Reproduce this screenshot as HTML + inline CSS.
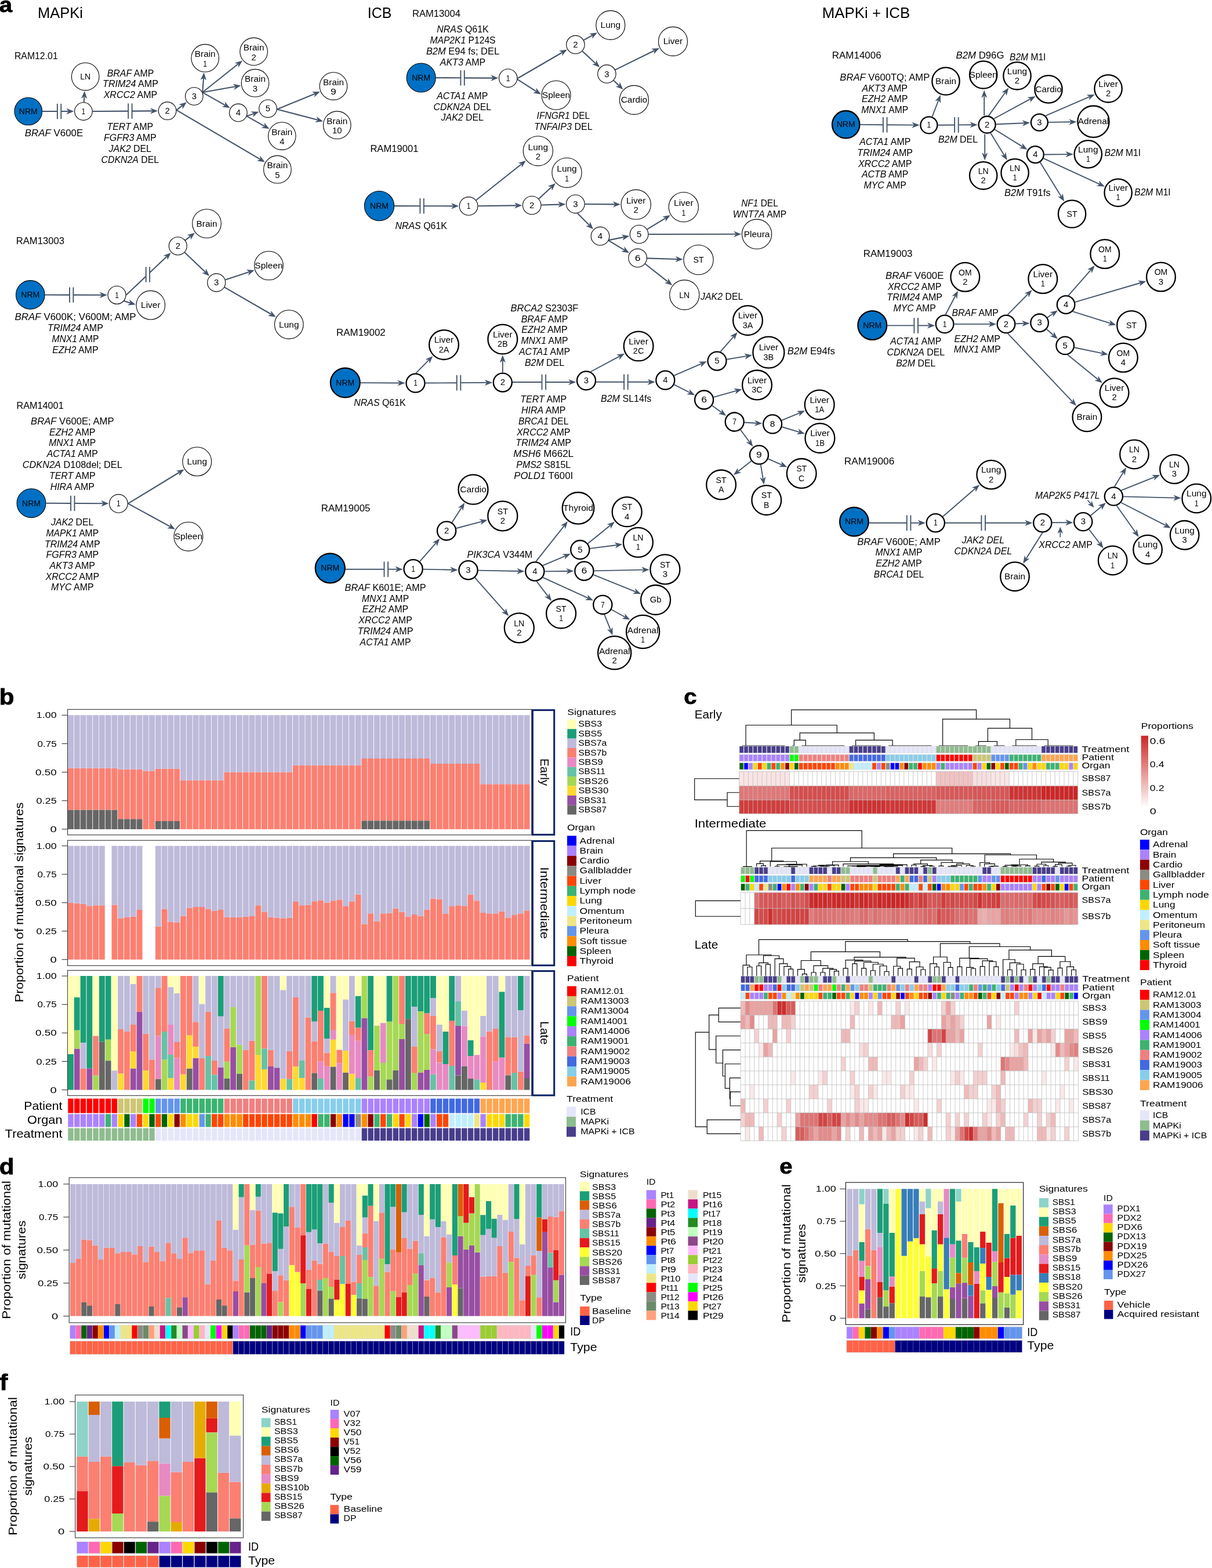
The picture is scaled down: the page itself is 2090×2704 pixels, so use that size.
<!DOCTYPE html>
<html lang="en"><head><meta charset="utf-8"><title>Figure</title>
<style>
html,body{margin:0;padding:0;background:#fff;}
svg{display:block;font-family:"Liberation Sans", sans-serif;}
text{font-family:"Liberation Sans", sans-serif;}
</style></head>
<body>
<svg width="2090" height="2704" viewBox="0 0 2090 2704">
<rect x="0" y="0" width="2090" height="2704" fill="#fff"/>
<g id="panel-a">
<text x="-1.2" y="21.2" font-size="37.5" font-weight="bold" stroke="#000" stroke-width="0.8" textLength="22.3" lengthAdjust="spacingAndGlyphs">a</text>
<text x="65" y="31.2" font-size="26" textLength="78" lengthAdjust="spacingAndGlyphs">MAPKi</text>
<text x="633.8" y="31.2" font-size="26" textLength="41.6" lengthAdjust="spacingAndGlyphs">ICB</text>
<text x="1417.8" y="30.6" font-size="26" textLength="151.4" lengthAdjust="spacingAndGlyphs">MAPKi + ICB</text>
<text x="24.9" y="102.4" font-size="15.7" textLength="74.8" lengthAdjust="spacingAndGlyphs">RAM12.01</text>
<line x1="98.9" y1="178.86" x2="98.9" y2="205.26" stroke="#44546A" stroke-width="1.9"/>
<line x1="105.3" y1="178.86" x2="105.3" y2="205.26" stroke="#44546A" stroke-width="1.9"/>
<line x1="73.15" y1="192.03" x2="98.9" y2="192.05" stroke="#44546A" stroke-width="2.1"/>
<line x1="105.3" y1="192.06" x2="117.7" y2="192.07" stroke="#44546A" stroke-width="2.1"/>
<polygon points="127.45,192.08 114.44,197.27 118.09,192.07 114.46,186.87" fill="#44546A"/>
<line x1="144.77" y1="176.27" x2="145.29" y2="166.75" stroke="#44546A" stroke-width="2.1"/>
<polygon points="145.83,157.01 150.31,170.28 145.32,166.36 139.92,169.71" fill="#44546A"/>
<line x1="221.2" y1="178.4" x2="221.2" y2="204.8" stroke="#44546A" stroke-width="1.9"/>
<line x1="227.6" y1="178.4" x2="227.6" y2="204.8" stroke="#44546A" stroke-width="1.9"/>
<line x1="159.75" y1="192" x2="221.2" y2="191.62" stroke="#44546A" stroke-width="2.1"/>
<line x1="227.6" y1="191.58" x2="262.4" y2="191.36" stroke="#44546A" stroke-width="2.1"/>
<polygon points="272.15,191.3 259.18,196.58 262.79,191.36 259.12,186.18" fill="#44546A"/>
<line x1="304.39" y1="189.82" x2="314.17" y2="182.16" stroke="#44546A" stroke-width="2.1"/>
<polygon points="321.85,176.14 314.82,188.25 314.48,181.91 308.41,180.07" fill="#44546A"/>
<line x1="304.39" y1="189.82" x2="448.49" y2="274.6" stroke="#44546A" stroke-width="2.1"/>
<polygon points="456.9,279.55 443.05,277.44 448.83,274.8 448.33,268.47" fill="#44546A"/>
<line x1="349.16" y1="159.3" x2="351.05" y2="134.8" stroke="#44546A" stroke-width="2.1"/>
<polygon points="351.79,125.08 355.98,138.44 351.08,134.41 345.61,137.64" fill="#44546A"/>
<line x1="349.16" y1="159.3" x2="410.45" y2="110.51" stroke="#44546A" stroke-width="2.1"/>
<polygon points="418.08,104.44 411.15,116.6 410.76,110.27 404.67,108.47" fill="#44546A"/>
<line x1="349.16" y1="159.3" x2="405.83" y2="149.26" stroke="#44546A" stroke-width="2.1"/>
<polygon points="415.43,147.55 403.54,154.94 406.22,149.19 401.72,144.7" fill="#44546A"/>
<line x1="349.16" y1="159.3" x2="388.12" y2="181.45" stroke="#44546A" stroke-width="2.1"/>
<polygon points="396.6,186.27 382.73,184.37 388.46,181.64 387.87,175.32" fill="#44546A"/>
<line x1="425.6" y1="200.34" x2="437.33" y2="196.13" stroke="#44546A" stroke-width="2.1"/>
<polygon points="446.51,192.85 436.03,202.12 437.7,196 432.52,192.33" fill="#44546A"/>
<line x1="425.6" y1="200.34" x2="456.08" y2="217.54" stroke="#44546A" stroke-width="2.1"/>
<polygon points="464.57,222.34 450.69,220.47 456.42,217.74 455.81,211.42" fill="#44546A"/>
<line x1="477.81" y1="188.41" x2="542.89" y2="161.75" stroke="#44546A" stroke-width="2.1"/>
<polygon points="551.91,158.06 541.85,167.8 543.25,161.6 537.91,158.17" fill="#44546A"/>
<line x1="477.81" y1="188.41" x2="547.75" y2="206.85" stroke="#44546A" stroke-width="2.1"/>
<polygon points="557.17,209.34 543.28,211.05 548.12,206.95 545.93,200.99" fill="#44546A"/>
<circle cx="48.8" cy="192" r="23.8" fill="#0070C4" stroke="#000" stroke-width="1.1"/>
<text x="48.8" y="197" font-size="14" text-anchor="middle" textLength="32" lengthAdjust="spacingAndGlyphs">NRM</text>
<circle cx="143.9" cy="192.1" r="15.3" fill="#fff" stroke="#000" stroke-width="1.1"/>
<text x="143.9" y="197.1" font-size="14" text-anchor="middle" textLength="6.7" lengthAdjust="spacingAndGlyphs">1</text>
<circle cx="147.2" cy="132.1" r="23.8" fill="#fff" stroke="#000" stroke-width="1.1"/>
<text x="147.2" y="137.1" font-size="14" text-anchor="middle" textLength="18" lengthAdjust="spacingAndGlyphs">LN</text>
<circle cx="288.6" cy="191.2" r="15.3" fill="#fff" stroke="#000" stroke-width="1.1"/>
<text x="288.6" y="196.2" font-size="14" text-anchor="middle" textLength="8.3" lengthAdjust="spacingAndGlyphs">2</text>
<circle cx="334.8" cy="166" r="15.3" fill="#fff" stroke="#000" stroke-width="1.1"/>
<text x="334.8" y="171" font-size="14" text-anchor="middle" textLength="8.3" lengthAdjust="spacingAndGlyphs">3</text>
<circle cx="353.7" cy="100.2" r="23.8" fill="#fff" stroke="#000" stroke-width="1.1"/>
<text x="353.7" y="98.4" font-size="14" text-anchor="middle" textLength="35.9" lengthAdjust="spacingAndGlyphs">Brain</text>
<text x="353.7" y="114.9" font-size="14" text-anchor="middle" textLength="6.7" lengthAdjust="spacingAndGlyphs">1</text>
<circle cx="437.6" cy="88.9" r="23.8" fill="#fff" stroke="#000" stroke-width="1.1"/>
<text x="437.6" y="87.1" font-size="14" text-anchor="middle" textLength="35.9" lengthAdjust="spacingAndGlyphs">Brain</text>
<text x="437.6" y="103.6" font-size="14" text-anchor="middle" textLength="8.3" lengthAdjust="spacingAndGlyphs">2</text>
<circle cx="440" cy="143.2" r="23.8" fill="#fff" stroke="#000" stroke-width="1.1"/>
<text x="440" y="141.4" font-size="14" text-anchor="middle" textLength="35.9" lengthAdjust="spacingAndGlyphs">Brain</text>
<text x="440" y="157.9" font-size="14" text-anchor="middle" textLength="8.3" lengthAdjust="spacingAndGlyphs">3</text>
<circle cx="410.9" cy="194.4" r="15.3" fill="#fff" stroke="#000" stroke-width="1.1"/>
<text x="410.9" y="199.4" font-size="14" text-anchor="middle" textLength="8.3" lengthAdjust="spacingAndGlyphs">4</text>
<circle cx="462" cy="187.3" r="15.3" fill="#fff" stroke="#000" stroke-width="1.1"/>
<text x="462" y="192.3" font-size="14" text-anchor="middle" textLength="8.3" lengthAdjust="spacingAndGlyphs">5</text>
<circle cx="486.3" cy="234.6" r="23.8" fill="#fff" stroke="#000" stroke-width="1.1"/>
<text x="486.3" y="232.8" font-size="14" text-anchor="middle" textLength="35.9" lengthAdjust="spacingAndGlyphs">Brain</text>
<text x="486.3" y="249.3" font-size="14" text-anchor="middle" textLength="8.3" lengthAdjust="spacingAndGlyphs">4</text>
<circle cx="478.4" cy="292.2" r="23.8" fill="#fff" stroke="#000" stroke-width="1.1"/>
<text x="478.4" y="290.4" font-size="14" text-anchor="middle" textLength="35.9" lengthAdjust="spacingAndGlyphs">Brain</text>
<text x="478.4" y="306.9" font-size="14" text-anchor="middle" textLength="8.3" lengthAdjust="spacingAndGlyphs">5</text>
<circle cx="575" cy="148.6" r="23.8" fill="#fff" stroke="#000" stroke-width="1.1"/>
<text x="575" y="146.8" font-size="14" text-anchor="middle" textLength="35.9" lengthAdjust="spacingAndGlyphs">Brain</text>
<text x="575" y="163.3" font-size="14" text-anchor="middle" textLength="9.8" lengthAdjust="spacingAndGlyphs">9</text>
<circle cx="581.3" cy="215.7" r="23.8" fill="#fff" stroke="#000" stroke-width="1.1"/>
<text x="581.3" y="213.9" font-size="14" text-anchor="middle" textLength="35.9" lengthAdjust="spacingAndGlyphs">Brain</text>
<text x="581.3" y="230.4" font-size="14" text-anchor="middle" textLength="16.5" lengthAdjust="spacingAndGlyphs">10</text>
<text x="225" y="131.5" font-size="15.7" text-anchor="middle" textLength="80.6" lengthAdjust="spacingAndGlyphs"><tspan font-style="italic">BRAF</tspan> AMP</text>
<text x="225" y="150.4" font-size="15.7" text-anchor="middle" textLength="95.8" lengthAdjust="spacingAndGlyphs"><tspan font-style="italic">TRIM24</tspan> AMP</text>
<text x="225" y="169.2" font-size="15.7" text-anchor="middle" textLength="92.6" lengthAdjust="spacingAndGlyphs"><tspan font-style="italic">XRCC2</tspan> AMP</text>
<text x="93" y="234.6" font-size="15.7" text-anchor="middle" textLength="100.5" lengthAdjust="spacingAndGlyphs"><tspan font-style="italic">BRAF</tspan> V600E</text>
<text x="224.3" y="224" font-size="15.7" text-anchor="middle" textLength="79.8" lengthAdjust="spacingAndGlyphs"><tspan font-style="italic">TERT</tspan> AMP</text>
<text x="224.3" y="242.8" font-size="15.7" text-anchor="middle" textLength="90.8" lengthAdjust="spacingAndGlyphs"><tspan font-style="italic">FGFR3</tspan> AMP</text>
<text x="224.3" y="261.6" font-size="15.7" text-anchor="middle" textLength="73.4" lengthAdjust="spacingAndGlyphs"><tspan font-style="italic">JAK2</tspan> DEL</text>
<text x="224.3" y="280.5" font-size="15.7" text-anchor="middle" textLength="99.6" lengthAdjust="spacingAndGlyphs"><tspan font-style="italic">CDKN2A</tspan> DEL</text>
<text x="27.7" y="421.3" font-size="15.7" textLength="83.2" lengthAdjust="spacingAndGlyphs">RAM13003</text>
<line x1="120" y1="495.39" x2="120" y2="521.79" stroke="#44546A" stroke-width="1.9"/>
<line x1="126.4" y1="495.39" x2="126.4" y2="521.79" stroke="#44546A" stroke-width="1.9"/>
<line x1="77.65" y1="508.47" x2="120" y2="508.58" stroke="#44546A" stroke-width="2.1"/>
<line x1="126.4" y1="508.6" x2="175.1" y2="508.73" stroke="#44546A" stroke-width="2.1"/>
<polygon points="184.85,508.76 171.84,513.92 175.49,508.73 171.86,503.52" fill="#44546A"/>
<line x1="251.7" y1="460.2" x2="251.7" y2="486.6" stroke="#44546A" stroke-width="1.9"/>
<line x1="258.1" y1="460.2" x2="258.1" y2="486.6" stroke="#44546A" stroke-width="1.9"/>
<line x1="217.55" y1="508.8" x2="251.7" y2="476.43" stroke="#44546A" stroke-width="2.1"/>
<line x1="258.1" y1="470.36" x2="287.64" y2="442.36" stroke="#44546A" stroke-width="2.1"/>
<polygon points="294.72,435.65 288.86,448.37 287.92,442.09 281.7,440.82" fill="#44546A"/>
<line x1="213.8" y1="519.12" x2="224.55" y2="522.43" stroke="#44546A" stroke-width="2.1"/>
<polygon points="233.87,525.29 219.91,526.44 224.92,522.54 222.97,516.5" fill="#44546A"/>
<line x1="319.46" y1="414.34" x2="328.33" y2="407.43" stroke="#44546A" stroke-width="2.1"/>
<polygon points="336.03,401.44 328.96,413.53 328.64,407.19 322.57,405.33" fill="#44546A"/>
<line x1="318.43" y1="435.27" x2="354.08" y2="469.2" stroke="#44546A" stroke-width="2.1"/>
<polygon points="361.14,475.92 348.14,470.72 354.36,469.47 355.31,463.19" fill="#44546A"/>
<line x1="388.46" y1="482.43" x2="429.55" y2="469.05" stroke="#44546A" stroke-width="2.1"/>
<polygon points="438.82,466.03 428.07,475 429.92,468.93 424.85,465.11" fill="#44546A"/>
<line x1="387.1" y1="495.42" x2="467.38" y2="541.75" stroke="#44546A" stroke-width="2.1"/>
<polygon points="475.82,546.63 461.97,544.63 467.72,541.95 467.16,535.63" fill="#44546A"/>
<circle cx="52.3" cy="508.4" r="24.8" fill="#0070C4" stroke="#000" stroke-width="1.1"/>
<text x="52.3" y="513.4" font-size="14" text-anchor="middle" textLength="32" lengthAdjust="spacingAndGlyphs">NRM</text>
<circle cx="201.5" cy="508.8" r="15.5" fill="#fff" stroke="#000" stroke-width="1.1"/>
<text x="201.5" y="513.8" font-size="14" text-anchor="middle" textLength="6.7" lengthAdjust="spacingAndGlyphs">1</text>
<circle cx="259.8" cy="526.2" r="24.8" fill="#fff" stroke="#000" stroke-width="1.1"/>
<text x="259.8" y="531.2" font-size="14" text-anchor="middle" textLength="33.5" lengthAdjust="spacingAndGlyphs">Liver</text>
<circle cx="306.8" cy="424.2" r="15.5" fill="#fff" stroke="#000" stroke-width="1.1"/>
<text x="306.8" y="429.2" font-size="14" text-anchor="middle" textLength="8.3" lengthAdjust="spacingAndGlyphs">2</text>
<circle cx="356.5" cy="385.5" r="24.8" fill="#fff" stroke="#000" stroke-width="1.1"/>
<text x="356.5" y="390.5" font-size="14" text-anchor="middle" textLength="35.9" lengthAdjust="spacingAndGlyphs">Brain</text>
<circle cx="373.2" cy="487.4" r="15.5" fill="#fff" stroke="#000" stroke-width="1.1"/>
<text x="373.2" y="492.4" font-size="14" text-anchor="middle" textLength="8.3" lengthAdjust="spacingAndGlyphs">3</text>
<circle cx="463.5" cy="458" r="24.8" fill="#fff" stroke="#000" stroke-width="1.1"/>
<text x="463.5" y="463" font-size="14" text-anchor="middle" textLength="48.3" lengthAdjust="spacingAndGlyphs">Spleen</text>
<circle cx="498.3" cy="559.6" r="24.8" fill="#fff" stroke="#000" stroke-width="1.1"/>
<text x="498.3" y="564.6" font-size="14" text-anchor="middle" textLength="34.4" lengthAdjust="spacingAndGlyphs">Lung</text>
<text x="130" y="552.1" font-size="15.7" text-anchor="middle" textLength="209" lengthAdjust="spacingAndGlyphs"><tspan font-style="italic">BRAF</tspan> V600K; V600M; AMP</text>
<text x="130" y="571" font-size="15.7" text-anchor="middle" textLength="95.8" lengthAdjust="spacingAndGlyphs"><tspan font-style="italic">TRIM24</tspan> AMP</text>
<text x="130" y="589.8" font-size="15.7" text-anchor="middle" textLength="81.1" lengthAdjust="spacingAndGlyphs"><tspan font-style="italic">MNX1</tspan> AMP</text>
<text x="130" y="608.6" font-size="15.7" text-anchor="middle" textLength="79.5" lengthAdjust="spacingAndGlyphs"><tspan font-style="italic">EZH2</tspan> AMP</text>
<text x="28.4" y="705" font-size="15.7" textLength="81.3" lengthAdjust="spacingAndGlyphs">RAM14001</text>
<line x1="122.1" y1="854.83" x2="122.1" y2="881.23" stroke="#44546A" stroke-width="1.9"/>
<line x1="128.5" y1="854.83" x2="128.5" y2="881.23" stroke="#44546A" stroke-width="1.9"/>
<line x1="79.45" y1="867.82" x2="122.1" y2="868.02" stroke="#44546A" stroke-width="2.1"/>
<line x1="128.5" y1="868.05" x2="177.7" y2="868.28" stroke="#44546A" stroke-width="2.1"/>
<polygon points="187.45,868.32 174.43,873.46 178.09,868.28 174.47,863.06" fill="#44546A"/>
<line x1="220.75" y1="868.4" x2="309.22" y2="814.52" stroke="#44546A" stroke-width="2.1"/>
<polygon points="317.55,809.45 309.15,820.65 309.56,814.32 303.74,811.77" fill="#44546A"/>
<line x1="220.75" y1="868.4" x2="293.47" y2="908.06" stroke="#44546A" stroke-width="2.1"/>
<polygon points="302.03,912.73 288.13,911.07 293.81,908.25 293.11,901.94" fill="#44546A"/>
<circle cx="54" cy="867.7" r="24.9" fill="#0070C4" stroke="#000" stroke-width="1.1"/>
<text x="54" y="872.7" font-size="14" text-anchor="middle" textLength="32" lengthAdjust="spacingAndGlyphs">NRM</text>
<circle cx="204.4" cy="868.4" r="15.8" fill="#fff" stroke="#000" stroke-width="1.1"/>
<text x="204.4" y="873.4" font-size="14" text-anchor="middle" textLength="6.7" lengthAdjust="spacingAndGlyphs">1</text>
<circle cx="339.8" cy="795.9" r="24.9" fill="#fff" stroke="#000" stroke-width="1.1"/>
<text x="339.8" y="800.9" font-size="14" text-anchor="middle" textLength="34.4" lengthAdjust="spacingAndGlyphs">Lung</text>
<circle cx="324.9" cy="925.2" r="24.9" fill="#fff" stroke="#000" stroke-width="1.1"/>
<text x="324.9" y="930.2" font-size="14" text-anchor="middle" textLength="48.3" lengthAdjust="spacingAndGlyphs">Spleen</text>
<text x="124.8" y="731.6" font-size="15.7" text-anchor="middle" textLength="143.5" lengthAdjust="spacingAndGlyphs"><tspan font-style="italic">BRAF</tspan> V600E; AMP</text>
<text x="124.8" y="750.5" font-size="15.7" text-anchor="middle" textLength="79.5" lengthAdjust="spacingAndGlyphs"><tspan font-style="italic">EZH2</tspan> AMP</text>
<text x="124.8" y="769.3" font-size="15.7" text-anchor="middle" textLength="81.1" lengthAdjust="spacingAndGlyphs"><tspan font-style="italic">MNX1</tspan> AMP</text>
<text x="124.8" y="788.2" font-size="15.7" text-anchor="middle" textLength="88.1" lengthAdjust="spacingAndGlyphs"><tspan font-style="italic">ACTA1</tspan> AMP</text>
<text x="124.8" y="807" font-size="15.7" text-anchor="middle" textLength="172" lengthAdjust="spacingAndGlyphs"><tspan font-style="italic">CDKN2A</tspan> D108del; DEL</text>
<text x="124.8" y="825.9" font-size="15.7" text-anchor="middle" textLength="79.8" lengthAdjust="spacingAndGlyphs"><tspan font-style="italic">TERT</tspan> AMP</text>
<text x="124.8" y="844.7" font-size="15.7" text-anchor="middle" textLength="76.3" lengthAdjust="spacingAndGlyphs"><tspan font-style="italic">HIRA</tspan> AMP</text>
<text x="124.8" y="906.4" font-size="15.7" text-anchor="middle" textLength="73.4" lengthAdjust="spacingAndGlyphs"><tspan font-style="italic">JAK2</tspan> DEL</text>
<text x="124.8" y="925.1" font-size="15.7" text-anchor="middle" textLength="90.7" lengthAdjust="spacingAndGlyphs"><tspan font-style="italic">MAPK1</tspan> AMP</text>
<text x="124.8" y="943.8" font-size="15.7" text-anchor="middle" textLength="95.8" lengthAdjust="spacingAndGlyphs"><tspan font-style="italic">TRIM24</tspan> AMP</text>
<text x="124.8" y="962.4" font-size="15.7" text-anchor="middle" textLength="90.8" lengthAdjust="spacingAndGlyphs"><tspan font-style="italic">FGFR3</tspan> AMP</text>
<text x="124.8" y="981.1" font-size="15.7" text-anchor="middle" textLength="78.6" lengthAdjust="spacingAndGlyphs"><tspan font-style="italic">AKT3</tspan> AMP</text>
<text x="124.8" y="999.8" font-size="15.7" text-anchor="middle" textLength="92.6" lengthAdjust="spacingAndGlyphs"><tspan font-style="italic">XRCC2</tspan> AMP</text>
<text x="124.8" y="1018.4" font-size="15.7" text-anchor="middle" textLength="73.6" lengthAdjust="spacingAndGlyphs"><tspan font-style="italic">MYC</tspan> AMP</text>
<text x="710.9" y="29.1" font-size="15.7" textLength="83.2" lengthAdjust="spacingAndGlyphs">RAM13004</text>
<line x1="794.4" y1="121.13" x2="794.4" y2="147.53" stroke="#44546A" stroke-width="1.9"/>
<line x1="800.8" y1="121.13" x2="800.8" y2="147.53" stroke="#44546A" stroke-width="1.9"/>
<line x1="751.75" y1="134.12" x2="794.4" y2="134.32" stroke="#44546A" stroke-width="2.1"/>
<line x1="800.8" y1="134.35" x2="849.6" y2="134.58" stroke="#44546A" stroke-width="2.1"/>
<polygon points="859.35,134.62 846.33,139.76 849.99,134.58 846.37,129.36" fill="#44546A"/>
<line x1="892.44" y1="135.27" x2="969.41" y2="90.48" stroke="#44546A" stroke-width="2.1"/>
<polygon points="977.84,85.57 969.22,96.61 969.75,90.28 963.98,87.62" fill="#44546A"/>
<line x1="892.29" y1="136.96" x2="924.66" y2="157.59" stroke="#44546A" stroke-width="2.1"/>
<polygon points="932.89,162.83 919.13,160.23 924.99,157.8 924.72,151.46" fill="#44546A"/>
<line x1="1006.59" y1="69.18" x2="1021.45" y2="60.89" stroke="#44546A" stroke-width="2.1"/>
<polygon points="1029.96,56.14 1021.15,67.02 1021.79,60.7 1016.08,57.93" fill="#44546A"/>
<line x1="1004.27" y1="88.2" x2="1026.97" y2="109.43" stroke="#44546A" stroke-width="2.1"/>
<polygon points="1034.09,116.09 1021.05,111.01 1027.26,109.7 1028.15,103.41" fill="#44546A"/>
<line x1="1060.98" y1="120.42" x2="1128.29" y2="87.26" stroke="#44546A" stroke-width="2.1"/>
<polygon points="1137.04,82.95 1127.68,93.36 1128.64,87.09 1123.08,84.03" fill="#44546A"/>
<line x1="1058.16" y1="138.81" x2="1067.41" y2="147.63" stroke="#44546A" stroke-width="2.1"/>
<polygon points="1074.47,154.36 1061.47,149.15 1067.7,147.9 1068.65,141.62" fill="#44546A"/>
<circle cx="726.2" cy="134" r="25" fill="#0070C4" stroke="#000" stroke-width="1.1"/>
<text x="726.2" y="139" font-size="14" text-anchor="middle" textLength="32" lengthAdjust="spacingAndGlyphs">NRM</text>
<circle cx="876.2" cy="134.7" r="15.7" fill="#fff" stroke="#000" stroke-width="1.1"/>
<text x="876.2" y="139.7" font-size="14" text-anchor="middle" textLength="6.7" lengthAdjust="spacingAndGlyphs">1</text>
<circle cx="992.4" cy="77.1" r="15.7" fill="#fff" stroke="#000" stroke-width="1.1"/>
<text x="992.4" y="82.1" font-size="14" text-anchor="middle" textLength="8.3" lengthAdjust="spacingAndGlyphs">2</text>
<circle cx="1052.8" cy="43.4" r="25" fill="#fff" stroke="#000" stroke-width="1.1"/>
<text x="1052.8" y="48.4" font-size="14" text-anchor="middle" textLength="34.4" lengthAdjust="spacingAndGlyphs">Lung</text>
<circle cx="1046.4" cy="127.6" r="15.7" fill="#fff" stroke="#000" stroke-width="1.1"/>
<text x="1046.4" y="132.6" font-size="14" text-anchor="middle" textLength="8.3" lengthAdjust="spacingAndGlyphs">3</text>
<circle cx="1160.5" cy="71.4" r="25" fill="#fff" stroke="#000" stroke-width="1.1"/>
<text x="1160.5" y="76.4" font-size="14" text-anchor="middle" textLength="33.5" lengthAdjust="spacingAndGlyphs">Liver</text>
<circle cx="959" cy="164.2" r="25" fill="#fff" stroke="#000" stroke-width="1.1"/>
<text x="959" y="169.2" font-size="14" text-anchor="middle" textLength="48.3" lengthAdjust="spacingAndGlyphs">Spleen</text>
<circle cx="1093.4" cy="172.4" r="25" fill="#fff" stroke="#000" stroke-width="1.1"/>
<text x="1093.4" y="177.4" font-size="14" text-anchor="middle" textLength="45.5" lengthAdjust="spacingAndGlyphs">Cardio</text>
<text x="798" y="56.2" font-size="15.7" text-anchor="middle" textLength="89.5" lengthAdjust="spacingAndGlyphs"><tspan font-style="italic">NRAS</tspan> Q61K</text>
<text x="798" y="75" font-size="15.7" text-anchor="middle" textLength="113.1" lengthAdjust="spacingAndGlyphs"><tspan font-style="italic">MAP2K1</tspan> P124S</text>
<text x="798" y="93.8" font-size="15.7" text-anchor="middle" textLength="126.2" lengthAdjust="spacingAndGlyphs"><tspan font-style="italic">B2M</tspan> E94 fs; DEL</text>
<text x="798" y="112.7" font-size="15.7" text-anchor="middle" textLength="78.6" lengthAdjust="spacingAndGlyphs"><tspan font-style="italic">AKT3</tspan> AMP</text>
<text x="797.3" y="170.6" font-size="15.7" text-anchor="middle" textLength="88.1" lengthAdjust="spacingAndGlyphs"><tspan font-style="italic">ACTA1</tspan> AMP</text>
<text x="797.3" y="189.5" font-size="15.7" text-anchor="middle" textLength="99.6" lengthAdjust="spacingAndGlyphs"><tspan font-style="italic">CDKN2A</tspan> DEL</text>
<text x="797.3" y="208.3" font-size="15.7" text-anchor="middle" textLength="73.4" lengthAdjust="spacingAndGlyphs"><tspan font-style="italic">JAK2</tspan> DEL</text>
<text x="971.4" y="205.1" font-size="15.7" text-anchor="middle" textLength="91.6" lengthAdjust="spacingAndGlyphs"><tspan font-style="italic">IFNGR1</tspan> DEL</text>
<text x="971.4" y="223.9" font-size="15.7" text-anchor="middle" textLength="100.5" lengthAdjust="spacingAndGlyphs"><tspan font-style="italic">TNFAIP3</tspan> DEL</text>
<text x="638.4" y="262" font-size="15.7" textLength="83" lengthAdjust="spacingAndGlyphs">RAM19001</text>
<line x1="724.4" y1="342.04" x2="724.4" y2="368.44" stroke="#44546A" stroke-width="1.9"/>
<line x1="730.8" y1="342.04" x2="730.8" y2="368.44" stroke="#44546A" stroke-width="1.9"/>
<line x1="680.15" y1="355.15" x2="724.4" y2="355.24" stroke="#44546A" stroke-width="2.1"/>
<line x1="730.8" y1="355.25" x2="781.4" y2="355.35" stroke="#44546A" stroke-width="2.1"/>
<polygon points="791.15,355.37 778.14,360.54 781.79,355.35 778.16,350.14" fill="#44546A"/>
<line x1="820.9" y1="345.23" x2="899.22" y2="283.01" stroke="#44546A" stroke-width="2.1"/>
<polygon points="906.86,276.94 899.91,289.1 899.53,282.76 893.44,280.96" fill="#44546A"/>
<line x1="824.45" y1="355.19" x2="890.5" y2="354.34" stroke="#44546A" stroke-width="2.1"/>
<polygon points="900.25,354.22 887.32,359.58 890.89,354.34 887.19,349.18" fill="#44546A"/>
<line x1="929.16" y1="342.85" x2="950.8" y2="322.69" stroke="#44546A" stroke-width="2.1"/>
<polygon points="957.93,316.04 951.97,328.71 951.08,322.42 944.88,321.1" fill="#44546A"/>
<line x1="933.54" y1="353.52" x2="965.61" y2="352.58" stroke="#44546A" stroke-width="2.1"/>
<polygon points="975.36,352.3 962.52,357.87 966,352.57 962.21,347.48" fill="#44546A"/>
<line x1="1008.65" y1="351.94" x2="1060.2" y2="352.39" stroke="#44546A" stroke-width="2.1"/>
<polygon points="1069.95,352.47 1056.91,357.56 1060.59,352.39 1057,347.16" fill="#44546A"/>
<line x1="995.7" y1="367.79" x2="1016.15" y2="388.29" stroke="#44546A" stroke-width="2.1"/>
<polygon points="1023.03,395.2 1010.17,389.67 1016.42,388.57 1017.53,382.32" fill="#44546A"/>
<line x1="1049.82" y1="414.11" x2="1075.85" y2="408.87" stroke="#44546A" stroke-width="2.1"/>
<polygon points="1085.41,406.94 1073.69,414.61 1076.23,408.79 1071.64,404.41" fill="#44546A"/>
<line x1="1049.44" y1="414.88" x2="1076.69" y2="431.19" stroke="#44546A" stroke-width="2.1"/>
<polygon points="1085.06,436.2 1071.23,433.98 1077.02,431.39 1076.57,425.06" fill="#44546A"/>
<line x1="1116.05" y1="395.47" x2="1147.66" y2="376.14" stroke="#44546A" stroke-width="2.1"/>
<polygon points="1155.98,371.05 1147.6,382.27 1147.99,375.94 1142.17,373.4" fill="#44546A"/>
<line x1="1118.45" y1="403.98" x2="1268.6" y2="403.75" stroke="#44546A" stroke-width="2.1"/>
<polygon points="1278.35,403.74 1265.36,408.96 1268.99,403.75 1265.34,398.56" fill="#44546A"/>
<line x1="1115.94" y1="445.4" x2="1168.02" y2="446.99" stroke="#44546A" stroke-width="2.1"/>
<polygon points="1177.76,447.28 1164.61,452.09 1168.41,447 1164.93,441.69" fill="#44546A"/>
<line x1="1112.44" y1="455.02" x2="1151.63" y2="485.91" stroke="#44546A" stroke-width="2.1"/>
<polygon points="1159.29,491.94 1145.86,487.98 1151.94,486.15 1152.3,479.81" fill="#44546A"/>
<circle cx="654" cy="355.1" r="25.6" fill="#0070C4" stroke="#000" stroke-width="1.1"/>
<text x="654" y="360.1" font-size="14" text-anchor="middle" textLength="32" lengthAdjust="spacingAndGlyphs">NRM</text>
<circle cx="808.1" cy="355.4" r="15.8" fill="#fff" stroke="#000" stroke-width="1.1"/>
<text x="808.1" y="360.4" font-size="14" text-anchor="middle" textLength="6.7" lengthAdjust="spacingAndGlyphs">1</text>
<circle cx="927.8" cy="260.3" r="25.6" fill="#fff" stroke="#000" stroke-width="1.1"/>
<text x="927.8" y="258.5" font-size="14" text-anchor="middle" textLength="34.4" lengthAdjust="spacingAndGlyphs">Lung</text>
<text x="927.8" y="275" font-size="14" text-anchor="middle" textLength="8.3" lengthAdjust="spacingAndGlyphs">2</text>
<circle cx="977.5" cy="297.8" r="25.6" fill="#fff" stroke="#000" stroke-width="1.1"/>
<text x="977.5" y="296" font-size="14" text-anchor="middle" textLength="34.4" lengthAdjust="spacingAndGlyphs">Lung</text>
<text x="977.5" y="312.5" font-size="14" text-anchor="middle" textLength="6.7" lengthAdjust="spacingAndGlyphs">1</text>
<circle cx="917.2" cy="354" r="15.8" fill="#fff" stroke="#000" stroke-width="1.1"/>
<text x="917.2" y="359" font-size="14" text-anchor="middle" textLength="8.3" lengthAdjust="spacingAndGlyphs">2</text>
<circle cx="992.3" cy="351.8" r="15.8" fill="#fff" stroke="#000" stroke-width="1.1"/>
<text x="992.3" y="356.8" font-size="14" text-anchor="middle" textLength="8.3" lengthAdjust="spacingAndGlyphs">3</text>
<circle cx="1096.7" cy="352.7" r="25.6" fill="#fff" stroke="#000" stroke-width="1.1"/>
<text x="1096.7" y="350.9" font-size="14" text-anchor="middle" textLength="33.5" lengthAdjust="spacingAndGlyphs">Liver</text>
<text x="1096.7" y="367.4" font-size="14" text-anchor="middle" textLength="8.3" lengthAdjust="spacingAndGlyphs">2</text>
<circle cx="1178.8" cy="357.1" r="25.6" fill="#fff" stroke="#000" stroke-width="1.1"/>
<text x="1178.8" y="355.3" font-size="14" text-anchor="middle" textLength="33.5" lengthAdjust="spacingAndGlyphs">Liver</text>
<text x="1178.8" y="371.8" font-size="14" text-anchor="middle" textLength="6.7" lengthAdjust="spacingAndGlyphs">1</text>
<circle cx="1035" cy="407.2" r="15.8" fill="#fff" stroke="#000" stroke-width="1.1"/>
<text x="1035" y="412.2" font-size="14" text-anchor="middle" textLength="8.3" lengthAdjust="spacingAndGlyphs">4</text>
<circle cx="1102.1" cy="404" r="15.8" fill="#fff" stroke="#000" stroke-width="1.1"/>
<text x="1102.1" y="409" font-size="14" text-anchor="middle" textLength="8.3" lengthAdjust="spacingAndGlyphs">5</text>
<circle cx="1099.6" cy="444.9" r="15.8" fill="#fff" stroke="#000" stroke-width="1.1"/>
<text x="1099.6" y="449.9" font-size="14" text-anchor="middle" textLength="9.8" lengthAdjust="spacingAndGlyphs">6</text>
<circle cx="1305.1" cy="403.7" r="25.6" fill="#fff" stroke="#000" stroke-width="1.1"/>
<text x="1305.1" y="408.7" font-size="14" text-anchor="middle" textLength="44.8" lengthAdjust="spacingAndGlyphs">Pleura</text>
<circle cx="1204.5" cy="448.1" r="25.6" fill="#fff" stroke="#000" stroke-width="1.1"/>
<text x="1204.5" y="453.1" font-size="14" text-anchor="middle" textLength="18" lengthAdjust="spacingAndGlyphs">ST</text>
<circle cx="1180.3" cy="508.5" r="25.6" fill="#fff" stroke="#000" stroke-width="1.1"/>
<text x="1180.3" y="513.5" font-size="14" text-anchor="middle" textLength="18" lengthAdjust="spacingAndGlyphs">LN</text>
<text x="726.2" y="395.3" font-size="15.7" text-anchor="middle" textLength="89.5" lengthAdjust="spacingAndGlyphs"><tspan font-style="italic">NRAS</tspan> Q61K</text>
<text x="1310" y="355.7" font-size="15.7" text-anchor="middle" textLength="63.6" lengthAdjust="spacingAndGlyphs"><tspan font-style="italic">NF1</tspan> DEL</text>
<text x="1310" y="374.5" font-size="15.7" text-anchor="middle" textLength="92.5" lengthAdjust="spacingAndGlyphs"><tspan font-style="italic">WNT7A</tspan> AMP</text>
<text x="1208" y="517.4" font-size="15.7" textLength="73.4" lengthAdjust="spacingAndGlyphs"><tspan font-style="italic">JAK2</tspan> DEL</text>
<text x="580" y="578.9" font-size="15.7" textLength="84.8" lengthAdjust="spacingAndGlyphs">RAM19002</text>
<line x1="621.85" y1="660.15" x2="688.85" y2="660.54" stroke="#44546A" stroke-width="1.9"/>
<polygon points="698.75,660.6 685.52,665.62 689.25,660.54 685.58,655.42" fill="#44546A"/>
<line x1="717.1" y1="643.56" x2="739.45" y2="620.95" stroke="#44546A" stroke-width="1.9"/>
<polygon points="746.41,613.91 740.76,626.88 739.73,620.67 733.51,619.71" fill="#44546A"/>
<line x1="787.7" y1="646.85" x2="787.7" y2="673.45" stroke="#44546A" stroke-width="1.9"/>
<line x1="794.3" y1="646.85" x2="794.3" y2="673.45" stroke="#44546A" stroke-width="1.9"/>
<line x1="733.65" y1="660.57" x2="787.7" y2="660.18" stroke="#44546A" stroke-width="1.9"/>
<line x1="794.3" y1="660.13" x2="839.15" y2="659.8" stroke="#44546A" stroke-width="1.9"/>
<polygon points="849.05,659.73 835.89,664.93 839.55,659.8 835.81,654.73" fill="#44546A"/>
<line x1="866.8" y1="642.45" x2="866.8" y2="622.05" stroke="#44546A" stroke-width="1.9"/>
<polygon points="866.8,612.15 871.9,625.35 866.8,621.65 861.7,625.35" fill="#44546A"/>
<line x1="934.5" y1="645.7" x2="934.5" y2="672.3" stroke="#44546A" stroke-width="1.9"/>
<line x1="941.1" y1="645.7" x2="941.1" y2="672.3" stroke="#44546A" stroke-width="1.9"/>
<line x1="883.94" y1="659" x2="934.5" y2="659" stroke="#44546A" stroke-width="1.9"/>
<line x1="941.1" y1="659" x2="983.54" y2="659" stroke="#44546A" stroke-width="1.9"/>
<polygon points="993.44,659 980.24,664.1 983.94,659 980.24,653.9" fill="#44546A"/>
<line x1="1018.52" y1="640.99" x2="1068.4" y2="614.42" stroke="#44546A" stroke-width="1.9"/>
<polygon points="1077.14,609.76 1067.88,620.47 1068.75,614.23 1063.09,611.47" fill="#44546A"/>
<line x1="1076.1" y1="645.5" x2="1076.1" y2="672.1" stroke="#44546A" stroke-width="1.9"/>
<line x1="1082.7" y1="645.5" x2="1082.7" y2="672.1" stroke="#44546A" stroke-width="1.9"/>
<line x1="1027.98" y1="658.8" x2="1076.1" y2="658.8" stroke="#44546A" stroke-width="1.9"/>
<line x1="1082.7" y1="658.8" x2="1119.92" y2="658.8" stroke="#44546A" stroke-width="1.9"/>
<polygon points="1129.82,658.8 1116.62,663.9 1120.32,658.8 1116.62,653.7" fill="#44546A"/>
<line x1="1162.44" y1="647.65" x2="1209.68" y2="627.16" stroke="#44546A" stroke-width="1.9"/>
<polygon points="1218.76,623.22 1208.68,633.15 1210.04,627 1204.62,623.79" fill="#44546A"/>
<line x1="1162.6" y1="663.44" x2="1189.43" y2="677.02" stroke="#44546A" stroke-width="1.9"/>
<polygon points="1198.26,681.49 1184.18,680.08 1189.78,677.2 1188.79,670.98" fill="#44546A"/>
<line x1="1242.37" y1="606.48" x2="1265.11" y2="580.49" stroke="#44546A" stroke-width="1.9"/>
<polygon points="1271.62,573.04 1266.77,586.33 1265.37,580.19 1259.1,579.61" fill="#44546A"/>
<line x1="1253.41" y1="619.77" x2="1287.28" y2="614.09" stroke="#44546A" stroke-width="1.9"/>
<polygon points="1297.05,612.45 1284.87,619.66 1287.67,614.02 1283.18,609.6" fill="#44546A"/>
<line x1="1230.61" y1="684.87" x2="1269.82" y2="673.89" stroke="#44546A" stroke-width="1.9"/>
<polygon points="1279.36,671.22 1268.02,679.69 1270.2,673.79 1265.27,669.87" fill="#44546A"/>
<line x1="1228" y1="699.54" x2="1244.29" y2="711.31" stroke="#44546A" stroke-width="1.9"/>
<polygon points="1252.31,717.11 1238.63,713.51 1244.61,711.54 1244.6,705.24" fill="#44546A"/>
<line x1="1283.82" y1="728.52" x2="1304.5" y2="729.75" stroke="#44546A" stroke-width="1.9"/>
<polygon points="1314.38,730.34 1300.9,734.65 1304.89,729.78 1301.51,724.47" fill="#44546A"/>
<line x1="1276.93" y1="741.26" x2="1292.5" y2="762.21" stroke="#44546A" stroke-width="1.9"/>
<polygon points="1298.41,770.16 1286.44,762.6 1292.74,762.53 1294.63,756.52" fill="#44546A"/>
<line x1="1347.96" y1="724.87" x2="1378.94" y2="712.11" stroke="#44546A" stroke-width="1.9"/>
<polygon points="1388.1,708.34 1377.83,718.08 1379.31,711.96 1373.95,708.65" fill="#44546A"/>
<line x1="1348.55" y1="736.27" x2="1378.37" y2="745.09" stroke="#44546A" stroke-width="1.9"/>
<polygon points="1387.87,747.9 1373.76,749.04 1378.75,745.2 1376.65,739.26" fill="#44546A"/>
<line x1="1295.53" y1="795.01" x2="1272.71" y2="812.98" stroke="#44546A" stroke-width="1.9"/>
<polygon points="1264.93,819.1 1272.15,806.93 1272.4,813.22 1278.46,814.94" fill="#44546A"/>
<line x1="1311.77" y1="801.32" x2="1315.82" y2="826.04" stroke="#44546A" stroke-width="1.9"/>
<polygon points="1317.41,835.81 1310.25,823.6 1315.88,826.43 1320.32,821.96" fill="#44546A"/>
<line x1="1324.71" y1="791.27" x2="1348.25" y2="801.56" stroke="#44546A" stroke-width="1.9"/>
<polygon points="1357.32,805.52 1343.19,804.91 1348.61,801.72 1347.27,795.56" fill="#44546A"/>
<circle cx="595.3" cy="660" r="25.4" fill="#0070C4" stroke="#000" stroke-width="2.3"/>
<text x="595.3" y="664.6" font-size="14" text-anchor="middle" textLength="32" lengthAdjust="spacingAndGlyphs">NRM</text>
<circle cx="716.5" cy="660.7" r="16" fill="#fff" stroke="#000" stroke-width="2.3"/>
<text x="716.5" y="665.3" font-size="14" text-anchor="middle" textLength="6.7" lengthAdjust="spacingAndGlyphs">1</text>
<circle cx="765.5" cy="594.6" r="25.4" fill="#fff" stroke="#000" stroke-width="2.3"/>
<text x="765.5" y="591.3" font-size="14" text-anchor="middle" textLength="33.5" lengthAdjust="spacingAndGlyphs">Liver</text>
<text x="765.5" y="607.7" font-size="14" text-anchor="middle" textLength="17.7" lengthAdjust="spacingAndGlyphs">2A</text>
<circle cx="866.8" cy="659.6" r="16" fill="#fff" stroke="#000" stroke-width="2.3"/>
<text x="866.8" y="664.2" font-size="14" text-anchor="middle" textLength="8.3" lengthAdjust="spacingAndGlyphs">2</text>
<circle cx="866.8" cy="585" r="25.4" fill="#fff" stroke="#000" stroke-width="2.3"/>
<text x="866.8" y="581.7" font-size="14" text-anchor="middle" textLength="33.5" lengthAdjust="spacingAndGlyphs">Liver</text>
<text x="866.8" y="598.1" font-size="14" text-anchor="middle" textLength="17.7" lengthAdjust="spacingAndGlyphs">2B</text>
<circle cx="1011" cy="656.4" r="16" fill="#fff" stroke="#000" stroke-width="2.3"/>
<text x="1011" y="661" font-size="14" text-anchor="middle" textLength="8.3" lengthAdjust="spacingAndGlyphs">3</text>
<circle cx="1101.1" cy="597" r="25.4" fill="#fff" stroke="#000" stroke-width="2.3"/>
<text x="1101.1" y="593.7" font-size="14" text-anchor="middle" textLength="33.5" lengthAdjust="spacingAndGlyphs">Liver</text>
<text x="1101.1" y="610.1" font-size="14" text-anchor="middle" textLength="18.5" lengthAdjust="spacingAndGlyphs">2C</text>
<circle cx="1147.3" cy="655.7" r="16" fill="#fff" stroke="#000" stroke-width="2.3"/>
<text x="1147.3" y="660.3" font-size="14" text-anchor="middle" textLength="8.3" lengthAdjust="spacingAndGlyphs">4</text>
<circle cx="1236.5" cy="622.6" r="16" fill="#fff" stroke="#000" stroke-width="2.3"/>
<text x="1236.5" y="627.2" font-size="14" text-anchor="middle" textLength="8.3" lengthAdjust="spacingAndGlyphs">5</text>
<circle cx="1289.5" cy="552.6" r="25.4" fill="#fff" stroke="#000" stroke-width="2.3"/>
<text x="1289.5" y="549.3" font-size="14" text-anchor="middle" textLength="33.5" lengthAdjust="spacingAndGlyphs">Liver</text>
<text x="1289.5" y="565.7" font-size="14" text-anchor="middle" textLength="17.7" lengthAdjust="spacingAndGlyphs">3A</text>
<circle cx="1325.4" cy="607.7" r="27" fill="#fff" stroke="#000" stroke-width="2.3"/>
<text x="1325.4" y="604.4" font-size="14" text-anchor="middle" textLength="33.5" lengthAdjust="spacingAndGlyphs">Liver</text>
<text x="1325.4" y="620.8" font-size="14" text-anchor="middle" textLength="17.7" lengthAdjust="spacingAndGlyphs">3B</text>
<circle cx="1214.1" cy="689.5" r="16" fill="#fff" stroke="#000" stroke-width="2.3"/>
<text x="1214.1" y="694.1" font-size="14" text-anchor="middle" textLength="9.8" lengthAdjust="spacingAndGlyphs">6</text>
<circle cx="1305.5" cy="663.9" r="25.4" fill="#fff" stroke="#000" stroke-width="2.3"/>
<text x="1305.5" y="660.6" font-size="14" text-anchor="middle" textLength="33.5" lengthAdjust="spacingAndGlyphs">Liver</text>
<text x="1305.5" y="677" font-size="14" text-anchor="middle" textLength="18.5" lengthAdjust="spacingAndGlyphs">3C</text>
<circle cx="1266.7" cy="727.5" r="16" fill="#fff" stroke="#000" stroke-width="2.3"/>
<text x="1266.7" y="732.1" font-size="14" text-anchor="middle" textLength="6.7" lengthAdjust="spacingAndGlyphs">7</text>
<circle cx="1332.1" cy="731.4" r="16" fill="#fff" stroke="#000" stroke-width="2.3"/>
<text x="1332.1" y="736" font-size="14" text-anchor="middle" textLength="8.7" lengthAdjust="spacingAndGlyphs">8</text>
<circle cx="1413.2" cy="698" r="25.4" fill="#fff" stroke="#000" stroke-width="2.3"/>
<text x="1413.2" y="694.7" font-size="14" text-anchor="middle" textLength="33.5" lengthAdjust="spacingAndGlyphs">Liver</text>
<text x="1413.2" y="711.1" font-size="14" text-anchor="middle" textLength="16" lengthAdjust="spacingAndGlyphs">1A</text>
<circle cx="1413.9" cy="755.6" r="25.4" fill="#fff" stroke="#000" stroke-width="2.3"/>
<text x="1413.9" y="752.3" font-size="14" text-anchor="middle" textLength="33.5" lengthAdjust="spacingAndGlyphs">Liver</text>
<text x="1413.9" y="768.7" font-size="14" text-anchor="middle" textLength="16" lengthAdjust="spacingAndGlyphs">1B</text>
<circle cx="1309" cy="784.4" r="16" fill="#fff" stroke="#000" stroke-width="2.3"/>
<text x="1309" y="789" font-size="14" text-anchor="middle" textLength="9.8" lengthAdjust="spacingAndGlyphs">9</text>
<circle cx="1243.6" cy="835.9" r="25.4" fill="#fff" stroke="#000" stroke-width="2.3"/>
<text x="1243.6" y="832.6" font-size="14" text-anchor="middle" textLength="18" lengthAdjust="spacingAndGlyphs">ST</text>
<text x="1243.6" y="849" font-size="14" text-anchor="middle" textLength="9.4" lengthAdjust="spacingAndGlyphs">A</text>
<circle cx="1321.8" cy="862.6" r="25.4" fill="#fff" stroke="#000" stroke-width="2.3"/>
<text x="1321.8" y="859.3" font-size="14" text-anchor="middle" textLength="18" lengthAdjust="spacingAndGlyphs">ST</text>
<text x="1321.8" y="875.7" font-size="14" text-anchor="middle" textLength="9.4" lengthAdjust="spacingAndGlyphs">B</text>
<circle cx="1382.2" cy="816.4" r="25.4" fill="#fff" stroke="#000" stroke-width="2.3"/>
<text x="1382.2" y="813.1" font-size="14" text-anchor="middle" textLength="18" lengthAdjust="spacingAndGlyphs">ST</text>
<text x="1382.2" y="829.5" font-size="14" text-anchor="middle" textLength="10.2" lengthAdjust="spacingAndGlyphs">C</text>
<text x="655" y="700.1" font-size="15.7" text-anchor="middle" textLength="89.5" lengthAdjust="spacingAndGlyphs"><tspan font-style="italic">NRAS</tspan> Q61K</text>
<text x="939" y="536.6" font-size="15.7" text-anchor="middle" textLength="116.8" lengthAdjust="spacingAndGlyphs"><tspan font-style="italic">BRCA2</tspan> S2303F</text>
<text x="939" y="555.5" font-size="15.7" text-anchor="middle" textLength="80.6" lengthAdjust="spacingAndGlyphs"><tspan font-style="italic">BRAF</tspan> AMP</text>
<text x="939" y="574.3" font-size="15.7" text-anchor="middle" textLength="79.5" lengthAdjust="spacingAndGlyphs"><tspan font-style="italic">EZH2</tspan> AMP</text>
<text x="939" y="592.8" font-size="15.7" text-anchor="middle" textLength="81.1" lengthAdjust="spacingAndGlyphs"><tspan font-style="italic">MNX1</tspan> AMP</text>
<text x="939" y="611.6" font-size="15.7" text-anchor="middle" textLength="88.1" lengthAdjust="spacingAndGlyphs"><tspan font-style="italic">ACTA1</tspan> AMP</text>
<text x="939" y="630.5" font-size="15.7" text-anchor="middle" textLength="68.1" lengthAdjust="spacingAndGlyphs"><tspan font-style="italic">B2M</tspan> DEL</text>
<text x="937.2" y="694.1" font-size="15.7" text-anchor="middle" textLength="79.8" lengthAdjust="spacingAndGlyphs"><tspan font-style="italic">TERT</tspan> AMP</text>
<text x="937.2" y="712.9" font-size="15.7" text-anchor="middle" textLength="76.3" lengthAdjust="spacingAndGlyphs"><tspan font-style="italic">HIRA</tspan> AMP</text>
<text x="937.2" y="731.8" font-size="15.7" text-anchor="middle" textLength="86.4" lengthAdjust="spacingAndGlyphs"><tspan font-style="italic">BRCA1</tspan> DEL</text>
<text x="937.2" y="750.6" font-size="15.7" text-anchor="middle" textLength="92.6" lengthAdjust="spacingAndGlyphs"><tspan font-style="italic">XRCC2</tspan> AMP</text>
<text x="937.2" y="769.4" font-size="15.7" text-anchor="middle" textLength="95.8" lengthAdjust="spacingAndGlyphs"><tspan font-style="italic">TRIM24</tspan> AMP</text>
<text x="937.2" y="788.3" font-size="15.7" text-anchor="middle" textLength="103.7" lengthAdjust="spacingAndGlyphs"><tspan font-style="italic">MSH6</tspan> M662L</text>
<text x="937.2" y="807.1" font-size="15.7" text-anchor="middle" textLength="93.8" lengthAdjust="spacingAndGlyphs"><tspan font-style="italic">PMS2</tspan> S815L</text>
<text x="937.2" y="826" font-size="15.7" text-anchor="middle" textLength="101.8" lengthAdjust="spacingAndGlyphs"><tspan font-style="italic">POLD1</tspan> T600I</text>
<text x="1079.7" y="692.7" font-size="15.7" text-anchor="middle" textLength="87.4" lengthAdjust="spacingAndGlyphs"><tspan font-style="italic">B2M</tspan> SL14fs</text>
<text x="1357.7" y="611.3" font-size="15.7" textLength="82.2" lengthAdjust="spacingAndGlyphs"><tspan font-style="italic">B2M</tspan> E94fs</text>
<text x="553.7" y="881.6" font-size="15.7" textLength="84.8" lengthAdjust="spacingAndGlyphs">RAM19005</text>
<line x1="662.5" y1="968.4" x2="662.5" y2="995" stroke="#44546A" stroke-width="1.9"/>
<line x1="669.1" y1="968.4" x2="669.1" y2="995" stroke="#44546A" stroke-width="1.9"/>
<line x1="595.88" y1="981.7" x2="662.5" y2="981.7" stroke="#44546A" stroke-width="1.9"/>
<line x1="669.1" y1="981.7" x2="684.86" y2="981.7" stroke="#44546A" stroke-width="1.9"/>
<polygon points="694.76,981.7 681.56,986.8 685.25,981.7 681.56,976.6" fill="#44546A"/>
<line x1="723.95" y1="968.21" x2="751.84" y2="936.3" stroke="#44546A" stroke-width="1.9"/>
<polygon points="758.35,928.84 753.51,942.14 752.1,936 745.83,935.42" fill="#44546A"/>
<line x1="729.85" y1="981.58" x2="779.76" y2="982.69" stroke="#44546A" stroke-width="1.9"/>
<polygon points="789.65,982.91 776.34,987.71 780.15,982.69 776.57,977.51" fill="#44546A"/>
<line x1="779.45" y1="900.9" x2="795.87" y2="875.42" stroke="#44546A" stroke-width="1.9"/>
<polygon points="801.24,867.1 798.37,880.96 796.09,875.09 789.8,875.43" fill="#44546A"/>
<line x1="786.78" y1="910.99" x2="830.89" y2="899.31" stroke="#44546A" stroke-width="1.9"/>
<polygon points="840.46,896.77 829,905.08 831.27,899.21 826.39,895.22" fill="#44546A"/>
<line x1="824.75" y1="983.63" x2="894.56" y2="984.97" stroke="#44546A" stroke-width="1.9"/>
<polygon points="904.45,985.16 891.16,990 894.95,984.98 891.35,979.81" fill="#44546A"/>
<line x1="818.91" y1="996.23" x2="870.72" y2="1054.94" stroke="#44546A" stroke-width="1.9"/>
<polygon points="877.27,1062.37 864.71,1055.84 870.98,1055.24 872.36,1049.1" fill="#44546A"/>
<line x1="924.1" y1="968.34" x2="972.82" y2="906.83" stroke="#44546A" stroke-width="1.9"/>
<polygon points="978.96,899.07 974.77,912.59 973.06,906.52 966.77,906.25" fill="#44546A"/>
<line x1="936.08" y1="975.12" x2="974.72" y2="958.86" stroke="#44546A" stroke-width="1.9"/>
<polygon points="983.85,955.02 973.66,964.84 975.09,958.71 969.7,955.44" fill="#44546A"/>
<line x1="939.55" y1="985.34" x2="979.65" y2="984.96" stroke="#44546A" stroke-width="1.9"/>
<polygon points="989.55,984.87 976.4,990.09 980.05,984.96 976.3,979.89" fill="#44546A"/>
<line x1="936.08" y1="995.88" x2="1014.05" y2="1031.4" stroke="#44546A" stroke-width="1.9"/>
<polygon points="1023.06,1035.5 1008.93,1034.67 1014.41,1031.56 1013.16,1025.39" fill="#44546A"/>
<line x1="925.3" y1="1002.49" x2="945.08" y2="1028.45" stroke="#44546A" stroke-width="1.9"/>
<polygon points="951.08,1036.33 939.03,1028.92 945.32,1028.77 947.14,1022.74" fill="#44546A"/>
<line x1="1013.71" y1="937.26" x2="1052.31" y2="906.06" stroke="#44546A" stroke-width="1.9"/>
<polygon points="1060.01,899.83 1052.95,912.1 1052.62,905.81 1046.54,904.16" fill="#44546A"/>
<line x1="1017.41" y1="945.91" x2="1063.55" y2="940.01" stroke="#44546A" stroke-width="1.9"/>
<polygon points="1073.37,938.76 1060.92,945.49 1063.94,939.96 1059.63,935.37" fill="#44546A"/>
<line x1="1024.65" y1="984.35" x2="1109.76" y2="982.65" stroke="#44546A" stroke-width="1.9"/>
<polygon points="1119.66,982.45 1106.56,987.81 1110.15,982.64 1106.36,977.61" fill="#44546A"/>
<line x1="1023.39" y1="991.16" x2="1096.16" y2="1020.58" stroke="#44546A" stroke-width="1.9"/>
<polygon points="1105.34,1024.29 1091.19,1024.07 1096.52,1020.73 1095.01,1014.61" fill="#44546A"/>
<line x1="1054.42" y1="1051.21" x2="1077.73" y2="1064.03" stroke="#44546A" stroke-width="1.9"/>
<polygon points="1086.4,1068.8 1072.38,1066.91 1078.08,1064.22 1077.29,1057.97" fill="#44546A"/>
<line x1="1042.3" y1="1059.89" x2="1052.86" y2="1086.42" stroke="#44546A" stroke-width="1.9"/>
<polygon points="1056.53,1095.62 1046.9,1085.24 1053.01,1086.79 1056.38,1081.47" fill="#44546A"/>
<circle cx="569.3" cy="979.8" r="25.5" fill="#0070C4" stroke="#000" stroke-width="2.3"/>
<text x="569.3" y="984.4" font-size="14" text-anchor="middle" textLength="32" lengthAdjust="spacingAndGlyphs">NRM</text>
<circle cx="712.6" cy="981.2" r="16.1" fill="#fff" stroke="#000" stroke-width="2.3"/>
<text x="712.6" y="985.8" font-size="14" text-anchor="middle" textLength="6.7" lengthAdjust="spacingAndGlyphs">1</text>
<circle cx="770.1" cy="915.4" r="16.1" fill="#fff" stroke="#000" stroke-width="2.3"/>
<text x="770.1" y="920" font-size="14" text-anchor="middle" textLength="8.3" lengthAdjust="spacingAndGlyphs">2</text>
<circle cx="816" cy="844.2" r="25.5" fill="#fff" stroke="#000" stroke-width="2.3"/>
<text x="816" y="848.8" font-size="14" text-anchor="middle" textLength="45.5" lengthAdjust="spacingAndGlyphs">Cardio</text>
<circle cx="866.8" cy="889.8" r="25.5" fill="#fff" stroke="#000" stroke-width="2.3"/>
<text x="866.8" y="886.5" font-size="14" text-anchor="middle" textLength="18" lengthAdjust="spacingAndGlyphs">ST</text>
<text x="866.8" y="902.9" font-size="14" text-anchor="middle" textLength="8.3" lengthAdjust="spacingAndGlyphs">2</text>
<circle cx="807.5" cy="983.3" r="16.1" fill="#fff" stroke="#000" stroke-width="2.3"/>
<text x="807.5" y="987.9" font-size="14" text-anchor="middle" textLength="8.3" lengthAdjust="spacingAndGlyphs">3</text>
<circle cx="922.3" cy="985.5" r="16.1" fill="#fff" stroke="#000" stroke-width="2.3"/>
<text x="922.3" y="990.1" font-size="14" text-anchor="middle" textLength="8.3" lengthAdjust="spacingAndGlyphs">4</text>
<circle cx="997" cy="876.3" r="27.3" fill="#fff" stroke="#000" stroke-width="2.3"/>
<text x="997" y="880.9" font-size="14" text-anchor="middle" textLength="51.9" lengthAdjust="spacingAndGlyphs">Thyroid</text>
<circle cx="895.3" cy="1082.8" r="25.5" fill="#fff" stroke="#000" stroke-width="2.3"/>
<text x="895.3" y="1079.5" font-size="14" text-anchor="middle" textLength="18" lengthAdjust="spacingAndGlyphs">LN</text>
<text x="895.3" y="1095.9" font-size="14" text-anchor="middle" textLength="8.3" lengthAdjust="spacingAndGlyphs">2</text>
<circle cx="967.6" cy="1058" r="25.5" fill="#fff" stroke="#000" stroke-width="2.3"/>
<text x="967.6" y="1054.7" font-size="14" text-anchor="middle" textLength="18" lengthAdjust="spacingAndGlyphs">ST</text>
<text x="967.6" y="1071.1" font-size="14" text-anchor="middle" textLength="6.7" lengthAdjust="spacingAndGlyphs">1</text>
<circle cx="1000.3" cy="948.1" r="16.1" fill="#fff" stroke="#000" stroke-width="2.3"/>
<text x="1000.3" y="952.7" font-size="14" text-anchor="middle" textLength="8.3" lengthAdjust="spacingAndGlyphs">5</text>
<circle cx="1007.4" cy="984.7" r="16.1" fill="#fff" stroke="#000" stroke-width="2.3"/>
<text x="1007.4" y="989.3" font-size="14" text-anchor="middle" textLength="9.8" lengthAdjust="spacingAndGlyphs">6</text>
<circle cx="1039.3" cy="1042.9" r="16.1" fill="#fff" stroke="#000" stroke-width="2.3"/>
<text x="1039.3" y="1047.5" font-size="14" text-anchor="middle" textLength="6.7" lengthAdjust="spacingAndGlyphs">7</text>
<circle cx="1081.2" cy="882.7" r="25.5" fill="#fff" stroke="#000" stroke-width="2.3"/>
<text x="1081.2" y="879.4" font-size="14" text-anchor="middle" textLength="18" lengthAdjust="spacingAndGlyphs">ST</text>
<text x="1081.2" y="895.8" font-size="14" text-anchor="middle" textLength="8.3" lengthAdjust="spacingAndGlyphs">4</text>
<circle cx="1100.4" cy="935.3" r="25.5" fill="#fff" stroke="#000" stroke-width="2.3"/>
<text x="1100.4" y="932" font-size="14" text-anchor="middle" textLength="18" lengthAdjust="spacingAndGlyphs">LN</text>
<text x="1100.4" y="948.4" font-size="14" text-anchor="middle" textLength="6.7" lengthAdjust="spacingAndGlyphs">1</text>
<circle cx="1146.9" cy="981.9" r="25.5" fill="#fff" stroke="#000" stroke-width="2.3"/>
<text x="1146.9" y="978.6" font-size="14" text-anchor="middle" textLength="18" lengthAdjust="spacingAndGlyphs">ST</text>
<text x="1146.9" y="995" font-size="14" text-anchor="middle" textLength="8.3" lengthAdjust="spacingAndGlyphs">3</text>
<circle cx="1130.6" cy="1034.5" r="25.5" fill="#fff" stroke="#000" stroke-width="2.3"/>
<text x="1130.6" y="1039.1" font-size="14" text-anchor="middle" textLength="19.8" lengthAdjust="spacingAndGlyphs">Gb</text>
<circle cx="1108.6" cy="1089.5" r="28.6" fill="#fff" stroke="#000" stroke-width="2.3"/>
<text x="1108.6" y="1091.5" font-size="14" text-anchor="middle" textLength="53.6" lengthAdjust="spacingAndGlyphs">Adrenal</text>
<text x="1108.6" y="1107.9" font-size="14" text-anchor="middle" textLength="6.7" lengthAdjust="spacingAndGlyphs">1</text>
<circle cx="1059.7" cy="1125.8" r="28.6" fill="#fff" stroke="#000" stroke-width="2.3"/>
<text x="1059.7" y="1128" font-size="14" text-anchor="middle" textLength="53.6" lengthAdjust="spacingAndGlyphs">Adrenal</text>
<text x="1059.7" y="1144.4" font-size="14" text-anchor="middle" textLength="8.3" lengthAdjust="spacingAndGlyphs">2</text>
<text x="861.9" y="962" font-size="15.7" text-anchor="middle" textLength="112.8" lengthAdjust="spacingAndGlyphs"><tspan font-style="italic">PIK3CA</tspan> V344M</text>
<text x="664.6" y="1018.9" font-size="15.7" text-anchor="middle" textLength="140" lengthAdjust="spacingAndGlyphs"><tspan font-style="italic">BRAF</tspan> K601E; AMP</text>
<text x="664.6" y="1037.7" font-size="15.7" text-anchor="middle" textLength="81.1" lengthAdjust="spacingAndGlyphs"><tspan font-style="italic">MNX1</tspan> AMP</text>
<text x="664.6" y="1056.2" font-size="15.7" text-anchor="middle" textLength="79.5" lengthAdjust="spacingAndGlyphs"><tspan font-style="italic">EZH2</tspan> AMP</text>
<text x="664.6" y="1075" font-size="15.7" text-anchor="middle" textLength="92.6" lengthAdjust="spacingAndGlyphs"><tspan font-style="italic">XRCC2</tspan> AMP</text>
<text x="664.6" y="1093.9" font-size="15.7" text-anchor="middle" textLength="95.8" lengthAdjust="spacingAndGlyphs"><tspan font-style="italic">TRIM24</tspan> AMP</text>
<text x="664.6" y="1112.7" font-size="15.7" text-anchor="middle" textLength="88.1" lengthAdjust="spacingAndGlyphs"><tspan font-style="italic">ACTA1</tspan> AMP</text>
<text x="1434.8" y="101.3" font-size="15.7" textLength="84.8" lengthAdjust="spacingAndGlyphs">RAM14006</text>
<line x1="1522.9" y1="201.92" x2="1522.9" y2="228.52" stroke="#44546A" stroke-width="1.9"/>
<line x1="1529.5" y1="201.92" x2="1529.5" y2="228.52" stroke="#44546A" stroke-width="1.9"/>
<line x1="1483.55" y1="214.89" x2="1522.9" y2="215.19" stroke="#44546A" stroke-width="1.9"/>
<line x1="1529.5" y1="215.24" x2="1575.75" y2="215.6" stroke="#44546A" stroke-width="1.9"/>
<polygon points="1585.65,215.68 1572.41,220.67 1576.15,215.6 1572.49,210.47" fill="#44546A"/>
<line x1="1607.51" y1="201.19" x2="1618.33" y2="173" stroke="#44546A" stroke-width="1.9"/>
<polygon points="1621.88,163.76 1621.91,177.91 1618.47,172.63 1612.39,174.25" fill="#44546A"/>
<line x1="1646.1" y1="202.12" x2="1646.1" y2="228.72" stroke="#44546A" stroke-width="1.9"/>
<line x1="1652.7" y1="202.12" x2="1652.7" y2="228.72" stroke="#44546A" stroke-width="1.9"/>
<line x1="1617.55" y1="215.68" x2="1646.1" y2="215.45" stroke="#44546A" stroke-width="1.9"/>
<line x1="1652.7" y1="215.39" x2="1675.95" y2="215.21" stroke="#44546A" stroke-width="1.9"/>
<polygon points="1685.85,215.13 1672.69,220.33 1676.35,215.21 1672.61,210.14" fill="#44546A"/>
<line x1="1697.2" y1="199.2" x2="1697.2" y2="165.5" stroke="#44546A" stroke-width="1.9"/>
<polygon points="1697.2,155.6 1702.3,168.8 1697.2,165.1 1692.1,168.8" fill="#44546A"/>
<line x1="1704.82" y1="199.59" x2="1733.44" y2="159.56" stroke="#44546A" stroke-width="1.9"/>
<polygon points="1739.2,151.5 1735.67,165.21 1733.67,159.23 1727.37,159.27" fill="#44546A"/>
<line x1="1713.91" y1="204.73" x2="1776.9" y2="170.7" stroke="#44546A" stroke-width="1.9"/>
<polygon points="1785.61,166 1776.42,176.76 1777.25,170.51 1771.57,167.78" fill="#44546A"/>
<line x1="1717.74" y1="214.32" x2="1766.27" y2="212.23" stroke="#44546A" stroke-width="1.9"/>
<polygon points="1776.17,211.8 1763.2,217.47 1766.67,212.21 1762.76,207.28" fill="#44546A"/>
<line x1="1715.4" y1="223.25" x2="1763.08" y2="252.82" stroke="#44546A" stroke-width="1.9"/>
<polygon points="1771.49,258.04 1757.58,255.41 1763.41,253.03 1762.96,246.74" fill="#44546A"/>
<line x1="1698.2" y1="231.2" x2="1698.2" y2="266.5" stroke="#44546A" stroke-width="1.9"/>
<polygon points="1698.2,276.4 1693.1,263.2 1698.2,266.9 1703.3,263.2" fill="#44546A"/>
<line x1="1708.21" y1="229.41" x2="1731.66" y2="267.74" stroke="#44546A" stroke-width="1.9"/>
<polygon points="1736.82,276.19 1725.59,267.59 1731.86,268.08 1734.29,262.27" fill="#44546A"/>
<line x1="1803.07" y1="199.65" x2="1878.67" y2="166.87" stroke="#44546A" stroke-width="1.9"/>
<polygon points="1887.75,162.93 1877.67,172.86 1879.03,166.71 1873.61,163.5" fill="#44546A"/>
<line x1="1808.05" y1="210.86" x2="1846.65" y2="210.28" stroke="#44546A" stroke-width="1.9"/>
<polygon points="1856.55,210.14 1843.43,215.43 1847.05,210.28 1843.28,205.23" fill="#44546A"/>
<line x1="1800.95" y1="266.48" x2="1840.95" y2="266.17" stroke="#44546A" stroke-width="1.9"/>
<polygon points="1850.85,266.1 1837.69,271.3 1841.35,266.17 1837.61,261.1" fill="#44546A"/>
<line x1="1799.52" y1="273.14" x2="1896.08" y2="317.53" stroke="#44546A" stroke-width="1.9"/>
<polygon points="1905.08,321.67 1890.95,320.79 1896.44,317.7 1895.21,311.52" fill="#44546A"/>
<line x1="1793.59" y1="279.87" x2="1830.03" y2="338.92" stroke="#44546A" stroke-width="1.9"/>
<polygon points="1835.23,347.34 1823.96,338.79 1830.24,339.25 1832.64,333.43" fill="#44546A"/>
<circle cx="1458.7" cy="214.7" r="23.7" fill="#0070C4" stroke="#000" stroke-width="2.3"/>
<text x="1458.7" y="219.3" font-size="14" text-anchor="middle" textLength="32" lengthAdjust="spacingAndGlyphs">NRM</text>
<circle cx="1601.9" cy="215.8" r="14.5" fill="#fff" stroke="#000" stroke-width="2.3"/>
<text x="1601.9" y="220.4" font-size="14" text-anchor="middle" textLength="6.7" lengthAdjust="spacingAndGlyphs">1</text>
<circle cx="1631" cy="140" r="23.7" fill="#fff" stroke="#000" stroke-width="2.3"/>
<text x="1631" y="144.6" font-size="14" text-anchor="middle" textLength="35.9" lengthAdjust="spacingAndGlyphs">Brain</text>
<circle cx="1702.1" cy="215" r="14.5" fill="#fff" stroke="#000" stroke-width="2.3"/>
<text x="1702.1" y="219.6" font-size="14" text-anchor="middle" textLength="8.3" lengthAdjust="spacingAndGlyphs">2</text>
<circle cx="1695.7" cy="129" r="23.7" fill="#fff" stroke="#000" stroke-width="2.3"/>
<text x="1695.7" y="133.6" font-size="14" text-anchor="middle" textLength="48.3" lengthAdjust="spacingAndGlyphs">Spleen</text>
<circle cx="1754" cy="130.8" r="23.7" fill="#fff" stroke="#000" stroke-width="2.3"/>
<text x="1754" y="127.5" font-size="14" text-anchor="middle" textLength="34.4" lengthAdjust="spacingAndGlyphs">Lung</text>
<text x="1754" y="143.9" font-size="14" text-anchor="middle" textLength="8.3" lengthAdjust="spacingAndGlyphs">2</text>
<circle cx="1808" cy="153.9" r="23.7" fill="#fff" stroke="#000" stroke-width="2.3"/>
<text x="1808" y="158.5" font-size="14" text-anchor="middle" textLength="45.5" lengthAdjust="spacingAndGlyphs">Cardio</text>
<circle cx="1911.1" cy="152.8" r="23.7" fill="#fff" stroke="#000" stroke-width="2.3"/>
<text x="1911.1" y="149.5" font-size="14" text-anchor="middle" textLength="33.5" lengthAdjust="spacingAndGlyphs">Liver</text>
<text x="1911.1" y="165.9" font-size="14" text-anchor="middle" textLength="8.3" lengthAdjust="spacingAndGlyphs">2</text>
<circle cx="1792.4" cy="211.1" r="14.5" fill="#fff" stroke="#000" stroke-width="2.3"/>
<text x="1792.4" y="215.7" font-size="14" text-anchor="middle" textLength="8.3" lengthAdjust="spacingAndGlyphs">3</text>
<circle cx="1885.5" cy="209.7" r="27.2" fill="#fff" stroke="#000" stroke-width="2.3"/>
<text x="1885.5" y="214.3" font-size="14" text-anchor="middle" textLength="53.6" lengthAdjust="spacingAndGlyphs">Adrenal</text>
<circle cx="1785.3" cy="266.6" r="14.5" fill="#fff" stroke="#000" stroke-width="2.3"/>
<text x="1785.3" y="271.2" font-size="14" text-anchor="middle" textLength="8.3" lengthAdjust="spacingAndGlyphs">4</text>
<circle cx="1876.3" cy="265.9" r="23.7" fill="#fff" stroke="#000" stroke-width="2.3"/>
<text x="1876.3" y="262.6" font-size="14" text-anchor="middle" textLength="34.4" lengthAdjust="spacingAndGlyphs">Lung</text>
<text x="1876.3" y="279" font-size="14" text-anchor="middle" textLength="6.7" lengthAdjust="spacingAndGlyphs">1</text>
<circle cx="1695.7" cy="302.8" r="23.7" fill="#fff" stroke="#000" stroke-width="2.3"/>
<text x="1695.7" y="299.5" font-size="14" text-anchor="middle" textLength="18" lengthAdjust="spacingAndGlyphs">LN</text>
<text x="1695.7" y="315.9" font-size="14" text-anchor="middle" textLength="8.3" lengthAdjust="spacingAndGlyphs">2</text>
<circle cx="1750.1" cy="297.9" r="23.7" fill="#fff" stroke="#000" stroke-width="2.3"/>
<text x="1750.1" y="294.6" font-size="14" text-anchor="middle" textLength="18" lengthAdjust="spacingAndGlyphs">LN</text>
<text x="1750.1" y="311" font-size="14" text-anchor="middle" textLength="6.7" lengthAdjust="spacingAndGlyphs">1</text>
<circle cx="1928.2" cy="332.3" r="23.7" fill="#fff" stroke="#000" stroke-width="2.3"/>
<text x="1928.2" y="329" font-size="14" text-anchor="middle" textLength="33.5" lengthAdjust="spacingAndGlyphs">Liver</text>
<text x="1928.2" y="345.4" font-size="14" text-anchor="middle" textLength="6.7" lengthAdjust="spacingAndGlyphs">1</text>
<circle cx="1848.6" cy="369" r="23.7" fill="#fff" stroke="#000" stroke-width="2.3"/>
<text x="1848.6" y="373.6" font-size="14" text-anchor="middle" textLength="18" lengthAdjust="spacingAndGlyphs">ST</text>
<text x="1525.8" y="138.6" font-size="15.7" text-anchor="middle" textLength="154.9" lengthAdjust="spacingAndGlyphs"><tspan font-style="italic">BRAF</tspan> V600TQ; AMP</text>
<text x="1525.8" y="157.5" font-size="15.7" text-anchor="middle" textLength="78.6" lengthAdjust="spacingAndGlyphs"><tspan font-style="italic">AKT3</tspan> AMP</text>
<text x="1525.8" y="176.3" font-size="15.7" text-anchor="middle" textLength="79.5" lengthAdjust="spacingAndGlyphs"><tspan font-style="italic">EZH2</tspan> AMP</text>
<text x="1525.8" y="195.1" font-size="15.7" text-anchor="middle" textLength="81.1" lengthAdjust="spacingAndGlyphs"><tspan font-style="italic">MNX1</tspan> AMP</text>
<text x="1526.2" y="249.9" font-size="15.7" text-anchor="middle" textLength="88.1" lengthAdjust="spacingAndGlyphs"><tspan font-style="italic">ACTA1</tspan> AMP</text>
<text x="1526.2" y="268.7" font-size="15.7" text-anchor="middle" textLength="95.8" lengthAdjust="spacingAndGlyphs"><tspan font-style="italic">TRIM24</tspan> AMP</text>
<text x="1526.2" y="287.6" font-size="15.7" text-anchor="middle" textLength="92.6" lengthAdjust="spacingAndGlyphs"><tspan font-style="italic">XRCC2</tspan> AMP</text>
<text x="1526.2" y="306.4" font-size="15.7" text-anchor="middle" textLength="80.6" lengthAdjust="spacingAndGlyphs"><tspan font-style="italic">ACTB</tspan> AMP</text>
<text x="1526.2" y="325.2" font-size="15.7" text-anchor="middle" textLength="73.6" lengthAdjust="spacingAndGlyphs"><tspan font-style="italic">MYC</tspan> AMP</text>
<text x="1652" y="246" font-size="15.7" text-anchor="middle" textLength="68.1" lengthAdjust="spacingAndGlyphs"><tspan font-style="italic">B2M</tspan> DEL</text>
<text x="1690" y="100.6" font-size="15.7" text-anchor="middle" textLength="83.1" lengthAdjust="spacingAndGlyphs"><tspan font-style="italic">B2M</tspan> D96G</text>
<text x="1772.2" y="104.1" font-size="15.7" text-anchor="middle" textLength="62.4" lengthAdjust="spacingAndGlyphs"><tspan font-style="italic">B2M</tspan> M1I</text>
<text x="1904.7" y="269" font-size="15.7" textLength="62.4" lengthAdjust="spacingAndGlyphs"><tspan font-style="italic">B2M</tspan> M1I</text>
<text x="1771.8" y="337.7" font-size="15.7" text-anchor="middle" textLength="79.4" lengthAdjust="spacingAndGlyphs"><tspan font-style="italic">B2M</tspan> T91fs</text>
<text x="1956.3" y="337" font-size="15.7" textLength="62.4" lengthAdjust="spacingAndGlyphs"><tspan font-style="italic">B2M</tspan> M1I</text>
<text x="1488.7" y="442.7" font-size="15.7" textLength="84.8" lengthAdjust="spacingAndGlyphs">RAM19003</text>
<line x1="1576.4" y1="548.1" x2="1576.4" y2="574.7" stroke="#44546A" stroke-width="1.9"/>
<line x1="1583" y1="548.1" x2="1583" y2="574.7" stroke="#44546A" stroke-width="1.9"/>
<line x1="1530.35" y1="561.4" x2="1576.4" y2="561.4" stroke="#44546A" stroke-width="1.9"/>
<line x1="1583" y1="561.4" x2="1602.33" y2="561.4" stroke="#44546A" stroke-width="1.9"/>
<polygon points="1612.23,561.4 1599.03,566.5 1602.73,561.4 1599.03,556.3" fill="#44546A"/>
<line x1="1630.53" y1="542.51" x2="1647.39" y2="510.2" stroke="#44546A" stroke-width="1.9"/>
<polygon points="1651.97,501.43 1650.39,515.49 1647.58,509.85 1641.34,510.77" fill="#44546A"/>
<line x1="1645.55" y1="558.9" x2="1708.05" y2="558.9" stroke="#44546A" stroke-width="1.9"/>
<polygon points="1717.95,558.9 1704.75,564 1708.45,558.9 1704.75,553.8" fill="#44546A"/>
<line x1="1737.57" y1="542.65" x2="1772.65" y2="507.04" stroke="#44546A" stroke-width="1.9"/>
<polygon points="1779.6,499.99 1773.97,512.97 1772.93,506.76 1766.7,505.81" fill="#44546A"/>
<line x1="1751.44" y1="558.3" x2="1765.67" y2="557.78" stroke="#44546A" stroke-width="1.9"/>
<polygon points="1775.56,557.42 1762.56,563 1766.06,557.77 1762.18,552.81" fill="#44546A"/>
<line x1="1737.86" y1="575.1" x2="1849.26" y2="692.67" stroke="#44546A" stroke-width="1.9"/>
<polygon points="1856.07,699.86 1843.29,693.78 1849.53,692.96 1850.69,686.77" fill="#44546A"/>
<line x1="1806.15" y1="547.48" x2="1815.9" y2="540.77" stroke="#44546A" stroke-width="1.9"/>
<polygon points="1824.05,535.16 1816.07,546.85 1816.22,540.55 1810.29,538.44" fill="#44546A"/>
<line x1="1804.91" y1="567.71" x2="1816.53" y2="578.02" stroke="#44546A" stroke-width="1.9"/>
<polygon points="1823.94,584.59 1810.68,579.65 1816.83,578.28 1817.45,572.02" fill="#44546A"/>
<line x1="1842.36" y1="509.61" x2="1881.17" y2="465.45" stroke="#44546A" stroke-width="1.9"/>
<polygon points="1887.71,458.02 1882.82,471.3 1881.43,465.16 1875.16,464.56" fill="#44546A"/>
<line x1="1853.89" y1="520.88" x2="1966.92" y2="487.77" stroke="#44546A" stroke-width="1.9"/>
<polygon points="1976.42,484.99 1965.19,493.59 1967.3,487.66 1962.32,483.81" fill="#44546A"/>
<line x1="1849.73" y1="537.13" x2="1915.01" y2="557.58" stroke="#44546A" stroke-width="1.9"/>
<polygon points="1924.45,560.53 1910.33,561.46 1915.38,557.69 1913.38,551.72" fill="#44546A"/>
<line x1="1852.8" y1="599.26" x2="1901.12" y2="609.34" stroke="#44546A" stroke-width="1.9"/>
<polygon points="1910.81,611.36 1896.85,613.66 1901.51,609.42 1898.93,603.67" fill="#44546A"/>
<line x1="1840.96" y1="611.79" x2="1893.23" y2="654.25" stroke="#44546A" stroke-width="1.9"/>
<polygon points="1900.92,660.5 1887.45,656.13 1893.54,654.5 1893.89,648.22" fill="#44546A"/>
<circle cx="1504.3" cy="561" r="24.9" fill="#0070C4" stroke="#000" stroke-width="2.3"/>
<text x="1504.3" y="565.6" font-size="14" text-anchor="middle" textLength="32" lengthAdjust="spacingAndGlyphs">NRM</text>
<circle cx="1629.1" cy="558.9" r="15.3" fill="#fff" stroke="#000" stroke-width="2.3"/>
<text x="1629.1" y="563.5" font-size="14" text-anchor="middle" textLength="6.7" lengthAdjust="spacingAndGlyphs">1</text>
<circle cx="1664.3" cy="477.8" r="24.9" fill="#fff" stroke="#000" stroke-width="2.3"/>
<text x="1664.3" y="474.5" font-size="14" text-anchor="middle" textLength="22.6" lengthAdjust="spacingAndGlyphs">OM</text>
<text x="1664.3" y="490.9" font-size="14" text-anchor="middle" textLength="8.3" lengthAdjust="spacingAndGlyphs">2</text>
<circle cx="1735" cy="558.9" r="15.3" fill="#fff" stroke="#000" stroke-width="2.3"/>
<text x="1735" y="563.5" font-size="14" text-anchor="middle" textLength="8.3" lengthAdjust="spacingAndGlyphs">2</text>
<circle cx="1798.3" cy="481" r="24.9" fill="#fff" stroke="#000" stroke-width="2.3"/>
<text x="1798.3" y="477.7" font-size="14" text-anchor="middle" textLength="33.5" lengthAdjust="spacingAndGlyphs">Liver</text>
<text x="1798.3" y="494.1" font-size="14" text-anchor="middle" textLength="6.7" lengthAdjust="spacingAndGlyphs">1</text>
<circle cx="1792.6" cy="556.8" r="15.3" fill="#fff" stroke="#000" stroke-width="2.3"/>
<text x="1792.6" y="561.4" font-size="14" text-anchor="middle" textLength="8.3" lengthAdjust="spacingAndGlyphs">3</text>
<circle cx="1838.1" cy="525.5" r="15.3" fill="#fff" stroke="#000" stroke-width="2.3"/>
<text x="1838.1" y="530.1" font-size="14" text-anchor="middle" textLength="8.3" lengthAdjust="spacingAndGlyphs">4</text>
<circle cx="1905.3" cy="438" r="24.9" fill="#fff" stroke="#000" stroke-width="2.3"/>
<text x="1905.3" y="434.7" font-size="14" text-anchor="middle" textLength="22.6" lengthAdjust="spacingAndGlyphs">OM</text>
<text x="1905.3" y="451.1" font-size="14" text-anchor="middle" textLength="6.7" lengthAdjust="spacingAndGlyphs">1</text>
<circle cx="2002" cy="477.5" r="24.9" fill="#fff" stroke="#000" stroke-width="2.3"/>
<text x="2002" y="474.2" font-size="14" text-anchor="middle" textLength="22.6" lengthAdjust="spacingAndGlyphs">OM</text>
<text x="2002" y="490.6" font-size="14" text-anchor="middle" textLength="8.3" lengthAdjust="spacingAndGlyphs">3</text>
<circle cx="1951.1" cy="561" r="24.9" fill="#fff" stroke="#000" stroke-width="2.3"/>
<text x="1951.1" y="565.6" font-size="14" text-anchor="middle" textLength="18" lengthAdjust="spacingAndGlyphs">ST</text>
<circle cx="1836.7" cy="595.9" r="15.3" fill="#fff" stroke="#000" stroke-width="2.3"/>
<text x="1836.7" y="600.5" font-size="14" text-anchor="middle" textLength="8.3" lengthAdjust="spacingAndGlyphs">5</text>
<circle cx="1936.9" cy="616.8" r="24.9" fill="#fff" stroke="#000" stroke-width="2.3"/>
<text x="1936.9" y="613.5" font-size="14" text-anchor="middle" textLength="22.6" lengthAdjust="spacingAndGlyphs">OM</text>
<text x="1936.9" y="629.9" font-size="14" text-anchor="middle" textLength="8.3" lengthAdjust="spacingAndGlyphs">4</text>
<circle cx="1921.6" cy="677.3" r="24.9" fill="#fff" stroke="#000" stroke-width="2.3"/>
<text x="1921.6" y="674" font-size="14" text-anchor="middle" textLength="33.5" lengthAdjust="spacingAndGlyphs">Liver</text>
<text x="1921.6" y="690.4" font-size="14" text-anchor="middle" textLength="8.3" lengthAdjust="spacingAndGlyphs">2</text>
<circle cx="1874.4" cy="719.2" r="24.9" fill="#fff" stroke="#000" stroke-width="2.3"/>
<text x="1874.4" y="723.8" font-size="14" text-anchor="middle" textLength="35.9" lengthAdjust="spacingAndGlyphs">Brain</text>
<text x="1577.2" y="480.7" font-size="15.7" text-anchor="middle" textLength="100.5" lengthAdjust="spacingAndGlyphs"><tspan font-style="italic">BRAF</tspan> V600E</text>
<text x="1577.2" y="499.5" font-size="15.7" text-anchor="middle" textLength="92.6" lengthAdjust="spacingAndGlyphs"><tspan font-style="italic">XRCC2</tspan> AMP</text>
<text x="1577.2" y="518.4" font-size="15.7" text-anchor="middle" textLength="95.8" lengthAdjust="spacingAndGlyphs"><tspan font-style="italic">TRIM24</tspan> AMP</text>
<text x="1577.2" y="537.2" font-size="15.7" text-anchor="middle" textLength="73.6" lengthAdjust="spacingAndGlyphs"><tspan font-style="italic">MYC</tspan> AMP</text>
<text x="1681.7" y="545" font-size="15.7" text-anchor="middle" textLength="80.6" lengthAdjust="spacingAndGlyphs"><tspan font-style="italic">BRAF</tspan> AMP</text>
<text x="1685.3" y="589.5" font-size="15.7" text-anchor="middle" textLength="79.5" lengthAdjust="spacingAndGlyphs"><tspan font-style="italic">EZH2</tspan> AMP</text>
<text x="1685.3" y="608.3" font-size="15.7" text-anchor="middle" textLength="81.1" lengthAdjust="spacingAndGlyphs"><tspan font-style="italic">MNX1</tspan> AMP</text>
<text x="1579.3" y="594.4" font-size="15.7" text-anchor="middle" textLength="88.1" lengthAdjust="spacingAndGlyphs"><tspan font-style="italic">ACTA1</tspan> AMP</text>
<text x="1579.3" y="613.3" font-size="15.7" text-anchor="middle" textLength="99.6" lengthAdjust="spacingAndGlyphs"><tspan font-style="italic">CDKN2A</tspan> DEL</text>
<text x="1579.3" y="632.1" font-size="15.7" text-anchor="middle" textLength="68.1" lengthAdjust="spacingAndGlyphs"><tspan font-style="italic">B2M</tspan> DEL</text>
<text x="1455.8" y="801" font-size="15.7" textLength="86.5" lengthAdjust="spacingAndGlyphs">RAM19006</text>
<line x1="1563.8" y1="888.5" x2="1563.8" y2="915.1" stroke="#44546A" stroke-width="1.9"/>
<line x1="1570.4" y1="888.5" x2="1570.4" y2="915.1" stroke="#44546A" stroke-width="1.9"/>
<line x1="1498.76" y1="901.8" x2="1563.8" y2="901.8" stroke="#44546A" stroke-width="1.9"/>
<line x1="1570.4" y1="901.8" x2="1586.05" y2="901.8" stroke="#44546A" stroke-width="1.9"/>
<polygon points="1595.95,901.8 1582.75,906.9 1586.45,901.8 1582.75,896.7" fill="#44546A"/>
<line x1="1625.95" y1="890.82" x2="1681.67" y2="842.49" stroke="#44546A" stroke-width="1.9"/>
<polygon points="1689.15,836 1682.52,848.5 1681.97,842.23 1675.83,840.8" fill="#44546A"/>
<line x1="1692.4" y1="888.5" x2="1692.4" y2="915.1" stroke="#44546A" stroke-width="1.9"/>
<line x1="1699" y1="888.5" x2="1699" y2="915.1" stroke="#44546A" stroke-width="1.9"/>
<line x1="1630.05" y1="901.8" x2="1692.4" y2="901.8" stroke="#44546A" stroke-width="1.9"/>
<line x1="1699" y1="901.8" x2="1770.55" y2="901.8" stroke="#44546A" stroke-width="1.9"/>
<polygon points="1780.45,901.8 1767.25,906.9 1770.95,901.8 1767.25,896.7" fill="#44546A"/>
<line x1="1797.8" y1="918.55" x2="1769.47" y2="963.39" stroke="#44546A" stroke-width="1.9"/>
<polygon points="1764.18,971.76 1766.92,957.87 1769.26,963.72 1775.54,963.32" fill="#44546A"/>
<line x1="1814.54" y1="901.2" x2="1840.61" y2="901.2" stroke="#44546A" stroke-width="1.9"/>
<polygon points="1850.51,901.2 1837.31,906.3 1841.01,901.2 1837.31,896.1" fill="#44546A"/>
<line x1="1880.68" y1="889" x2="1899.44" y2="873.41" stroke="#44546A" stroke-width="1.9"/>
<polygon points="1907.05,867.09 1900.16,879.45 1899.74,873.16 1893.64,871.6" fill="#44546A"/>
<line x1="1877.95" y1="913.02" x2="1896.61" y2="937.51" stroke="#44546A" stroke-width="1.9"/>
<polygon points="1902.61,945.38 1890.55,937.97 1896.85,937.82 1898.66,931.79" fill="#44546A"/>
<line x1="1921.86" y1="839.31" x2="1936.98" y2="814.59" stroke="#44546A" stroke-width="1.9"/>
<polygon points="1942.15,806.15 1939.61,820.07 1937.19,814.26 1930.91,814.75" fill="#44546A"/>
<line x1="1933.6" y1="845.69" x2="1991.17" y2="822.58" stroke="#44546A" stroke-width="1.9"/>
<polygon points="2000.36,818.89 1990.01,828.54 1991.54,822.43 1986.21,819.07" fill="#44546A"/>
<line x1="1937.14" y1="856.41" x2="2026.86" y2="858.61" stroke="#44546A" stroke-width="1.9"/>
<polygon points="2036.76,858.85 2023.44,863.63 2027.26,858.62 2023.69,853.43" fill="#44546A"/>
<line x1="1933.23" y1="866.77" x2="2010.25" y2="906.19" stroke="#44546A" stroke-width="1.9"/>
<polygon points="2019.07,910.7 2004.99,909.23 2010.61,906.37 2009.64,900.15" fill="#44546A"/>
<line x1="1925.58" y1="871.93" x2="1958.07" y2="917.93" stroke="#44546A" stroke-width="1.9"/>
<polygon points="1963.78,926.01 1952,918.18 1958.3,918.25 1960.33,912.29" fill="#44546A"/>
<line x1="1875.5" y1="862.6" x2="1880.9" y2="868.73" stroke="#44546A" stroke-width="1.7"/>
<polygon points="1886.6,875.2 1875.47,869.68 1881.13,868.99 1882.52,863.46" fill="#44546A"/>
<line x1="1828.3" y1="926.5" x2="1828.3" y2="917.23" stroke="#44546A" stroke-width="1.7"/>
<polygon points="1828.3,908.6 1833,920.1 1828.3,916.88 1823.6,920.1" fill="#44546A"/>
<circle cx="1472.9" cy="899.7" r="24.8" fill="#0070C4" stroke="#000" stroke-width="2.3"/>
<text x="1472.9" y="904.3" font-size="14" text-anchor="middle" textLength="32" lengthAdjust="spacingAndGlyphs">NRM</text>
<circle cx="1613.3" cy="901.8" r="15.6" fill="#fff" stroke="#000" stroke-width="2.3"/>
<text x="1613.3" y="906.4" font-size="14" text-anchor="middle" textLength="6.7" lengthAdjust="spacingAndGlyphs">1</text>
<circle cx="1709.2" cy="818.6" r="24.8" fill="#fff" stroke="#000" stroke-width="2.3"/>
<text x="1709.2" y="815.3" font-size="14" text-anchor="middle" textLength="34.4" lengthAdjust="spacingAndGlyphs">Lung</text>
<text x="1709.2" y="831.7" font-size="14" text-anchor="middle" textLength="8.3" lengthAdjust="spacingAndGlyphs">2</text>
<circle cx="1797.8" cy="901.8" r="15.6" fill="#fff" stroke="#000" stroke-width="2.3"/>
<text x="1797.8" y="906.4" font-size="14" text-anchor="middle" textLength="8.3" lengthAdjust="spacingAndGlyphs">2</text>
<circle cx="1750" cy="994.2" r="24.8" fill="#fff" stroke="#000" stroke-width="2.3"/>
<text x="1750" y="998.8" font-size="14" text-anchor="middle" textLength="35.9" lengthAdjust="spacingAndGlyphs">Brain</text>
<circle cx="1867.8" cy="899.7" r="15.6" fill="#fff" stroke="#000" stroke-width="2.3"/>
<text x="1867.8" y="904.3" font-size="14" text-anchor="middle" textLength="8.3" lengthAdjust="spacingAndGlyphs">3</text>
<circle cx="1920.4" cy="856" r="15.6" fill="#fff" stroke="#000" stroke-width="2.3"/>
<text x="1920.4" y="860.6" font-size="14" text-anchor="middle" textLength="8.3" lengthAdjust="spacingAndGlyphs">4</text>
<circle cx="1956" cy="783.5" r="24.8" fill="#fff" stroke="#000" stroke-width="2.3"/>
<text x="1956" y="780.2" font-size="14" text-anchor="middle" textLength="18" lengthAdjust="spacingAndGlyphs">LN</text>
<text x="1956" y="796.6" font-size="14" text-anchor="middle" textLength="8.3" lengthAdjust="spacingAndGlyphs">2</text>
<circle cx="2025" cy="809" r="24.8" fill="#fff" stroke="#000" stroke-width="2.3"/>
<text x="2025" y="805.7" font-size="14" text-anchor="middle" textLength="18" lengthAdjust="spacingAndGlyphs">LN</text>
<text x="2025" y="822.1" font-size="14" text-anchor="middle" textLength="8.3" lengthAdjust="spacingAndGlyphs">3</text>
<circle cx="2063.3" cy="859.5" r="24.8" fill="#fff" stroke="#000" stroke-width="2.3"/>
<text x="2063.3" y="856.2" font-size="14" text-anchor="middle" textLength="34.4" lengthAdjust="spacingAndGlyphs">Lung</text>
<text x="2063.3" y="872.6" font-size="14" text-anchor="middle" textLength="6.7" lengthAdjust="spacingAndGlyphs">1</text>
<circle cx="2042.7" cy="922.8" r="24.8" fill="#fff" stroke="#000" stroke-width="2.3"/>
<text x="2042.7" y="919.5" font-size="14" text-anchor="middle" textLength="34.4" lengthAdjust="spacingAndGlyphs">Lung</text>
<text x="2042.7" y="935.9" font-size="14" text-anchor="middle" textLength="8.3" lengthAdjust="spacingAndGlyphs">3</text>
<circle cx="1979.1" cy="947.7" r="24.8" fill="#fff" stroke="#000" stroke-width="2.3"/>
<text x="1979.1" y="944.4" font-size="14" text-anchor="middle" textLength="34.4" lengthAdjust="spacingAndGlyphs">Lung</text>
<text x="1979.1" y="960.8" font-size="14" text-anchor="middle" textLength="8.3" lengthAdjust="spacingAndGlyphs">4</text>
<circle cx="1918.7" cy="966.5" r="24.8" fill="#fff" stroke="#000" stroke-width="2.3"/>
<text x="1918.7" y="963.2" font-size="14" text-anchor="middle" textLength="18" lengthAdjust="spacingAndGlyphs">LN</text>
<text x="1918.7" y="979.6" font-size="14" text-anchor="middle" textLength="6.7" lengthAdjust="spacingAndGlyphs">1</text>
<text x="1550" y="939.5" font-size="15.7" text-anchor="middle" textLength="143.5" lengthAdjust="spacingAndGlyphs"><tspan font-style="italic">BRAF</tspan> V600E; AMP</text>
<text x="1550" y="958.3" font-size="15.7" text-anchor="middle" textLength="81.1" lengthAdjust="spacingAndGlyphs"><tspan font-style="italic">MNX1</tspan> AMP</text>
<text x="1550" y="977.2" font-size="15.7" text-anchor="middle" textLength="79.5" lengthAdjust="spacingAndGlyphs"><tspan font-style="italic">EZH2</tspan> AMP</text>
<text x="1550" y="996" font-size="15.7" text-anchor="middle" textLength="86.4" lengthAdjust="spacingAndGlyphs"><tspan font-style="italic">BRCA1</tspan> DEL</text>
<text x="1695.4" y="937.4" font-size="15.7" text-anchor="middle" font-style="italic" textLength="73.4" lengthAdjust="spacingAndGlyphs">JAK2 DEL</text>
<text x="1695.4" y="955.9" font-size="15.7" text-anchor="middle" font-style="italic" textLength="99.6" lengthAdjust="spacingAndGlyphs">CDKN2A DEL</text>
<text x="1840.8" y="859.5" font-size="15.7" text-anchor="middle" font-style="italic" textLength="111.4" lengthAdjust="spacingAndGlyphs">MAP2K5 P417L</text>
<text x="1837.6" y="945.2" font-size="15.7" text-anchor="middle" textLength="92.6" lengthAdjust="spacingAndGlyphs"><tspan font-style="italic">XRCC2</tspan> AMP</text>
</g>
<g id="panel-b">
<text x="-1.2" y="1214.5" font-size="39.5" font-weight="bold" stroke="#000" stroke-width="0.8" textLength="25.8" lengthAdjust="spacingAndGlyphs">b</text>
<text transform="translate(40.3 1556) rotate(-90)" font-size="21" text-anchor="middle" textLength="345" lengthAdjust="spacingAndGlyphs">Proportion of mutational signatures</text>
<rect x="116.6" y="1223.4" width="800.2" height="216.4" fill="#fff" stroke="#333" stroke-width="1.1"/>
<path fill="#666" d="M117 1396.5h9.9v33.4h-9.9zM127.8 1396.5h9.9v33.4h-9.9zM138.6 1396.5h9.9v33.4h-9.9zM149.4 1396.5h9.9v33.4h-9.9zM160.2 1396.5h9.9v33.4h-9.9zM170.9 1396.5h9.9v33.4h-9.9zM181.7 1396.5h9.9v33.4h-9.9zM192.5 1396.5h9.9v33.4h-9.9zM203.2 1412.2h9.9v17.7h-9.9zM214 1412.2h9.9v17.7h-9.9zM224.8 1412.2h9.9v17.7h-9.9zM235.6 1412.2h9.9v17.7h-9.9zM267.9 1416.1h9.9v13.8h-9.9zM278.7 1416.1h9.9v13.8h-9.9zM289.4 1416.1h9.9v13.8h-9.9zM300.2 1416.1h9.9v13.8h-9.9zM623.5 1415.2h9.9v14.7h-9.9zM634.2 1415.2h9.9v14.7h-9.9zM645 1415.2h9.9v14.7h-9.9zM655.8 1415.2h9.9v14.7h-9.9zM666.6 1415.2h9.9v14.7h-9.9zM677.4 1415.2h9.9v14.7h-9.9zM688.1 1415.2h9.9v14.7h-9.9zM698.9 1415.2h9.9v14.7h-9.9zM709.7 1415.2h9.9v14.7h-9.9zM720.4 1415.2h9.9v14.7h-9.9zM731.2 1415.2h9.9v14.7h-9.9z"/>
<path fill="#FB8072" d="M117 1324.7h9.9v71.8h-9.9zM127.8 1324.7h9.9v71.8h-9.9zM138.6 1324.7h9.9v71.8h-9.9zM149.4 1324.7h9.9v71.8h-9.9zM160.2 1324.7h9.9v71.8h-9.9zM170.9 1324.7h9.9v71.8h-9.9zM181.7 1324.7h9.9v71.8h-9.9zM192.5 1324.7h9.9v71.8h-9.9zM203.2 1326.7h9.9v85.5h-9.9zM214 1326.7h9.9v85.5h-9.9zM224.8 1326.7h9.9v85.5h-9.9zM235.6 1326.7h9.9v85.5h-9.9zM246.4 1329.6h9.9v100.3h-9.9zM257.1 1329.6h9.9v100.3h-9.9zM267.9 1325.7h9.9v90.4h-9.9zM278.7 1325.7h9.9v90.4h-9.9zM289.4 1325.7h9.9v90.4h-9.9zM300.2 1325.7h9.9v90.4h-9.9zM311 1345.4h9.9v84.5h-9.9zM321.8 1345.4h9.9v84.5h-9.9zM332.6 1345.4h9.9v84.5h-9.9zM343.3 1345.4h9.9v84.5h-9.9zM354.1 1345.4h9.9v84.5h-9.9zM364.9 1345.4h9.9v84.5h-9.9zM375.7 1345.4h9.9v84.5h-9.9zM386.4 1331.6h9.9v98.3h-9.9zM397.2 1331.6h9.9v98.3h-9.9zM408 1331.6h9.9v98.3h-9.9zM418.8 1331.6h9.9v98.3h-9.9zM429.5 1331.6h9.9v98.3h-9.9zM440.3 1331.6h9.9v98.3h-9.9zM451.1 1331.6h9.9v98.3h-9.9zM461.9 1331.6h9.9v98.3h-9.9zM472.6 1331.6h9.9v98.3h-9.9zM483.4 1331.6h9.9v98.3h-9.9zM494.2 1331.6h9.9v98.3h-9.9zM505 1319.8h9.9v110.1h-9.9zM515.7 1319.8h9.9v110.1h-9.9zM526.5 1319.8h9.9v110.1h-9.9zM537.3 1319.8h9.9v110.1h-9.9zM548 1319.8h9.9v110.1h-9.9zM558.8 1319.8h9.9v110.1h-9.9zM569.6 1319.8h9.9v110.1h-9.9zM580.4 1319.8h9.9v110.1h-9.9zM591.1 1319.8h9.9v110.1h-9.9zM601.9 1319.8h9.9v110.1h-9.9zM612.7 1319.8h9.9v110.1h-9.9zM623.5 1308h9.9v107.1h-9.9zM634.2 1308h9.9v107.1h-9.9zM645 1308h9.9v107.1h-9.9zM655.8 1308h9.9v107.1h-9.9zM666.6 1308h9.9v107.1h-9.9zM677.4 1308h9.9v107.1h-9.9zM688.1 1308h9.9v107.1h-9.9zM698.9 1308h9.9v107.1h-9.9zM709.7 1308h9.9v107.1h-9.9zM720.4 1308h9.9v107.1h-9.9zM731.2 1308h9.9v107.1h-9.9zM742 1316.9h9.9v113h-9.9zM752.8 1316.9h9.9v113h-9.9zM763.5 1316.9h9.9v113h-9.9zM774.3 1316.9h9.9v113h-9.9zM785.1 1316.9h9.9v113h-9.9zM795.9 1316.9h9.9v113h-9.9zM806.6 1316.9h9.9v113h-9.9zM817.4 1316.9h9.9v113h-9.9zM828.2 1352.2h9.9v77.7h-9.9zM839 1352.2h9.9v77.7h-9.9zM849.8 1352.2h9.9v77.7h-9.9zM860.5 1352.2h9.9v77.7h-9.9zM871.3 1352.2h9.9v77.7h-9.9zM882.1 1352.2h9.9v77.7h-9.9zM892.9 1352.2h9.9v77.7h-9.9zM903.6 1352.2h9.9v77.7h-9.9z"/>
<path fill="#BEBADA" d="M117 1233.3h9.9v91.4h-9.9zM127.8 1233.3h9.9v91.4h-9.9zM138.6 1233.3h9.9v91.4h-9.9zM149.4 1233.3h9.9v91.4h-9.9zM160.2 1233.3h9.9v91.4h-9.9zM170.9 1233.3h9.9v91.4h-9.9zM181.7 1233.3h9.9v91.4h-9.9zM192.5 1233.3h9.9v91.4h-9.9zM203.2 1233.3h9.9v93.4h-9.9zM214 1233.3h9.9v93.4h-9.9zM224.8 1233.3h9.9v93.4h-9.9zM235.6 1233.3h9.9v93.4h-9.9zM246.4 1233.3h9.9v96.3h-9.9zM257.1 1233.3h9.9v96.3h-9.9zM267.9 1233.3h9.9v92.4h-9.9zM278.7 1233.3h9.9v92.4h-9.9zM289.4 1233.3h9.9v92.4h-9.9zM300.2 1233.3h9.9v92.4h-9.9zM311 1233.3h9.9v112.1h-9.9zM321.8 1233.3h9.9v112.1h-9.9zM332.6 1233.3h9.9v112.1h-9.9zM343.3 1233.3h9.9v112.1h-9.9zM354.1 1233.3h9.9v112.1h-9.9zM364.9 1233.3h9.9v112.1h-9.9zM375.7 1233.3h9.9v112.1h-9.9zM386.4 1233.3h9.9v98.3h-9.9zM397.2 1233.3h9.9v98.3h-9.9zM408 1233.3h9.9v98.3h-9.9zM418.8 1233.3h9.9v98.3h-9.9zM429.5 1233.3h9.9v98.3h-9.9zM440.3 1233.3h9.9v98.3h-9.9zM451.1 1233.3h9.9v98.3h-9.9zM461.9 1233.3h9.9v98.3h-9.9zM472.6 1233.3h9.9v98.3h-9.9zM483.4 1233.3h9.9v98.3h-9.9zM494.2 1233.3h9.9v98.3h-9.9zM505 1233.3h9.9v86.5h-9.9zM515.7 1233.3h9.9v86.5h-9.9zM526.5 1233.3h9.9v86.5h-9.9zM537.3 1233.3h9.9v86.5h-9.9zM548 1233.3h9.9v86.5h-9.9zM558.8 1233.3h9.9v86.5h-9.9zM569.6 1233.3h9.9v86.5h-9.9zM580.4 1233.3h9.9v86.5h-9.9zM591.1 1233.3h9.9v86.5h-9.9zM601.9 1233.3h9.9v86.5h-9.9zM612.7 1233.3h9.9v86.5h-9.9zM623.5 1233.3h9.9v74.7h-9.9zM634.2 1233.3h9.9v74.7h-9.9zM645 1233.3h9.9v74.7h-9.9zM655.8 1233.3h9.9v74.7h-9.9zM666.6 1233.3h9.9v74.7h-9.9zM677.4 1233.3h9.9v74.7h-9.9zM688.1 1233.3h9.9v74.7h-9.9zM698.9 1233.3h9.9v74.7h-9.9zM709.7 1233.3h9.9v74.7h-9.9zM720.4 1233.3h9.9v74.7h-9.9zM731.2 1233.3h9.9v74.7h-9.9zM742 1233.3h9.9v83.6h-9.9zM752.8 1233.3h9.9v83.6h-9.9zM763.5 1233.3h9.9v83.6h-9.9zM774.3 1233.3h9.9v83.6h-9.9zM785.1 1233.3h9.9v83.6h-9.9zM795.9 1233.3h9.9v83.6h-9.9zM806.6 1233.3h9.9v83.6h-9.9zM817.4 1233.3h9.9v83.6h-9.9zM828.2 1233.3h9.9v118.9h-9.9zM839 1233.3h9.9v118.9h-9.9zM849.8 1233.3h9.9v118.9h-9.9zM860.5 1233.3h9.9v118.9h-9.9zM871.3 1233.3h9.9v118.9h-9.9zM882.1 1233.3h9.9v118.9h-9.9zM892.9 1233.3h9.9v118.9h-9.9zM903.6 1233.3h9.9v118.9h-9.9z"/>
<line x1="106.6" y1="1233.3" x2="116.6" y2="1233.3" stroke="#333" stroke-width="1.1"/>
<text x="97.7" y="1238.46" font-size="15.4" text-anchor="end" textLength="34.9" lengthAdjust="spacingAndGlyphs">1.00</text>
<line x1="106.6" y1="1282.45" x2="116.6" y2="1282.45" stroke="#333" stroke-width="1.1"/>
<text x="97.7" y="1287.61" font-size="15.4" text-anchor="end" textLength="33.2" lengthAdjust="spacingAndGlyphs">0.75</text>
<line x1="106.6" y1="1331.6" x2="116.6" y2="1331.6" stroke="#333" stroke-width="1.1"/>
<text x="97.7" y="1336.76" font-size="15.4" text-anchor="end" textLength="36.8" lengthAdjust="spacingAndGlyphs">0.50</text>
<line x1="106.6" y1="1380.75" x2="116.6" y2="1380.75" stroke="#333" stroke-width="1.1"/>
<text x="97.7" y="1385.91" font-size="15.4" text-anchor="end" textLength="35.1" lengthAdjust="spacingAndGlyphs">0.25</text>
<line x1="106.6" y1="1429.9" x2="116.6" y2="1429.9" stroke="#333" stroke-width="1.1"/>
<text x="97.7" y="1435.06" font-size="15.4" text-anchor="end" textLength="11.3" lengthAdjust="spacingAndGlyphs">0</text>
<rect x="918.4" y="1224.6" width="37.3" height="214.8" fill="#fff" stroke="#0B2265" stroke-width="3"/>
<text transform="translate(931.5 1331.6) rotate(90)" font-size="20.5" text-anchor="middle" textLength="47" lengthAdjust="spacingAndGlyphs">Early</text>
<rect x="116.6" y="1449.2" width="800.2" height="216" fill="#fff" stroke="#333" stroke-width="1.1"/>
<path fill="#FB8072" d="M117 1556.7h9.9v98h-9.9zM127.8 1557.7h9.9v97h-9.9zM138.6 1558.7h9.9v96h-9.9zM149.4 1562.2h9.9v92.5h-9.9zM160.2 1561.2h9.9v93.5h-9.9zM170.9 1561.2h9.9v93.5h-9.9zM192.5 1560.4h9.9v94.3h-9.9zM203.2 1583.6h9.9v71.1h-9.9zM214 1581.8h9.9v72.9h-9.9zM224.8 1580.8h9.9v73.9h-9.9zM235.6 1569h9.9v85.7h-9.9zM267.9 1597.5h9.9v57.2h-9.9zM278.7 1567.5h9.9v87.2h-9.9zM289.4 1589.6h9.9v65.1h-9.9zM300.2 1590.6h9.9v64.1h-9.9zM311 1579.8h9.9v74.9h-9.9zM321.8 1565.7h9.9v89h-9.9zM332.6 1564h9.9v90.7h-9.9zM343.3 1564h9.9v90.7h-9.9zM354.1 1567.5h9.9v87.2h-9.9zM364.9 1570.8h9.9v83.9h-9.9zM375.7 1569h9.9v85.7h-9.9zM386.4 1581.8h9.9v72.9h-9.9zM397.2 1581.8h9.9v72.9h-9.9zM408 1581.8h9.9v72.9h-9.9zM418.8 1580.8h9.9v73.9h-9.9zM429.5 1580h9.9v74.7h-9.9zM440.3 1561.2h9.9v93.5h-9.9zM451.1 1572.6h9.9v82.1h-9.9zM461.9 1581.8h9.9v72.9h-9.9zM472.6 1582.6h9.9v72.1h-9.9zM483.4 1583.6h9.9v71.1h-9.9zM494.2 1582.6h9.9v72.1h-9.9zM505 1554.9h9.9v99.8h-9.9zM515.7 1561.2h9.9v93.5h-9.9zM526.5 1560.4h9.9v94.3h-9.9zM537.3 1554.2h9.9v100.5h-9.9zM548 1552.4h9.9v102.3h-9.9zM558.8 1556.7h9.9v98h-9.9zM569.6 1553.2h9.9v101.5h-9.9zM580.4 1551.4h9.9v103.3h-9.9zM591.1 1563h9.9v91.7h-9.9zM601.9 1554.9h9.9v99.8h-9.9zM612.7 1542.8h9.9v111.9h-9.9zM623.5 1593.4h9.9v61.3h-9.9zM634.2 1575.3h9.9v79.4h-9.9zM645 1588.8h9.9v65.9h-9.9zM655.8 1575.3h9.9v79.4h-9.9zM666.6 1574.5h9.9v80.2h-9.9zM677.4 1566.7h9.9v88h-9.9zM688.1 1572.6h9.9v82.1h-9.9zM698.9 1580.8h9.9v73.9h-9.9zM709.7 1577.1h9.9v77.6h-9.9zM720.4 1579.8h9.9v74.9h-9.9zM731.2 1568.5h9.9v86.2h-9.9zM742 1549.6h9.9v105.1h-9.9zM752.8 1550.8h9.9v103.9h-9.9zM763.5 1576.1h9.9v78.6h-9.9zM774.3 1563h9.9v91.7h-9.9zM785.1 1561.2h9.9v93.5h-9.9zM795.9 1562.2h9.9v92.5h-9.9zM806.6 1542.8h9.9v111.9h-9.9zM817.4 1553.2h9.9v101.5h-9.9zM828.2 1573.9h9.9v80.8h-9.9zM839 1575.3h9.9v79.4h-9.9zM849.8 1575.3h9.9v79.4h-9.9zM860.5 1571.8h9.9v82.9h-9.9zM871.3 1582.6h9.9v72.1h-9.9zM882.1 1578.1h9.9v76.6h-9.9zM892.9 1575.3h9.9v79.4h-9.9zM903.6 1570.2h9.9v84.5h-9.9z"/>
<path fill="#BEBADA" d="M117 1458.7h9.9v98h-9.9zM127.8 1458.7h9.9v99h-9.9zM138.6 1458.7h9.9v100h-9.9zM149.4 1458.7h9.9v103.5h-9.9zM160.2 1458.7h9.9v102.5h-9.9zM170.9 1458.7h9.9v102.5h-9.9zM192.5 1458.7h9.9v101.7h-9.9zM203.2 1458.7h9.9v124.9h-9.9zM214 1458.7h9.9v123.1h-9.9zM224.8 1458.7h9.9v122.1h-9.9zM235.6 1458.7h9.9v110.3h-9.9zM267.9 1458.7h9.9v138.8h-9.9zM278.7 1458.7h9.9v108.8h-9.9zM289.4 1458.7h9.9v130.9h-9.9zM300.2 1458.7h9.9v131.9h-9.9zM311 1458.7h9.9v121.1h-9.9zM321.8 1458.7h9.9v107h-9.9zM332.6 1458.7h9.9v105.3h-9.9zM343.3 1458.7h9.9v105.3h-9.9zM354.1 1458.7h9.9v108.8h-9.9zM364.9 1458.7h9.9v112.1h-9.9zM375.7 1458.7h9.9v110.3h-9.9zM386.4 1458.7h9.9v123.1h-9.9zM397.2 1458.7h9.9v123.1h-9.9zM408 1458.7h9.9v123.1h-9.9zM418.8 1458.7h9.9v122.1h-9.9zM429.5 1458.7h9.9v121.3h-9.9zM440.3 1458.7h9.9v102.5h-9.9zM451.1 1458.7h9.9v113.9h-9.9zM461.9 1458.7h9.9v123.1h-9.9zM472.6 1458.7h9.9v123.9h-9.9zM483.4 1458.7h9.9v124.9h-9.9zM494.2 1458.7h9.9v123.9h-9.9zM505 1458.7h9.9v96.2h-9.9zM515.7 1458.7h9.9v102.5h-9.9zM526.5 1458.7h9.9v101.7h-9.9zM537.3 1458.7h9.9v95.5h-9.9zM548 1458.7h9.9v93.7h-9.9zM558.8 1458.7h9.9v98h-9.9zM569.6 1458.7h9.9v94.5h-9.9zM580.4 1458.7h9.9v92.7h-9.9zM591.1 1458.7h9.9v104.3h-9.9zM601.9 1458.7h9.9v96.2h-9.9zM612.7 1458.7h9.9v84.1h-9.9zM623.5 1458.7h9.9v134.7h-9.9zM634.2 1458.7h9.9v116.6h-9.9zM645 1458.7h9.9v130.1h-9.9zM655.8 1458.7h9.9v116.6h-9.9zM666.6 1458.7h9.9v115.8h-9.9zM677.4 1458.7h9.9v108h-9.9zM688.1 1458.7h9.9v113.9h-9.9zM698.9 1458.7h9.9v122.1h-9.9zM709.7 1458.7h9.9v118.4h-9.9zM720.4 1458.7h9.9v121.1h-9.9zM731.2 1458.7h9.9v109.8h-9.9zM742 1458.7h9.9v90.9h-9.9zM752.8 1458.7h9.9v92.1h-9.9zM763.5 1458.7h9.9v117.4h-9.9zM774.3 1458.7h9.9v104.3h-9.9zM785.1 1458.7h9.9v102.5h-9.9zM795.9 1458.7h9.9v103.5h-9.9zM806.6 1458.7h9.9v84.1h-9.9zM817.4 1458.7h9.9v94.5h-9.9zM828.2 1458.7h9.9v115.2h-9.9zM839 1458.7h9.9v116.6h-9.9zM849.8 1458.7h9.9v116.6h-9.9zM860.5 1458.7h9.9v113.1h-9.9zM871.3 1458.7h9.9v123.9h-9.9zM882.1 1458.7h9.9v119.4h-9.9zM892.9 1458.7h9.9v116.6h-9.9zM903.6 1458.7h9.9v111.5h-9.9z"/>
<line x1="106.6" y1="1458.7" x2="116.6" y2="1458.7" stroke="#333" stroke-width="1.1"/>
<text x="97.7" y="1463.86" font-size="15.4" text-anchor="end" textLength="34.9" lengthAdjust="spacingAndGlyphs">1.00</text>
<line x1="106.6" y1="1507.7" x2="116.6" y2="1507.7" stroke="#333" stroke-width="1.1"/>
<text x="97.7" y="1512.86" font-size="15.4" text-anchor="end" textLength="33.2" lengthAdjust="spacingAndGlyphs">0.75</text>
<line x1="106.6" y1="1556.7" x2="116.6" y2="1556.7" stroke="#333" stroke-width="1.1"/>
<text x="97.7" y="1561.86" font-size="15.4" text-anchor="end" textLength="36.8" lengthAdjust="spacingAndGlyphs">0.50</text>
<line x1="106.6" y1="1605.7" x2="116.6" y2="1605.7" stroke="#333" stroke-width="1.1"/>
<text x="97.7" y="1610.86" font-size="15.4" text-anchor="end" textLength="35.1" lengthAdjust="spacingAndGlyphs">0.25</text>
<line x1="106.6" y1="1654.7" x2="116.6" y2="1654.7" stroke="#333" stroke-width="1.1"/>
<text x="97.7" y="1659.86" font-size="15.4" text-anchor="end" textLength="11.3" lengthAdjust="spacingAndGlyphs">0</text>
<rect x="918.4" y="1450.4" width="37.3" height="214.4" fill="#fff" stroke="#0B2265" stroke-width="3"/>
<text transform="translate(931.5 1557.2) rotate(90)" font-size="20.5" text-anchor="middle" textLength="124" lengthAdjust="spacingAndGlyphs">Intermediate</text>
<rect x="116.6" y="1673.4" width="800.2" height="215.9" fill="#fff" stroke="#333" stroke-width="1.1"/>
<path fill="#1B9E77" d="M117 1818h9.9v61.5h-9.9zM127.8 1720h9.9v56.8h-9.9zM138.6 1683.1h9.9v115.1h-9.9zM149.4 1683.1h9.9v159.3h-9.9zM170.9 1683.1h9.9v113.3h-9.9zM181.7 1683.1h9.9v109.6h-9.9zM375.7 1683.1h9.9v69.7h-9.9zM537.3 1683.1h9.9v78.6h-9.9zM548 1683.1h9.9v59.9h-9.9zM558.8 1737.9h9.9v53h-9.9zM612.7 1717.5h9.9v54.8h-9.9zM634.2 1683.1h9.9v128.2h-9.9zM666.6 1683.1h9.9v78.6h-9.9zM698.9 1683.1h9.9v74.2h-9.9zM709.7 1683.1h9.9v52.8h-9.9zM720.4 1683.1h9.9v61.1h-9.9zM731.2 1683.1h9.9v64.4h-9.9zM742 1683.1h9.9v37.9h-9.9zM763.5 1779.1h9.9v56h-9.9zM774.3 1683.1h9.9v77h-9.9zM806.6 1793.7h9.9v27.3h-9.9zM860.5 1710.2h9.9v113.5h-9.9zM892.9 1683.1h9.9v58.9h-9.9z"/>
<path fill="#FFFFB3" d="M117 1683.1h9.9v134.9h-9.9zM127.8 1683.1h9.9v36.9h-9.9zM160.2 1683.1h9.9v103.5h-9.9zM192.5 1683.1h9.9v163.2h-9.9zM224.8 1683.1h9.9v13.9h-9.9zM289.4 1683.1h9.9v19.2h-9.9zM300.2 1683.1h9.9v29.9h-9.9zM343.3 1683.1h9.9v48.5h-9.9zM483.4 1683.1h9.9v24.5h-9.9zM558.8 1683.1h9.9v54.8h-9.9zM580.4 1683.1h9.9v127.3h-9.9zM591.1 1683.1h9.9v40.7h-9.9zM612.7 1683.1h9.9v34.4h-9.9zM645 1683.1h9.9v85.6h-9.9zM655.8 1683.1h9.9v81.1h-9.9zM752.8 1683.1h9.9v83.9h-9.9zM763.5 1683.1h9.9v96h-9.9zM795.9 1683.1h9.9v59.9h-9.9zM806.6 1683.1h9.9v110.6h-9.9zM817.4 1683.1h9.9v136.1h-9.9zM828.2 1683.1h9.9v68.9h-9.9zM860.5 1683.1h9.9v27.1h-9.9z"/>
<path fill="#984EA3" d="M127.8 1808.6h9.9v70.9h-9.9zM149.4 1842.4h9.9v37.1h-9.9zM224.8 1842.4h9.9v37.1h-9.9zM235.6 1744.8h9.9v134.7h-9.9zM332.6 1824.5h9.9v55h-9.9zM375.7 1840.6h9.9v38.9h-9.9zM397.2 1805.8h9.9v73.7h-9.9zM461.9 1838.6h9.9v40.9h-9.9zM472.6 1841.2h9.9v38.3h-9.9zM623.5 1755.6h9.9v123.9h-9.9zM688.1 1791.9h9.9v87.6h-9.9zM720.4 1849.5h9.9v30h-9.9zM731.2 1844.9h9.9v34.6h-9.9zM785.1 1768.7h9.9v85.6h-9.9zM903.6 1799.8h9.9v59.3h-9.9z"/>
<path fill="#A6D854" d="M127.8 1776.8h9.9v31.8h-9.9zM160.2 1854.4h9.9v25.1h-9.9zM181.7 1792.7h9.9v36.5h-9.9zM278.7 1827.3h9.9v52.2h-9.9zM386.4 1830.8h9.9v29.3h-9.9zM397.2 1736.9h9.9v68.9h-9.9zM408 1801.5h9.9v50.3h-9.9zM440.3 1683.1h9.9v135.9h-9.9zM623.5 1683.1h9.9v72.5h-9.9zM634.2 1856.3h9.9v23.2h-9.9zM645 1768.7h9.9v77.2h-9.9zM655.8 1833.1h9.9v46.4h-9.9zM666.6 1761.7h9.9v100.2h-9.9zM677.4 1683.1h9.9v162.8h-9.9zM688.1 1766h9.9v25.9h-9.9zM709.7 1850h9.9v29.5h-9.9zM720.4 1744.2h9.9v105.3h-9.9zM731.2 1782.9h9.9v62.1h-9.9z"/>
<path fill="#FB8072" d="M138.6 1843h9.9v36.5h-9.9zM160.2 1786.6h9.9v67.8h-9.9zM203.2 1775h9.9v76.6h-9.9zM214 1779.1h9.9v100.4h-9.9zM224.8 1767h9.9v46.2h-9.9zM235.6 1683.1h9.9v61.7h-9.9zM246.4 1782.7h9.9v63.6h-9.9zM257.1 1827.3h9.9v52.2h-9.9zM267.9 1703.9h9.9v82.5h-9.9zM278.7 1683.1h9.9v96h-9.9zM300.2 1796.8h9.9v27.7h-9.9zM311 1683.1h9.9v169.7h-9.9zM321.8 1683.1h9.9v102.3h-9.9zM332.6 1762.2h9.9v42.8h-9.9zM343.3 1824.9h9.9v54.6h-9.9zM354.1 1744.8h9.9v76.2h-9.9zM364.9 1829h9.9v24.5h-9.9zM386.4 1774h9.9v56.8h-9.9zM418.8 1811h9.9v68.5h-9.9zM429.5 1794.7h9.9v68.9h-9.9zM451.1 1683.1h9.9v125.5h-9.9zM461.9 1810.4h9.9v28.3h-9.9zM494.2 1813.1h9.9v47.7h-9.9zM505 1720h9.9v119.6h-9.9zM526.5 1754.6h9.9v124.9h-9.9zM537.3 1795.4h9.9v55h-9.9zM548 1743h9.9v87.8h-9.9zM558.8 1815.5h9.9v23.2h-9.9zM569.6 1712.2h9.9v63.8h-9.9zM580.4 1810.4h9.9v23.2h-9.9zM601.9 1760.7h9.9v24.2h-9.9zM612.7 1772.3h9.9v22.4h-9.9zM634.2 1811.3h9.9v45h-9.9zM688.1 1683.1h9.9v82.9h-9.9zM709.7 1805.1h9.9v45h-9.9zM731.2 1747.5h9.9v35.4h-9.9zM742 1752h9.9v57.5h-9.9zM752.8 1813.1h9.9v19.2h-9.9zM774.3 1760.1h9.9v77.8h-9.9zM839 1778.4h9.9v101.1h-9.9zM849.8 1774h9.9v56.8h-9.9zM871.3 1788.4h9.9v66.2h-9.9zM882.1 1788.4h9.9v61.7h-9.9zM892.9 1847.7h9.9v31.8h-9.9zM903.6 1785.4h9.9v14.3h-9.9z"/>
<path fill="#BEBADA" d="M138.6 1798.2h9.9v44.8h-9.9zM192.5 1846.3h9.9v33.2h-9.9zM203.2 1683.1h9.9v91.9h-9.9zM214 1683.1h9.9v96h-9.9zM224.8 1697h9.9v69.9h-9.9zM246.4 1683.1h9.9v99.6h-9.9zM257.1 1683.1h9.9v144.2h-9.9zM267.9 1683.1h9.9v20.8h-9.9zM289.4 1702.3h9.9v64.6h-9.9zM300.2 1713h9.9v83.9h-9.9zM332.6 1683.1h9.9v79.1h-9.9zM343.3 1731.6h9.9v93.3h-9.9zM354.1 1683.1h9.9v61.7h-9.9zM364.9 1683.1h9.9v145.9h-9.9zM375.7 1752.8h9.9v87.8h-9.9zM386.4 1683.1h9.9v90.9h-9.9zM397.2 1683.1h9.9v53.8h-9.9zM408 1683.1h9.9v118.4h-9.9zM418.8 1683.1h9.9v127.9h-9.9zM429.5 1683.1h9.9v111.6h-9.9zM461.9 1683.1h9.9v127.3h-9.9zM472.6 1683.1h9.9v158.1h-9.9zM483.4 1707.6h9.9v153.2h-9.9zM494.2 1683.1h9.9v130h-9.9zM505 1683.1h9.9v36.9h-9.9zM515.7 1683.1h9.9v145.9h-9.9zM526.5 1683.1h9.9v71.5h-9.9zM537.3 1761.7h9.9v33.8h-9.9zM558.8 1790.9h9.9v24.6h-9.9zM569.6 1683.1h9.9v29.1h-9.9zM591.1 1723.8h9.9v88.4h-9.9zM601.9 1683.1h9.9v77.6h-9.9zM709.7 1735.9h9.9v69.1h-9.9zM742 1721h9.9v31h-9.9zM752.8 1767h9.9v46.2h-9.9zM785.1 1683.1h9.9v44h-9.9zM795.9 1743h9.9v26.5h-9.9zM828.2 1752h9.9v35.4h-9.9zM839 1683.1h9.9v95.3h-9.9zM849.8 1683.1h9.9v90.9h-9.9zM871.3 1683.1h9.9v105.3h-9.9zM882.1 1683.1h9.9v105.3h-9.9zM892.9 1742h9.9v105.7h-9.9zM903.6 1683.1h9.9v102.3h-9.9z"/>
<path fill="#666" d="M170.9 1796.4h9.9v83.1h-9.9zM181.7 1829.2h9.9v50.3h-9.9zM267.9 1860.8h9.9v18.7h-9.9zM321.8 1842.4h9.9v37.1h-9.9zM386.4 1860.1h9.9v19.4h-9.9zM408 1851.8h9.9v27.7h-9.9zM537.3 1850.4h9.9v29.1h-9.9zM569.6 1839.6h9.9v39.9h-9.9zM591.1 1849.5h9.9v30h-9.9zM645 1845.9h9.9v33.6h-9.9zM666.6 1861.8h9.9v17.7h-9.9zM677.4 1845.9h9.9v33.6h-9.9zM698.9 1757.3h9.9v122.2h-9.9zM785.1 1854.4h9.9v25.1h-9.9zM795.9 1838.6h9.9v40.9h-9.9zM806.6 1860.1h9.9v19.4h-9.9zM871.3 1854.6h9.9v24.9h-9.9zM903.6 1859.1h9.9v20.4h-9.9z"/>
<path fill="#FFD92F" d="M203.2 1851.6h9.9v27.9h-9.9zM224.8 1813.1h9.9v29.3h-9.9zM246.4 1846.3h9.9v33.2h-9.9zM289.4 1858.9h9.9v20.6h-9.9zM311 1852.8h9.9v26.7h-9.9zM321.8 1785.4h9.9v57h-9.9zM332.6 1805.1h9.9v19.4h-9.9zM440.3 1819h9.9v60.5h-9.9zM451.1 1844.1h9.9v35.4h-9.9zM483.4 1860.8h9.9v18.7h-9.9zM505 1839.6h9.9v39.9h-9.9zM515.7 1859.1h9.9v20.4h-9.9zM569.6 1792.7h9.9v46.9h-9.9zM591.1 1812.1h9.9v37.3h-9.9zM601.9 1851.8h9.9v27.7h-9.9zM828.2 1867.1h9.9v12.4h-9.9z"/>
<path fill="#E78AC3" d="M267.9 1786.4h9.9v74.4h-9.9zM289.4 1767h9.9v52h-9.9zM300.2 1824.5h9.9v55h-9.9zM548 1830.8h9.9v29.3h-9.9zM558.8 1838.6h9.9v40.9h-9.9zM569.6 1776h9.9v16.7h-9.9zM580.4 1833.5h9.9v46h-9.9zM601.9 1784.8h9.9v67h-9.9zM612.7 1794.7h9.9v64.4h-9.9zM655.8 1764.2h9.9v68.9h-9.9zM742 1809.6h9.9v43.2h-9.9zM752.8 1832.4h9.9v47.1h-9.9zM763.5 1835.1h9.9v44.4h-9.9zM795.9 1769.5h9.9v69.1h-9.9zM806.6 1821h9.9v39.1h-9.9zM817.4 1819.2h9.9v42.6h-9.9zM828.2 1787.4h9.9v79.7h-9.9zM849.8 1830.8h9.9v48.7h-9.9zM860.5 1823.7h9.9v55.8h-9.9z"/>
<path fill="#66C2A5" d="M278.7 1779.1h9.9v48.1h-9.9zM289.4 1819h9.9v39.9h-9.9zM354.1 1821h9.9v58.5h-9.9zM364.9 1853.6h9.9v25.9h-9.9zM429.5 1863.6h9.9v15.9h-9.9zM451.1 1808.6h9.9v35.5h-9.9zM494.2 1860.8h9.9v18.7h-9.9zM515.7 1829h9.9v30h-9.9zM548 1860.1h9.9v19.4h-9.9zM612.7 1859.1h9.9v20.4h-9.9zM742 1852.8h9.9v26.7h-9.9zM774.3 1837.9h9.9v41.6h-9.9zM785.1 1727.1h9.9v41.6h-9.9zM817.4 1861.8h9.9v17.7h-9.9zM882.1 1850h9.9v29.5h-9.9z"/>
<line x1="106.6" y1="1683.1" x2="116.6" y2="1683.1" stroke="#333" stroke-width="1.1"/>
<text x="97.7" y="1688.26" font-size="15.4" text-anchor="end" textLength="34.9" lengthAdjust="spacingAndGlyphs">1.00</text>
<line x1="106.6" y1="1732.2" x2="116.6" y2="1732.2" stroke="#333" stroke-width="1.1"/>
<text x="97.7" y="1737.36" font-size="15.4" text-anchor="end" textLength="33.2" lengthAdjust="spacingAndGlyphs">0.75</text>
<line x1="106.6" y1="1781.3" x2="116.6" y2="1781.3" stroke="#333" stroke-width="1.1"/>
<text x="97.7" y="1786.46" font-size="15.4" text-anchor="end" textLength="36.8" lengthAdjust="spacingAndGlyphs">0.50</text>
<line x1="106.6" y1="1830.4" x2="116.6" y2="1830.4" stroke="#333" stroke-width="1.1"/>
<text x="97.7" y="1835.56" font-size="15.4" text-anchor="end" textLength="35.1" lengthAdjust="spacingAndGlyphs">0.25</text>
<line x1="106.6" y1="1879.5" x2="116.6" y2="1879.5" stroke="#333" stroke-width="1.1"/>
<text x="97.7" y="1884.66" font-size="15.4" text-anchor="end" textLength="11.3" lengthAdjust="spacingAndGlyphs">0</text>
<rect x="918.4" y="1674.6" width="37.3" height="214.3" fill="#fff" stroke="#0B2265" stroke-width="3"/>
<text transform="translate(931.5 1781.35) rotate(90)" font-size="20.5" text-anchor="middle" textLength="40.5" lengthAdjust="spacingAndGlyphs">Late</text>
<path fill="#F00" d="M117.3 1894.4h9.4v25h-9.4zM128.1 1894.4h9.4v25h-9.4zM138.8 1894.4h9.4v25h-9.4zM149.6 1894.4h9.4v25h-9.4zM160.4 1894.4h9.4v25h-9.4zM171.2 1894.4h9.4v25h-9.4zM181.9 1894.4h9.4v25h-9.4zM192.7 1894.4h9.4v25h-9.4zM537.5 1921.2h9.4v22.3h-9.4z"/>
<path fill="#CDC673" d="M203.5 1894.4h9.4v25h-9.4zM214.3 1894.4h9.4v25h-9.4zM225.1 1894.4h9.4v25h-9.4zM235.8 1894.4h9.4v25h-9.4z"/>
<path fill="#0F0" d="M246.6 1894.4h9.4v25h-9.4zM257.4 1894.4h9.4v25h-9.4z"/>
<path fill="#6495ED" d="M268.1 1894.4h9.4v25h-9.4zM278.9 1894.4h9.4v25h-9.4zM289.7 1894.4h9.4v25h-9.4zM300.5 1894.4h9.4v25h-9.4zM343.6 1921.2h9.4v22.3h-9.4z"/>
<path fill="#3CB371" d="M311.2 1894.4h9.4v25h-9.4zM322 1894.4h9.4v25h-9.4zM332.8 1894.4h9.4v25h-9.4zM343.6 1894.4h9.4v25h-9.4zM354.4 1894.4h9.4v25h-9.4zM365.1 1894.4h9.4v25h-9.4zM375.9 1894.4h9.4v25h-9.4zM181.9 1921.2h9.4v22.3h-9.4zM354.4 1921.2h9.4v22.3h-9.4zM548.3 1921.2h9.4v22.3h-9.4zM559.1 1921.2h9.4v22.3h-9.4zM645.3 1921.2h9.4v22.3h-9.4zM666.8 1921.2h9.4v22.3h-9.4zM871.5 1921.2h9.4v22.3h-9.4zM882.3 1921.2h9.4v22.3h-9.4zM893.1 1921.2h9.4v22.3h-9.4z"/>
<path fill="#F08080" d="M386.7 1894.4h9.4v25h-9.4zM397.5 1894.4h9.4v25h-9.4zM408.2 1894.4h9.4v25h-9.4zM419 1894.4h9.4v25h-9.4zM429.8 1894.4h9.4v25h-9.4zM440.6 1894.4h9.4v25h-9.4zM451.3 1894.4h9.4v25h-9.4zM462.1 1894.4h9.4v25h-9.4zM472.9 1894.4h9.4v25h-9.4zM483.7 1894.4h9.4v25h-9.4zM494.4 1894.4h9.4v25h-9.4z"/>
<path fill="#87CEEB" d="M505.2 1894.4h9.4v25h-9.4zM516 1894.4h9.4v25h-9.4zM526.8 1894.4h9.4v25h-9.4zM537.5 1894.4h9.4v25h-9.4zM548.3 1894.4h9.4v25h-9.4zM559.1 1894.4h9.4v25h-9.4zM569.9 1894.4h9.4v25h-9.4zM580.6 1894.4h9.4v25h-9.4zM591.4 1894.4h9.4v25h-9.4zM602.2 1894.4h9.4v25h-9.4zM613 1894.4h9.4v25h-9.4z"/>
<path fill="#AB82FF" d="M623.7 1894.4h9.4v25h-9.4zM634.5 1894.4h9.4v25h-9.4zM645.3 1894.4h9.4v25h-9.4zM656 1894.4h9.4v25h-9.4zM666.8 1894.4h9.4v25h-9.4zM677.6 1894.4h9.4v25h-9.4zM688.4 1894.4h9.4v25h-9.4zM699.1 1894.4h9.4v25h-9.4zM709.9 1894.4h9.4v25h-9.4zM720.7 1894.4h9.4v25h-9.4zM731.5 1894.4h9.4v25h-9.4zM117.3 1921.2h9.4v22.3h-9.4zM128.1 1921.2h9.4v22.3h-9.4zM138.8 1921.2h9.4v22.3h-9.4zM149.6 1921.2h9.4v22.3h-9.4zM160.4 1921.2h9.4v22.3h-9.4zM171.2 1921.2h9.4v22.3h-9.4zM192.7 1921.2h9.4v22.3h-9.4zM225.1 1921.2h9.4v22.3h-9.4zM709.9 1921.2h9.4v22.3h-9.4zM742.2 1921.2h9.4v22.3h-9.4zM828.4 1921.2h9.4v22.3h-9.4z"/>
<path fill="#4169E1" d="M742.2 1894.4h9.4v25h-9.4zM753 1894.4h9.4v25h-9.4zM763.8 1894.4h9.4v25h-9.4zM774.6 1894.4h9.4v25h-9.4zM785.4 1894.4h9.4v25h-9.4zM796.1 1894.4h9.4v25h-9.4zM806.9 1894.4h9.4v25h-9.4zM817.7 1894.4h9.4v25h-9.4z"/>
<path fill="#FFA54F" d="M828.4 1894.4h9.4v25h-9.4zM839.2 1894.4h9.4v25h-9.4zM850 1894.4h9.4v25h-9.4zM860.8 1894.4h9.4v25h-9.4zM871.5 1894.4h9.4v25h-9.4zM882.3 1894.4h9.4v25h-9.4zM893.1 1894.4h9.4v25h-9.4zM903.9 1894.4h9.4v25h-9.4z"/>
<path fill="#FFD700" d="M203.5 1921.2h9.4v22.3h-9.4zM246.6 1921.2h9.4v22.3h-9.4zM289.7 1921.2h9.4v22.3h-9.4zM322 1921.2h9.4v22.3h-9.4zM332.8 1921.2h9.4v22.3h-9.4zM677.6 1921.2h9.4v22.3h-9.4zM699.1 1921.2h9.4v22.3h-9.4zM839.2 1921.2h9.4v22.3h-9.4zM850 1921.2h9.4v22.3h-9.4zM860.8 1921.2h9.4v22.3h-9.4zM903.9 1921.2h9.4v22.3h-9.4z"/>
<path fill="#006400" d="M214.3 1921.2h9.4v22.3h-9.4zM257.4 1921.2h9.4v22.3h-9.4zM278.9 1921.2h9.4v22.3h-9.4zM731.5 1921.2h9.4v22.3h-9.4z"/>
<path fill="#FF4500" d="M235.8 1921.2h9.4v22.3h-9.4zM268.1 1921.2h9.4v22.3h-9.4zM365.1 1921.2h9.4v22.3h-9.4zM375.9 1921.2h9.4v22.3h-9.4zM419 1921.2h9.4v22.3h-9.4zM429.8 1921.2h9.4v22.3h-9.4zM440.6 1921.2h9.4v22.3h-9.4zM451.3 1921.2h9.4v22.3h-9.4zM462.1 1921.2h9.4v22.3h-9.4zM472.9 1921.2h9.4v22.3h-9.4zM483.7 1921.2h9.4v22.3h-9.4zM494.4 1921.2h9.4v22.3h-9.4zM656 1921.2h9.4v22.3h-9.4zM688.4 1921.2h9.4v22.3h-9.4zM753 1921.2h9.4v22.3h-9.4zM763.8 1921.2h9.4v22.3h-9.4z"/>
<path fill="#8B0000" d="M300.5 1921.2h9.4v22.3h-9.4zM569.9 1921.2h9.4v22.3h-9.4zM634.5 1921.2h9.4v22.3h-9.4z"/>
<path fill="#FF8C00" d="M311.2 1921.2h9.4v22.3h-9.4zM386.7 1921.2h9.4v22.3h-9.4zM397.5 1921.2h9.4v22.3h-9.4zM408.2 1921.2h9.4v22.3h-9.4zM505.2 1921.2h9.4v22.3h-9.4zM516 1921.2h9.4v22.3h-9.4zM526.8 1921.2h9.4v22.3h-9.4zM580.6 1921.2h9.4v22.3h-9.4zM623.7 1921.2h9.4v22.3h-9.4z"/>
<path fill="#00F" d="M591.4 1921.2h9.4v22.3h-9.4zM602.2 1921.2h9.4v22.3h-9.4zM720.7 1921.2h9.4v22.3h-9.4z"/>
<path fill="#8B8B83" d="M613 1921.2h9.4v22.3h-9.4z"/>
<path fill="#BFEFFF" d="M774.6 1921.2h9.4v22.3h-9.4zM785.4 1921.2h9.4v22.3h-9.4zM796.1 1921.2h9.4v22.3h-9.4zM806.9 1921.2h9.4v22.3h-9.4z"/>
<path fill="#EEE685" d="M817.7 1921.2h9.4v22.3h-9.4z"/>
<path fill="#8FBC8F" d="M117.3 1945.4h9.4v21.6h-9.4zM128.1 1945.4h9.4v21.6h-9.4zM138.8 1945.4h9.4v21.6h-9.4zM149.6 1945.4h9.4v21.6h-9.4zM160.4 1945.4h9.4v21.6h-9.4zM171.2 1945.4h9.4v21.6h-9.4zM181.9 1945.4h9.4v21.6h-9.4zM192.7 1945.4h9.4v21.6h-9.4zM203.5 1945.4h9.4v21.6h-9.4zM214.3 1945.4h9.4v21.6h-9.4zM225.1 1945.4h9.4v21.6h-9.4zM235.8 1945.4h9.4v21.6h-9.4zM246.6 1945.4h9.4v21.6h-9.4zM257.4 1945.4h9.4v21.6h-9.4z"/>
<path fill="#E6E6FA" d="M268.1 1945.4h9.4v21.6h-9.4zM278.9 1945.4h9.4v21.6h-9.4zM289.7 1945.4h9.4v21.6h-9.4zM300.5 1945.4h9.4v21.6h-9.4zM311.2 1945.4h9.4v21.6h-9.4zM322 1945.4h9.4v21.6h-9.4zM332.8 1945.4h9.4v21.6h-9.4zM343.6 1945.4h9.4v21.6h-9.4zM354.4 1945.4h9.4v21.6h-9.4zM365.1 1945.4h9.4v21.6h-9.4zM375.9 1945.4h9.4v21.6h-9.4zM386.7 1945.4h9.4v21.6h-9.4zM397.5 1945.4h9.4v21.6h-9.4zM408.2 1945.4h9.4v21.6h-9.4zM419 1945.4h9.4v21.6h-9.4zM429.8 1945.4h9.4v21.6h-9.4zM440.6 1945.4h9.4v21.6h-9.4zM451.3 1945.4h9.4v21.6h-9.4zM462.1 1945.4h9.4v21.6h-9.4zM472.9 1945.4h9.4v21.6h-9.4zM483.7 1945.4h9.4v21.6h-9.4zM494.4 1945.4h9.4v21.6h-9.4zM505.2 1945.4h9.4v21.6h-9.4zM516 1945.4h9.4v21.6h-9.4zM526.8 1945.4h9.4v21.6h-9.4zM537.5 1945.4h9.4v21.6h-9.4zM548.3 1945.4h9.4v21.6h-9.4zM559.1 1945.4h9.4v21.6h-9.4zM569.9 1945.4h9.4v21.6h-9.4zM580.6 1945.4h9.4v21.6h-9.4zM591.4 1945.4h9.4v21.6h-9.4zM602.2 1945.4h9.4v21.6h-9.4zM613 1945.4h9.4v21.6h-9.4z"/>
<path fill="#483D8B" d="M623.7 1945.4h9.4v21.6h-9.4zM634.5 1945.4h9.4v21.6h-9.4zM645.3 1945.4h9.4v21.6h-9.4zM656 1945.4h9.4v21.6h-9.4zM666.8 1945.4h9.4v21.6h-9.4zM677.6 1945.4h9.4v21.6h-9.4zM688.4 1945.4h9.4v21.6h-9.4zM699.1 1945.4h9.4v21.6h-9.4zM709.9 1945.4h9.4v21.6h-9.4zM720.7 1945.4h9.4v21.6h-9.4zM731.5 1945.4h9.4v21.6h-9.4zM742.2 1945.4h9.4v21.6h-9.4zM753 1945.4h9.4v21.6h-9.4zM763.8 1945.4h9.4v21.6h-9.4zM774.6 1945.4h9.4v21.6h-9.4zM785.4 1945.4h9.4v21.6h-9.4zM796.1 1945.4h9.4v21.6h-9.4zM806.9 1945.4h9.4v21.6h-9.4zM817.7 1945.4h9.4v21.6h-9.4zM828.4 1945.4h9.4v21.6h-9.4zM839.2 1945.4h9.4v21.6h-9.4zM850 1945.4h9.4v21.6h-9.4zM860.8 1945.4h9.4v21.6h-9.4zM871.5 1945.4h9.4v21.6h-9.4zM882.3 1945.4h9.4v21.6h-9.4zM893.1 1945.4h9.4v21.6h-9.4zM903.9 1945.4h9.4v21.6h-9.4z"/>
<text x="107.5" y="1914" font-size="21" text-anchor="end" textLength="66.2" lengthAdjust="spacingAndGlyphs">Patient</text>
<text x="107.5" y="1938" font-size="21" text-anchor="end" textLength="60.4" lengthAdjust="spacingAndGlyphs">Organ</text>
<text x="107.5" y="1961.8" font-size="21" text-anchor="end" textLength="98.9" lengthAdjust="spacingAndGlyphs">Treatment</text>
<text x="978.3" y="1232.6" font-size="15" textLength="84.1" lengthAdjust="spacingAndGlyphs">Signatures</text>
<path fill="#FFFFB3" d="M978.3 1240.8h15.6v16.4h-15.6z"/>
<text x="997.2" y="1253.4" font-size="15" textLength="41" lengthAdjust="spacingAndGlyphs">SBS3</text>
<path fill="#1B9E77" d="M978.3 1257.2h15.6v16.4h-15.6z"/>
<text x="997.2" y="1269.79" font-size="15" textLength="41" lengthAdjust="spacingAndGlyphs">SBS5</text>
<path fill="#BEBADA" d="M978.3 1273.6h15.6v16.4h-15.6z"/>
<text x="997.2" y="1286.18" font-size="15" textLength="49.1" lengthAdjust="spacingAndGlyphs">SBS7a</text>
<path fill="#FB8072" d="M978.3 1290h15.6v16.4h-15.6z"/>
<text x="997.2" y="1302.57" font-size="15" textLength="49.1" lengthAdjust="spacingAndGlyphs">SBS7b</text>
<path fill="#E78AC3" d="M978.3 1306.4h15.6v16.4h-15.6z"/>
<text x="997.2" y="1318.96" font-size="15" textLength="42.6" lengthAdjust="spacingAndGlyphs">SBS9</text>
<path fill="#66C2A5" d="M978.3 1322.8h15.6v16.4h-15.6z"/>
<text x="997.2" y="1335.35" font-size="15" textLength="46.6" lengthAdjust="spacingAndGlyphs">SBS11</text>
<path fill="#A6D854" d="M978.3 1339.1h15.6v16.4h-15.6z"/>
<text x="997.2" y="1351.74" font-size="15" textLength="52" lengthAdjust="spacingAndGlyphs">SBS26</text>
<path fill="#FFD92F" d="M978.3 1355.5h15.6v16.4h-15.6z"/>
<text x="997.2" y="1368.13" font-size="15" textLength="52" lengthAdjust="spacingAndGlyphs">SBS30</text>
<path fill="#984EA3" d="M978.3 1371.9h15.6v16.4h-15.6z"/>
<text x="997.2" y="1384.52" font-size="15" textLength="48.5" lengthAdjust="spacingAndGlyphs">SBS31</text>
<path fill="#666" d="M978.3 1388.3h15.6v16.4h-15.6z"/>
<text x="997.2" y="1400.91" font-size="15" textLength="48.9" lengthAdjust="spacingAndGlyphs">SBS87</text>
<text x="978" y="1432.4" font-size="15" textLength="48.1" lengthAdjust="spacingAndGlyphs">Organ</text>
<path fill="#00F" d="M978 1441.3h16v17.3h-16z"/>
<text x="999.6" y="1454.5" font-size="15" textLength="60.3" lengthAdjust="spacingAndGlyphs">Adrenal</text>
<path fill="#AB82FF" d="M978 1458.6h16v17.3h-16z"/>
<text x="999.6" y="1471.8" font-size="15" textLength="40.4" lengthAdjust="spacingAndGlyphs">Brain</text>
<path fill="#8B0000" d="M978 1475.9h16v17.3h-16z"/>
<text x="999.6" y="1489.1" font-size="15" textLength="51.2" lengthAdjust="spacingAndGlyphs">Cardio</text>
<path fill="#8B8B83" d="M978 1493.2h16v17.3h-16z"/>
<text x="999.6" y="1506.4" font-size="15" textLength="89.9" lengthAdjust="spacingAndGlyphs">Gallbladder</text>
<path fill="#FF4500" d="M978 1510.5h16v17.3h-16z"/>
<text x="999.6" y="1523.7" font-size="15" textLength="37.6" lengthAdjust="spacingAndGlyphs">Liver</text>
<path fill="#3CB371" d="M978 1527.8h16v17.3h-16z"/>
<text x="999.6" y="1541" font-size="15" textLength="96.8" lengthAdjust="spacingAndGlyphs">Lymph node</text>
<path fill="#FFD700" d="M978 1545.1h16v17.3h-16z"/>
<text x="999.6" y="1558.3" font-size="15" textLength="38.6" lengthAdjust="spacingAndGlyphs">Lung</text>
<path fill="#BFEFFF" d="M978 1562.4h16v17.3h-16z"/>
<text x="999.6" y="1575.6" font-size="15" textLength="76.9" lengthAdjust="spacingAndGlyphs">Omentum</text>
<path fill="#EEE685" d="M978 1579.7h16v17.3h-16z"/>
<text x="999.6" y="1592.9" font-size="15" textLength="90.1" lengthAdjust="spacingAndGlyphs">Peritoneum</text>
<path fill="#6495ED" d="M978 1597h16v17.3h-16z"/>
<text x="999.6" y="1610.2" font-size="15" textLength="50.3" lengthAdjust="spacingAndGlyphs">Pleura</text>
<path fill="#FF8C00" d="M978 1614.3h16v17.3h-16z"/>
<text x="999.6" y="1627.5" font-size="15" textLength="81.6" lengthAdjust="spacingAndGlyphs">Soft tissue</text>
<path fill="#006400" d="M978 1631.6h16v17.3h-16z"/>
<text x="999.6" y="1644.8" font-size="15" textLength="54.3" lengthAdjust="spacingAndGlyphs">Spleen</text>
<path fill="#F00" d="M978 1648.9h16v17.3h-16z"/>
<text x="999.6" y="1662.1" font-size="15" textLength="58.4" lengthAdjust="spacingAndGlyphs">Thyroid</text>
<text x="978" y="1691.9" font-size="15" textLength="54.3" lengthAdjust="spacingAndGlyphs">Patient</text>
<path fill="#F00" d="M978 1700.6h16v17.3h-16z"/>
<text x="1001.2" y="1713.8" font-size="15" textLength="74.9" lengthAdjust="spacingAndGlyphs">RAM12.01</text>
<path fill="#CDC673" d="M978 1717.9h16v17.3h-16z"/>
<text x="1001.2" y="1731.1" font-size="15" textLength="83.4" lengthAdjust="spacingAndGlyphs">RAM13003</text>
<path fill="#6495ED" d="M978 1735.2h16v17.3h-16z"/>
<text x="1001.2" y="1748.4" font-size="15" textLength="83.4" lengthAdjust="spacingAndGlyphs">RAM13004</text>
<path fill="#0F0" d="M978 1752.5h16v17.3h-16z"/>
<text x="1001.2" y="1765.7" font-size="15" textLength="81.5" lengthAdjust="spacingAndGlyphs">RAM14001</text>
<path fill="#AB82FF" d="M978 1769.8h16v17.3h-16z"/>
<text x="1001.2" y="1783" font-size="15" textLength="85" lengthAdjust="spacingAndGlyphs">RAM14006</text>
<path fill="#3CB371" d="M978 1787.1h16v17.3h-16z"/>
<text x="1001.2" y="1800.3" font-size="15" textLength="83.2" lengthAdjust="spacingAndGlyphs">RAM19001</text>
<path fill="#F08080" d="M978 1804.4h16v17.3h-16z"/>
<text x="1001.2" y="1817.6" font-size="15" textLength="85" lengthAdjust="spacingAndGlyphs">RAM19002</text>
<path fill="#4169E1" d="M978 1821.7h16v17.3h-16z"/>
<text x="1001.2" y="1834.9" font-size="15" textLength="85" lengthAdjust="spacingAndGlyphs">RAM19003</text>
<path fill="#87CEEB" d="M978 1839h16v17.3h-16z"/>
<text x="1001.2" y="1852.2" font-size="15" textLength="85" lengthAdjust="spacingAndGlyphs">RAM19005</text>
<path fill="#FFA54F" d="M978 1856.3h16v17.3h-16z"/>
<text x="1001.2" y="1869.5" font-size="15" textLength="86.7" lengthAdjust="spacingAndGlyphs">RAM19006</text>
<text x="977" y="1900.2" font-size="15" textLength="80.2" lengthAdjust="spacingAndGlyphs">Treatment</text>
<path fill="#E6E6FA" d="M977 1908.5h16v17.3h-16z"/>
<text x="1001.2" y="1921.7" font-size="15" textLength="26.3" lengthAdjust="spacingAndGlyphs">ICB</text>
<path fill="#8FBC8F" d="M977 1925.8h16v17.3h-16z"/>
<text x="1001.2" y="1939" font-size="15" textLength="48.8" lengthAdjust="spacingAndGlyphs">MAPKi</text>
<path fill="#483D8B" d="M977 1943.1h16v17.3h-16z"/>
<text x="1001.2" y="1956.3" font-size="15" textLength="93.4" lengthAdjust="spacingAndGlyphs">MAPKi + ICB</text>
</g>
<g id="panel-c">
<text x="1179.2" y="1214.2" font-size="37.5" font-weight="bold" stroke="#000" stroke-width="0.8" textLength="22.3" lengthAdjust="spacingAndGlyphs">c</text>
<text x="1197.7" y="1238.5" font-size="20" textLength="47.1" lengthAdjust="spacingAndGlyphs">Early</text>
<path d="M1279.65 1286L1353.56 1286M1366.46 1286L1369.35 1286M1382.24 1286L1456.16 1286M1469.05 1286L1519.29 1286M1532.19 1286L1606.11 1286M1619 1286L1669.24 1286M1682.13 1286L1700.81 1286M1713.7 1286L1732.38 1286M1745.27 1286L1787.62 1286M1800.51 1286L1850.75 1286M1369.3 1286.3V1276.4H1389.3V1286.3M1475.6 1286.3V1276.4H1539.1V1286.3M1379.3 1276.4V1263.8H1507.35V1276.4M1286.1 1286.3V1250.5H1443.32V1263.8M1687.4 1286.3V1278.6H1719.4V1286.3M1751.8 1286.3V1275.5H1807.2V1286.3M1703.4 1278.6V1255.8H1779.5V1275.5M1625.6 1286.3V1240.1H1741.45V1255.8M1364.71 1250.5V1224.1H1683.53V1240.1" stroke="#000" stroke-width="1.15" fill="none" stroke-linejoin="miter"/>
<path fill="#DCDCDC" d="M1274.4 1286.4h584.6v12.4h-584.6zM1274.4 1300.8h584.6v12.4h-584.6zM1274.4 1315.2h584.6v12.2h-584.6z"/>
<path fill="#483D8B" d="M1275.4 1287h6.5v11.2h-6.5zM1283.3 1287h6.5v11.2h-6.5zM1291.2 1287h6.5v11.2h-6.5zM1299.1 1287h6.5v11.2h-6.5zM1307 1287h6.5v11.2h-6.5zM1314.9 1287h6.5v11.2h-6.5zM1322.8 1287h6.5v11.2h-6.5zM1330.6 1287h6.5v11.2h-6.5zM1338.5 1287h6.5v11.2h-6.5zM1346.4 1287h6.5v11.2h-6.5zM1354.3 1287h6.5v11.2h-6.5zM1464.8 1287h6.5v11.2h-6.5zM1472.7 1287h6.5v11.2h-6.5zM1480.6 1287h6.5v11.2h-6.5zM1488.5 1287h6.5v11.2h-6.5zM1496.4 1287h6.5v11.2h-6.5zM1504.3 1287h6.5v11.2h-6.5zM1512.2 1287h6.5v11.2h-6.5zM1520 1287h6.5v11.2h-6.5zM1796.3 1287h6.5v11.2h-6.5zM1804.2 1287h6.5v11.2h-6.5zM1812 1287h6.5v11.2h-6.5zM1819.9 1287h6.5v11.2h-6.5zM1827.8 1287h6.5v11.2h-6.5zM1835.7 1287h6.5v11.2h-6.5zM1843.6 1287h6.5v11.2h-6.5zM1851.5 1287h6.5v11.2h-6.5z"/>
<path fill="#8FBC8F" d="M1362.2 1287h6.5v11.2h-6.5zM1370.1 1287h6.5v11.2h-6.5zM1614.8 1287h6.5v11.2h-6.5zM1622.6 1287h6.5v11.2h-6.5zM1630.5 1287h6.5v11.2h-6.5zM1638.4 1287h6.5v11.2h-6.5zM1646.3 1287h6.5v11.2h-6.5zM1654.2 1287h6.5v11.2h-6.5zM1662.1 1287h6.5v11.2h-6.5zM1670 1287h6.5v11.2h-6.5zM1677.9 1287h6.5v11.2h-6.5zM1685.8 1287h6.5v11.2h-6.5zM1693.7 1287h6.5v11.2h-6.5zM1701.6 1287h6.5v11.2h-6.5z"/>
<path fill="#E6E6FA" d="M1378 1287h6.5v11.2h-6.5zM1385.9 1287h6.5v11.2h-6.5zM1393.8 1287h6.5v11.2h-6.5zM1401.7 1287h6.5v11.2h-6.5zM1409.6 1287h6.5v11.2h-6.5zM1417.5 1287h6.5v11.2h-6.5zM1425.3 1287h6.5v11.2h-6.5zM1433.2 1287h6.5v11.2h-6.5zM1441.1 1287h6.5v11.2h-6.5zM1449 1287h6.5v11.2h-6.5zM1456.9 1287h6.5v11.2h-6.5zM1527.9 1287h6.5v11.2h-6.5zM1535.8 1287h6.5v11.2h-6.5zM1543.7 1287h6.5v11.2h-6.5zM1551.6 1287h6.5v11.2h-6.5zM1559.5 1287h6.5v11.2h-6.5zM1567.4 1287h6.5v11.2h-6.5zM1575.3 1287h6.5v11.2h-6.5zM1583.2 1287h6.5v11.2h-6.5zM1591.1 1287h6.5v11.2h-6.5zM1599 1287h6.5v11.2h-6.5zM1606.9 1287h6.5v11.2h-6.5zM1709.5 1287h6.5v11.2h-6.5zM1717.3 1287h6.5v11.2h-6.5zM1725.2 1287h6.5v11.2h-6.5zM1733.1 1287h6.5v11.2h-6.5zM1741 1287h6.5v11.2h-6.5zM1748.9 1287h6.5v11.2h-6.5zM1756.8 1287h6.5v11.2h-6.5zM1764.7 1287h6.5v11.2h-6.5zM1772.6 1287h6.5v11.2h-6.5zM1780.5 1287h6.5v11.2h-6.5zM1788.4 1287h6.5v11.2h-6.5z"/>
<path fill="#AB82FF" d="M1275.4 1301.4h6.5v11.2h-6.5zM1283.3 1301.4h6.5v11.2h-6.5zM1291.2 1301.4h6.5v11.2h-6.5zM1299.1 1301.4h6.5v11.2h-6.5zM1307 1301.4h6.5v11.2h-6.5zM1314.9 1301.4h6.5v11.2h-6.5zM1322.8 1301.4h6.5v11.2h-6.5zM1330.6 1301.4h6.5v11.2h-6.5zM1338.5 1301.4h6.5v11.2h-6.5zM1346.4 1301.4h6.5v11.2h-6.5zM1354.3 1301.4h6.5v11.2h-6.5zM1291.2 1315.8h6.5v11h-6.5zM1512.2 1315.8h6.5v11h-6.5zM1614.8 1315.8h6.5v11h-6.5zM1630.5 1315.8h6.5v11h-6.5zM1638.4 1315.8h6.5v11h-6.5zM1646.3 1315.8h6.5v11h-6.5zM1654.2 1315.8h6.5v11h-6.5zM1662.1 1315.8h6.5v11h-6.5zM1670 1315.8h6.5v11h-6.5zM1685.8 1315.8h6.5v11h-6.5zM1843.6 1315.8h6.5v11h-6.5z"/>
<path fill="#0F0" d="M1362.2 1301.4h6.5v11.2h-6.5zM1370.1 1301.4h6.5v11.2h-6.5z"/>
<path fill="#F08080" d="M1378 1301.4h6.5v11.2h-6.5zM1385.9 1301.4h6.5v11.2h-6.5zM1393.8 1301.4h6.5v11.2h-6.5zM1401.7 1301.4h6.5v11.2h-6.5zM1409.6 1301.4h6.5v11.2h-6.5zM1417.5 1301.4h6.5v11.2h-6.5zM1425.3 1301.4h6.5v11.2h-6.5zM1433.2 1301.4h6.5v11.2h-6.5zM1441.1 1301.4h6.5v11.2h-6.5zM1449 1301.4h6.5v11.2h-6.5zM1456.9 1301.4h6.5v11.2h-6.5z"/>
<path fill="#4169E1" d="M1464.8 1301.4h6.5v11.2h-6.5zM1472.7 1301.4h6.5v11.2h-6.5zM1480.6 1301.4h6.5v11.2h-6.5zM1488.5 1301.4h6.5v11.2h-6.5zM1496.4 1301.4h6.5v11.2h-6.5zM1504.3 1301.4h6.5v11.2h-6.5zM1512.2 1301.4h6.5v11.2h-6.5zM1520 1301.4h6.5v11.2h-6.5z"/>
<path fill="#87CEEB" d="M1527.9 1301.4h6.5v11.2h-6.5zM1535.8 1301.4h6.5v11.2h-6.5zM1543.7 1301.4h6.5v11.2h-6.5zM1551.6 1301.4h6.5v11.2h-6.5zM1559.5 1301.4h6.5v11.2h-6.5zM1567.4 1301.4h6.5v11.2h-6.5zM1575.3 1301.4h6.5v11.2h-6.5zM1583.2 1301.4h6.5v11.2h-6.5zM1591.1 1301.4h6.5v11.2h-6.5zM1599 1301.4h6.5v11.2h-6.5zM1606.9 1301.4h6.5v11.2h-6.5z"/>
<path fill="#F00" d="M1614.8 1301.4h6.5v11.2h-6.5zM1622.6 1301.4h6.5v11.2h-6.5zM1630.5 1301.4h6.5v11.2h-6.5zM1638.4 1301.4h6.5v11.2h-6.5zM1646.3 1301.4h6.5v11.2h-6.5zM1654.2 1301.4h6.5v11.2h-6.5zM1662.1 1301.4h6.5v11.2h-6.5zM1670 1301.4h6.5v11.2h-6.5zM1583.2 1315.8h6.5v11h-6.5z"/>
<path fill="#CDC673" d="M1677.9 1301.4h6.5v11.2h-6.5zM1685.8 1301.4h6.5v11.2h-6.5zM1693.7 1301.4h6.5v11.2h-6.5zM1701.6 1301.4h6.5v11.2h-6.5z"/>
<path fill="#6495ED" d="M1709.5 1301.4h6.5v11.2h-6.5zM1717.3 1301.4h6.5v11.2h-6.5zM1725.2 1301.4h6.5v11.2h-6.5zM1733.1 1301.4h6.5v11.2h-6.5zM1764.7 1315.8h6.5v11h-6.5z"/>
<path fill="#3CB371" d="M1741 1301.4h6.5v11.2h-6.5zM1748.9 1301.4h6.5v11.2h-6.5zM1756.8 1301.4h6.5v11.2h-6.5zM1764.7 1301.4h6.5v11.2h-6.5zM1772.6 1301.4h6.5v11.2h-6.5zM1780.5 1301.4h6.5v11.2h-6.5zM1788.4 1301.4h6.5v11.2h-6.5zM1322.8 1315.8h6.5v11h-6.5zM1338.5 1315.8h6.5v11h-6.5zM1567.4 1315.8h6.5v11h-6.5zM1575.3 1315.8h6.5v11h-6.5zM1622.6 1315.8h6.5v11h-6.5zM1756.8 1315.8h6.5v11h-6.5zM1804.2 1315.8h6.5v11h-6.5zM1812 1315.8h6.5v11h-6.5zM1819.9 1315.8h6.5v11h-6.5z"/>
<path fill="#FFA54F" d="M1796.3 1301.4h6.5v11.2h-6.5zM1804.2 1301.4h6.5v11.2h-6.5zM1812 1301.4h6.5v11.2h-6.5zM1819.9 1301.4h6.5v11.2h-6.5zM1827.8 1301.4h6.5v11.2h-6.5zM1835.7 1301.4h6.5v11.2h-6.5zM1843.6 1301.4h6.5v11.2h-6.5zM1851.5 1301.4h6.5v11.2h-6.5z"/>
<path fill="#006400" d="M1275.4 1315.8h6.5v11h-6.5zM1370.1 1315.8h6.5v11h-6.5zM1701.6 1315.8h6.5v11h-6.5zM1733.1 1315.8h6.5v11h-6.5z"/>
<path fill="#00F" d="M1283.3 1315.8h6.5v11h-6.5zM1535.8 1315.8h6.5v11h-6.5zM1543.7 1315.8h6.5v11h-6.5z"/>
<path fill="#FFD700" d="M1299.1 1315.8h6.5v11h-6.5zM1314.9 1315.8h6.5v11h-6.5zM1362.2 1315.8h6.5v11h-6.5zM1693.7 1315.8h6.5v11h-6.5zM1717.3 1315.8h6.5v11h-6.5zM1772.6 1315.8h6.5v11h-6.5zM1788.4 1315.8h6.5v11h-6.5zM1796.3 1315.8h6.5v11h-6.5zM1827.8 1315.8h6.5v11h-6.5zM1835.7 1315.8h6.5v11h-6.5zM1851.5 1315.8h6.5v11h-6.5z"/>
<path fill="#FF4500" d="M1307 1315.8h6.5v11h-6.5zM1330.6 1315.8h6.5v11h-6.5zM1378 1315.8h6.5v11h-6.5zM1385.9 1315.8h6.5v11h-6.5zM1393.8 1315.8h6.5v11h-6.5zM1401.7 1315.8h6.5v11h-6.5zM1409.6 1315.8h6.5v11h-6.5zM1417.5 1315.8h6.5v11h-6.5zM1425.3 1315.8h6.5v11h-6.5zM1433.2 1315.8h6.5v11h-6.5zM1504.3 1315.8h6.5v11h-6.5zM1520 1315.8h6.5v11h-6.5zM1677.9 1315.8h6.5v11h-6.5zM1725.2 1315.8h6.5v11h-6.5zM1741 1315.8h6.5v11h-6.5zM1748.9 1315.8h6.5v11h-6.5z"/>
<path fill="#FF8C00" d="M1346.4 1315.8h6.5v11h-6.5zM1441.1 1315.8h6.5v11h-6.5zM1449 1315.8h6.5v11h-6.5zM1456.9 1315.8h6.5v11h-6.5zM1551.6 1315.8h6.5v11h-6.5zM1591.1 1315.8h6.5v11h-6.5zM1599 1315.8h6.5v11h-6.5zM1606.9 1315.8h6.5v11h-6.5zM1780.5 1315.8h6.5v11h-6.5z"/>
<path fill="#8B0000" d="M1354.3 1315.8h6.5v11h-6.5zM1559.5 1315.8h6.5v11h-6.5zM1709.5 1315.8h6.5v11h-6.5z"/>
<path fill="#EEE685" d="M1464.8 1315.8h6.5v11h-6.5z"/>
<path fill="#BFEFFF" d="M1472.7 1315.8h6.5v11h-6.5zM1480.6 1315.8h6.5v11h-6.5zM1488.5 1315.8h6.5v11h-6.5zM1496.4 1315.8h6.5v11h-6.5z"/>
<path fill="#8B8B83" d="M1527.9 1315.8h6.5v11h-6.5z"/>
<path fill="#F9E4E4" d="M1274.7 1330.6h7.9v24.7h-7.9zM1282.6 1330.6h7.9v24.7h-7.9zM1290.5 1330.6h7.9v24.7h-7.9zM1298.4 1330.6h7.9v24.7h-7.9zM1306.3 1330.6h7.9v24.7h-7.9zM1314.2 1330.6h7.9v24.7h-7.9zM1322.1 1330.6h7.9v24.7h-7.9zM1329.9 1330.6h7.9v24.7h-7.9zM1337.8 1330.6h7.9v24.7h-7.9zM1345.7 1330.6h7.9v24.7h-7.9zM1353.6 1330.6h7.9v24.7h-7.9z"/>
<path fill="#F1C2C2" d="M1614.1 1330.6h7.9v24.7h-7.9zM1621.9 1330.6h7.9v24.7h-7.9zM1629.8 1330.6h7.9v24.7h-7.9zM1637.7 1330.6h7.9v24.7h-7.9zM1645.6 1330.6h7.9v24.7h-7.9zM1653.5 1330.6h7.9v24.7h-7.9zM1661.4 1330.6h7.9v24.7h-7.9zM1669.3 1330.6h7.9v24.7h-7.9z"/>
<path fill="#F8DFDF" d="M1677.2 1330.6h7.9v24.7h-7.9zM1685.1 1330.6h7.9v24.7h-7.9zM1693 1330.6h7.9v24.7h-7.9zM1700.9 1330.6h7.9v24.7h-7.9z"/>
<path fill="#F9E6E6" d="M1708.8 1330.6h7.9v24.7h-7.9zM1716.6 1330.6h7.9v24.7h-7.9zM1724.5 1330.6h7.9v24.7h-7.9zM1732.4 1330.6h7.9v24.7h-7.9z"/>
<path fill="#E07777" d="M1274.7 1355.3h7.9v24.3h-7.9zM1282.6 1355.3h7.9v24.3h-7.9zM1290.5 1355.3h7.9v24.3h-7.9zM1298.4 1355.3h7.9v24.3h-7.9zM1306.3 1355.3h7.9v24.3h-7.9zM1314.2 1355.3h7.9v24.3h-7.9zM1322.1 1355.3h7.9v24.3h-7.9zM1329.9 1355.3h7.9v24.3h-7.9zM1337.8 1355.3h7.9v24.3h-7.9zM1345.7 1355.3h7.9v24.3h-7.9zM1353.6 1355.3h7.9v24.3h-7.9z"/>
<path fill="#D74F4F" d="M1361.5 1355.3h7.9v24.3h-7.9zM1369.4 1355.3h7.9v24.3h-7.9z"/>
<path fill="#D64C4C" d="M1377.3 1355.3h7.9v24.3h-7.9zM1385.2 1355.3h7.9v24.3h-7.9zM1393.1 1355.3h7.9v24.3h-7.9zM1401 1355.3h7.9v24.3h-7.9zM1408.9 1355.3h7.9v24.3h-7.9zM1416.8 1355.3h7.9v24.3h-7.9zM1424.6 1355.3h7.9v24.3h-7.9zM1432.5 1355.3h7.9v24.3h-7.9zM1440.4 1355.3h7.9v24.3h-7.9zM1448.3 1355.3h7.9v24.3h-7.9zM1456.2 1355.3h7.9v24.3h-7.9zM1377.3 1379.6h7.9v23.6h-7.9zM1385.2 1379.6h7.9v23.6h-7.9zM1393.1 1379.6h7.9v23.6h-7.9zM1401 1379.6h7.9v23.6h-7.9zM1408.9 1379.6h7.9v23.6h-7.9zM1416.8 1379.6h7.9v23.6h-7.9zM1424.6 1379.6h7.9v23.6h-7.9zM1432.5 1379.6h7.9v23.6h-7.9zM1440.4 1379.6h7.9v23.6h-7.9zM1448.3 1379.6h7.9v23.6h-7.9zM1456.2 1379.6h7.9v23.6h-7.9z"/>
<path fill="#DC6767" d="M1464.1 1355.3h7.9v24.3h-7.9zM1472 1355.3h7.9v24.3h-7.9zM1479.9 1355.3h7.9v24.3h-7.9zM1487.8 1355.3h7.9v24.3h-7.9zM1495.7 1355.3h7.9v24.3h-7.9zM1503.6 1355.3h7.9v24.3h-7.9zM1511.5 1355.3h7.9v24.3h-7.9zM1519.3 1355.3h7.9v24.3h-7.9z"/>
<path fill="#DB6161" d="M1527.2 1355.3h7.9v24.3h-7.9zM1535.1 1355.3h7.9v24.3h-7.9zM1543 1355.3h7.9v24.3h-7.9zM1550.9 1355.3h7.9v24.3h-7.9zM1558.8 1355.3h7.9v24.3h-7.9zM1566.7 1355.3h7.9v24.3h-7.9zM1574.6 1355.3h7.9v24.3h-7.9zM1582.5 1355.3h7.9v24.3h-7.9zM1590.4 1355.3h7.9v24.3h-7.9zM1598.3 1355.3h7.9v24.3h-7.9zM1606.2 1355.3h7.9v24.3h-7.9z"/>
<path fill="#D95858" d="M1614.1 1355.3h7.9v24.3h-7.9zM1621.9 1355.3h7.9v24.3h-7.9zM1629.8 1355.3h7.9v24.3h-7.9zM1637.7 1355.3h7.9v24.3h-7.9zM1645.6 1355.3h7.9v24.3h-7.9zM1653.5 1355.3h7.9v24.3h-7.9zM1661.4 1355.3h7.9v24.3h-7.9zM1669.3 1355.3h7.9v24.3h-7.9z"/>
<path fill="#D85555" d="M1677.2 1355.3h7.9v24.3h-7.9zM1685.1 1355.3h7.9v24.3h-7.9zM1693 1355.3h7.9v24.3h-7.9zM1700.9 1355.3h7.9v24.3h-7.9z"/>
<path fill="#D85656" d="M1708.8 1355.3h7.9v24.3h-7.9zM1716.6 1355.3h7.9v24.3h-7.9zM1724.5 1355.3h7.9v24.3h-7.9zM1732.4 1355.3h7.9v24.3h-7.9z"/>
<path fill="#D03333" d="M1740.3 1355.3h7.9v24.3h-7.9zM1748.2 1355.3h7.9v24.3h-7.9zM1756.1 1355.3h7.9v24.3h-7.9zM1764 1355.3h7.9v24.3h-7.9zM1771.9 1355.3h7.9v24.3h-7.9zM1779.8 1355.3h7.9v24.3h-7.9zM1787.7 1355.3h7.9v24.3h-7.9z"/>
<path fill="#CD2626" d="M1795.6 1355.3h7.9v24.3h-7.9zM1803.5 1355.3h7.9v24.3h-7.9zM1811.3 1355.3h7.9v24.3h-7.9zM1819.2 1355.3h7.9v24.3h-7.9zM1827.1 1355.3h7.9v24.3h-7.9zM1835 1355.3h7.9v24.3h-7.9zM1842.9 1355.3h7.9v24.3h-7.9zM1850.8 1355.3h7.9v24.3h-7.9z"/>
<path fill="#D23C3C" d="M1274.7 1379.6h7.9v23.6h-7.9zM1282.6 1379.6h7.9v23.6h-7.9zM1290.5 1379.6h7.9v23.6h-7.9zM1298.4 1379.6h7.9v23.6h-7.9zM1306.3 1379.6h7.9v23.6h-7.9zM1314.2 1379.6h7.9v23.6h-7.9zM1322.1 1379.6h7.9v23.6h-7.9zM1329.9 1379.6h7.9v23.6h-7.9zM1337.8 1379.6h7.9v23.6h-7.9zM1345.7 1379.6h7.9v23.6h-7.9zM1353.6 1379.6h7.9v23.6h-7.9z"/>
<path fill="#D54848" d="M1361.5 1379.6h7.9v23.6h-7.9zM1369.4 1379.6h7.9v23.6h-7.9z"/>
<path fill="#CF3131" d="M1464.1 1379.6h7.9v23.6h-7.9zM1472 1379.6h7.9v23.6h-7.9zM1479.9 1379.6h7.9v23.6h-7.9zM1487.8 1379.6h7.9v23.6h-7.9zM1495.7 1379.6h7.9v23.6h-7.9zM1503.6 1379.6h7.9v23.6h-7.9zM1511.5 1379.6h7.9v23.6h-7.9zM1519.3 1379.6h7.9v23.6h-7.9z"/>
<path fill="#D13636" d="M1527.2 1379.6h7.9v23.6h-7.9zM1535.1 1379.6h7.9v23.6h-7.9zM1543 1379.6h7.9v23.6h-7.9zM1550.9 1379.6h7.9v23.6h-7.9zM1558.8 1379.6h7.9v23.6h-7.9zM1566.7 1379.6h7.9v23.6h-7.9zM1574.6 1379.6h7.9v23.6h-7.9zM1582.5 1379.6h7.9v23.6h-7.9zM1590.4 1379.6h7.9v23.6h-7.9zM1598.3 1379.6h7.9v23.6h-7.9zM1606.2 1379.6h7.9v23.6h-7.9z"/>
<path fill="#E17C7C" d="M1614.1 1379.6h7.9v23.6h-7.9zM1621.9 1379.6h7.9v23.6h-7.9zM1629.8 1379.6h7.9v23.6h-7.9zM1637.7 1379.6h7.9v23.6h-7.9zM1645.6 1379.6h7.9v23.6h-7.9zM1653.5 1379.6h7.9v23.6h-7.9zM1661.4 1379.6h7.9v23.6h-7.9zM1669.3 1379.6h7.9v23.6h-7.9z"/>
<path fill="#DB6363" d="M1677.2 1379.6h7.9v23.6h-7.9zM1685.1 1379.6h7.9v23.6h-7.9zM1693 1379.6h7.9v23.6h-7.9zM1700.9 1379.6h7.9v23.6h-7.9z"/>
<path fill="#D95A5A" d="M1708.8 1379.6h7.9v23.6h-7.9zM1716.6 1379.6h7.9v23.6h-7.9zM1724.5 1379.6h7.9v23.6h-7.9zM1732.4 1379.6h7.9v23.6h-7.9z"/>
<path fill="#DB6565" d="M1740.3 1379.6h7.9v23.6h-7.9zM1748.2 1379.6h7.9v23.6h-7.9zM1756.1 1379.6h7.9v23.6h-7.9zM1764 1379.6h7.9v23.6h-7.9zM1771.9 1379.6h7.9v23.6h-7.9zM1779.8 1379.6h7.9v23.6h-7.9zM1787.7 1379.6h7.9v23.6h-7.9z"/>
<path fill="#DE7171" d="M1795.6 1379.6h7.9v23.6h-7.9zM1803.5 1379.6h7.9v23.6h-7.9zM1811.3 1379.6h7.9v23.6h-7.9zM1819.2 1379.6h7.9v23.6h-7.9zM1827.1 1379.6h7.9v23.6h-7.9zM1835 1379.6h7.9v23.6h-7.9zM1842.9 1379.6h7.9v23.6h-7.9zM1850.8 1379.6h7.9v23.6h-7.9z"/>
<path d="M1274.7 1330.6V1403.2M1282.6 1330.6V1403.2M1290.5 1330.6V1403.2M1298.4 1330.6V1403.2M1306.3 1330.6V1403.2M1314.2 1330.6V1403.2M1322.1 1330.6V1403.2M1329.9 1330.6V1403.2M1337.8 1330.6V1403.2M1345.7 1330.6V1403.2M1353.6 1330.6V1403.2M1361.5 1330.6V1403.2M1369.4 1330.6V1403.2M1377.3 1330.6V1403.2M1385.2 1330.6V1403.2M1393.1 1330.6V1403.2M1401 1330.6V1403.2M1408.9 1330.6V1403.2M1416.8 1330.6V1403.2M1424.6 1330.6V1403.2M1432.5 1330.6V1403.2M1440.4 1330.6V1403.2M1448.3 1330.6V1403.2M1456.2 1330.6V1403.2M1464.1 1330.6V1403.2M1472 1330.6V1403.2M1479.9 1330.6V1403.2M1487.8 1330.6V1403.2M1495.7 1330.6V1403.2M1503.6 1330.6V1403.2M1511.5 1330.6V1403.2M1519.3 1330.6V1403.2M1527.2 1330.6V1403.2M1535.1 1330.6V1403.2M1543 1330.6V1403.2M1550.9 1330.6V1403.2M1558.8 1330.6V1403.2M1566.7 1330.6V1403.2M1574.6 1330.6V1403.2M1582.5 1330.6V1403.2M1590.4 1330.6V1403.2M1598.3 1330.6V1403.2M1606.2 1330.6V1403.2M1614.1 1330.6V1403.2M1621.9 1330.6V1403.2M1629.8 1330.6V1403.2M1637.7 1330.6V1403.2M1645.6 1330.6V1403.2M1653.5 1330.6V1403.2M1661.4 1330.6V1403.2M1669.3 1330.6V1403.2M1677.2 1330.6V1403.2M1685.1 1330.6V1403.2M1693 1330.6V1403.2M1700.9 1330.6V1403.2M1708.8 1330.6V1403.2M1716.6 1330.6V1403.2M1724.5 1330.6V1403.2M1732.4 1330.6V1403.2M1740.3 1330.6V1403.2M1748.2 1330.6V1403.2M1756.1 1330.6V1403.2M1764 1330.6V1403.2M1771.9 1330.6V1403.2M1779.8 1330.6V1403.2M1787.7 1330.6V1403.2M1795.6 1330.6V1403.2M1803.5 1330.6V1403.2M1811.3 1330.6V1403.2M1819.2 1330.6V1403.2M1827.1 1330.6V1403.2M1835 1330.6V1403.2M1842.9 1330.6V1403.2M1850.8 1330.6V1403.2M1858.7 1330.6V1403.2M1274.7 1330.6H1858.7M1274.7 1355.3H1858.7M1274.7 1379.6H1858.7M1274.7 1403.2H1858.7" stroke="#BDBDBD" stroke-width="0.8" fill="none"/>
<text x="1865.5" y="1296.6" font-size="15.3" textLength="81.8" lengthAdjust="spacingAndGlyphs">Treatment</text>
<text x="1865.5" y="1310.7" font-size="15.3" textLength="55.4" lengthAdjust="spacingAndGlyphs">Patient</text>
<text x="1865.5" y="1324.6" font-size="15.3" textLength="49.1" lengthAdjust="spacingAndGlyphs">Organ</text>
<text x="1865.5" y="1347.3" font-size="15.3" textLength="49.9" lengthAdjust="spacingAndGlyphs">SBS87</text>
<text x="1865.5" y="1371.8" font-size="15.3" textLength="50" lengthAdjust="spacingAndGlyphs">SBS7a</text>
<text x="1865.5" y="1395.9" font-size="15.3" textLength="50" lengthAdjust="spacingAndGlyphs">SBS7b</text>
<path d="M1274.7 1342.7H1197.7V1379.3H1254.1M1274.7 1366.7H1254.1V1390.7H1274.7" stroke="#000" stroke-width="1.15" fill="none"/>
<text x="1197.7" y="1427.1" font-size="20" textLength="123.8" lengthAdjust="spacingAndGlyphs">Intermediate</text>
<path d="M1281.13 1494.4L1296.85 1494.4M1312.57 1494.4V1492.86H1320.43V1494.4M1304.71 1494.4V1489.31H1316.5V1492.86M1336.15 1494.4V1494.01H1344.01V1494.4M1359.72 1494.4V1494.7H1367.58V1494.4M1363.65 1494.7V1494.44H1375.44V1494.4M1351.86 1494.4V1494.24H1369.55V1494.44M1360.71 1494.24V1491.66H1383.3V1494.4M1340.08 1494.01V1491.05H1372V1491.66M1356.04 1491.05V1490.2H1391.16V1494.4M1328.29 1494.4V1485.75H1373.6V1490.2M1310.6 1489.31V1484.87H1350.94V1485.75M1399.02 1494.4V1494.07H1406.88V1494.4M1422.6 1494.4V1494.29H1430.46V1494.4M1414.74 1494.4V1493.93H1426.53V1494.29M1402.95 1494.07V1493.2H1420.64V1493.93M1411.79 1493.2V1492.09H1438.32V1494.4M1425.06 1492.09V1491.62H1446.18V1494.4M1477.62 1494.4V1494.59H1485.48V1494.4M1481.55 1494.59V1494.32H1493.34V1494.4M1509.05 1494.4V1494.41H1516.91V1494.4M1501.19 1494.4V1494.21H1512.98V1494.41M1487.44 1494.32V1493.84H1507.09V1494.21M1524.77 1494.4V1494.71H1532.63V1494.4M1528.7 1494.71V1494.39H1540.49V1494.4M1534.6 1494.39V1494.05H1548.35V1494.4M1497.26 1493.84V1493.72H1541.47V1494.05M1469.76 1494.4V1493.57H1519.37V1493.72M1461.9 1494.4V1493.13H1494.56V1493.57M1478.23 1493.13V1492.32H1556.21V1494.4M1517.22 1492.32V1491.19H1564.07V1494.4M1454.04 1494.4V1489.84H1540.65V1491.19M1435.62 1491.62V1485.75H1497.34V1489.84M1571.93 1494.4V1491.79H1579.79V1494.4M1587.65 1494.4V1494.33H1595.51V1494.4M1603.37 1494.4V1493.75H1611.23V1494.4M1591.58 1494.33V1492.68H1607.3V1493.75M1575.86 1491.79V1489.84H1599.44V1492.68M1619.09 1494.4V1493.35H1626.95V1494.4M1642.66 1494.4V1494.35H1650.52V1494.4M1634.81 1494.4V1494.15H1646.59V1494.35M1640.7 1494.15V1492.49H1658.38V1494.4M1674.1 1494.4V1494.03H1681.96V1494.4M1666.24 1494.4V1492.52H1678.03V1494.03M1649.54 1492.49V1489.94H1672.14V1492.52M1623.02 1493.35V1487.53H1660.84V1489.94M1587.65 1489.84V1483.09H1641.93V1487.53M1466.48 1485.75V1479.18H1614.79V1483.09M1705.54 1494.4V1494.17H1713.4V1494.4M1709.47 1494.17V1493.57H1721.26V1494.4M1697.68 1494.4V1489.66H1715.36V1493.57M1689.82 1494.4V1487.53H1706.52V1489.66M1729.12 1494.4V1494.31H1736.98V1494.4M1744.84 1494.4V1493.8H1752.7V1494.4M1748.77 1493.8V1493.41H1760.56V1494.4M1733.05 1494.31V1492.05H1754.66V1493.41M1768.42 1494.4V1493.15H1776.28V1494.4M1743.86 1492.05V1491.26H1772.35V1493.15M1784.14 1494.4V1493.69H1791.99V1494.4M1799.85 1494.4V1492.76H1807.71V1494.4M1788.06 1493.69V1490.2H1803.78V1492.76M1815.57 1494.4V1494.13H1823.43V1494.4M1819.5 1494.13V1490.83H1831.29V1494.4M1839.15 1494.4V1493.99H1847.01V1494.4M1843.08 1493.99V1492.26H1854.87V1494.4M1825.4 1490.83V1488.42H1848.98V1492.26M1795.92 1490.2V1486.64H1837.19V1488.42M1758.1 1491.26V1481.49H1816.56V1486.64M1698.17 1487.53V1474.2H1787.33V1481.49M1540.63 1479.18V1472.43H1742.75V1474.2M1330.77 1484.87V1462.47H1641.69V1472.43M1287.2 1494.4V1432.44H1486.23V1462.47" stroke="#000" stroke-width="1.15" fill="none" stroke-linejoin="miter"/>
<path fill="#DCDCDC" d="M1276.9 1495.2h582.2v12.4h-582.2zM1276.9 1509.4h582.2v12.4h-582.2zM1276.9 1523.6h582.2v12.4h-582.2z"/>
<path fill="#8FBC8F" d="M1277.9 1495.8h6.5v11.2h-6.5zM1285.8 1495.8h6.5v11.2h-6.5zM1293.6 1495.8h6.5v11.2h-6.5zM1450.8 1495.8h6.5v11.2h-6.5zM1458.7 1495.8h6.5v11.2h-6.5zM1505.8 1495.8h6.5v11.2h-6.5zM1600.1 1495.8h6.5v11.2h-6.5zM1725.9 1495.8h6.5v11.2h-6.5zM1733.7 1495.8h6.5v11.2h-6.5zM1741.6 1495.8h6.5v11.2h-6.5zM1749.5 1495.8h6.5v11.2h-6.5zM1757.3 1495.8h6.5v11.2h-6.5zM1765.2 1495.8h6.5v11.2h-6.5zM1773 1495.8h6.5v11.2h-6.5z"/>
<path fill="#483D8B" d="M1301.5 1495.8h6.5v11.2h-6.5zM1309.3 1495.8h6.5v11.2h-6.5zM1317.2 1495.8h6.5v11.2h-6.5zM1364.4 1495.8h6.5v11.2h-6.5zM1395.8 1495.8h6.5v11.2h-6.5zM1403.7 1495.8h6.5v11.2h-6.5zM1411.5 1495.8h6.5v11.2h-6.5zM1419.4 1495.8h6.5v11.2h-6.5zM1435.1 1495.8h6.5v11.2h-6.5zM1442.9 1495.8h6.5v11.2h-6.5zM1545.1 1495.8h6.5v11.2h-6.5zM1560.8 1495.8h6.5v11.2h-6.5zM1568.7 1495.8h6.5v11.2h-6.5zM1576.6 1495.8h6.5v11.2h-6.5zM1592.3 1495.8h6.5v11.2h-6.5zM1608 1495.8h6.5v11.2h-6.5zM1694.5 1495.8h6.5v11.2h-6.5zM1702.3 1495.8h6.5v11.2h-6.5zM1780.9 1495.8h6.5v11.2h-6.5zM1788.8 1495.8h6.5v11.2h-6.5zM1796.6 1495.8h6.5v11.2h-6.5zM1804.5 1495.8h6.5v11.2h-6.5zM1812.3 1495.8h6.5v11.2h-6.5zM1828.1 1495.8h6.5v11.2h-6.5zM1835.9 1495.8h6.5v11.2h-6.5zM1843.8 1495.8h6.5v11.2h-6.5zM1851.6 1495.8h6.5v11.2h-6.5z"/>
<path fill="#E6E6FA" d="M1325.1 1495.8h6.5v11.2h-6.5zM1332.9 1495.8h6.5v11.2h-6.5zM1340.8 1495.8h6.5v11.2h-6.5zM1348.6 1495.8h6.5v11.2h-6.5zM1356.5 1495.8h6.5v11.2h-6.5zM1372.2 1495.8h6.5v11.2h-6.5zM1380.1 1495.8h6.5v11.2h-6.5zM1387.9 1495.8h6.5v11.2h-6.5zM1427.2 1495.8h6.5v11.2h-6.5zM1466.5 1495.8h6.5v11.2h-6.5zM1474.4 1495.8h6.5v11.2h-6.5zM1482.2 1495.8h6.5v11.2h-6.5zM1490.1 1495.8h6.5v11.2h-6.5zM1498 1495.8h6.5v11.2h-6.5zM1513.7 1495.8h6.5v11.2h-6.5zM1521.5 1495.8h6.5v11.2h-6.5zM1529.4 1495.8h6.5v11.2h-6.5zM1537.3 1495.8h6.5v11.2h-6.5zM1553 1495.8h6.5v11.2h-6.5zM1584.4 1495.8h6.5v11.2h-6.5zM1615.9 1495.8h6.5v11.2h-6.5zM1623.7 1495.8h6.5v11.2h-6.5zM1631.6 1495.8h6.5v11.2h-6.5zM1639.4 1495.8h6.5v11.2h-6.5zM1647.3 1495.8h6.5v11.2h-6.5zM1655.2 1495.8h6.5v11.2h-6.5zM1663 1495.8h6.5v11.2h-6.5zM1670.9 1495.8h6.5v11.2h-6.5zM1678.7 1495.8h6.5v11.2h-6.5zM1686.6 1495.8h6.5v11.2h-6.5zM1710.2 1495.8h6.5v11.2h-6.5zM1718 1495.8h6.5v11.2h-6.5zM1820.2 1495.8h6.5v11.2h-6.5z"/>
<path fill="#0F0" d="M1277.9 1510h6.5v11.2h-6.5zM1293.6 1510h6.5v11.2h-6.5z"/>
<path fill="#F00" d="M1285.8 1510h6.5v11.2h-6.5zM1725.9 1510h6.5v11.2h-6.5zM1733.7 1510h6.5v11.2h-6.5zM1741.6 1510h6.5v11.2h-6.5zM1749.5 1510h6.5v11.2h-6.5zM1757.3 1510h6.5v11.2h-6.5zM1765.2 1510h6.5v11.2h-6.5zM1773 1510h6.5v11.2h-6.5zM1356.5 1524.2h6.5v11.2h-6.5z"/>
<path fill="#4169E1" d="M1301.5 1510h6.5v11.2h-6.5zM1309.3 1510h6.5v11.2h-6.5zM1317.2 1510h6.5v11.2h-6.5zM1364.4 1510h6.5v11.2h-6.5zM1568.7 1510h6.5v11.2h-6.5zM1576.6 1510h6.5v11.2h-6.5zM1592.3 1510h6.5v11.2h-6.5zM1796.6 1510h6.5v11.2h-6.5z"/>
<path fill="#87CEEB" d="M1325.1 1510h6.5v11.2h-6.5zM1332.9 1510h6.5v11.2h-6.5zM1340.8 1510h6.5v11.2h-6.5zM1348.6 1510h6.5v11.2h-6.5zM1356.5 1510h6.5v11.2h-6.5zM1372.2 1510h6.5v11.2h-6.5zM1380.1 1510h6.5v11.2h-6.5zM1387.9 1510h6.5v11.2h-6.5zM1615.9 1510h6.5v11.2h-6.5zM1623.7 1510h6.5v11.2h-6.5zM1631.6 1510h6.5v11.2h-6.5z"/>
<path fill="#FFA54F" d="M1395.8 1510h6.5v11.2h-6.5zM1403.7 1510h6.5v11.2h-6.5zM1411.5 1510h6.5v11.2h-6.5zM1419.4 1510h6.5v11.2h-6.5zM1435.1 1510h6.5v11.2h-6.5zM1442.9 1510h6.5v11.2h-6.5zM1545.1 1510h6.5v11.2h-6.5zM1560.8 1510h6.5v11.2h-6.5z"/>
<path fill="#F08080" d="M1427.2 1510h6.5v11.2h-6.5zM1466.5 1510h6.5v11.2h-6.5zM1474.4 1510h6.5v11.2h-6.5zM1482.2 1510h6.5v11.2h-6.5zM1490.1 1510h6.5v11.2h-6.5zM1498 1510h6.5v11.2h-6.5zM1513.7 1510h6.5v11.2h-6.5zM1521.5 1510h6.5v11.2h-6.5zM1529.4 1510h6.5v11.2h-6.5zM1537.3 1510h6.5v11.2h-6.5zM1584.4 1510h6.5v11.2h-6.5z"/>
<path fill="#CDC673" d="M1450.8 1510h6.5v11.2h-6.5zM1458.7 1510h6.5v11.2h-6.5zM1505.8 1510h6.5v11.2h-6.5zM1600.1 1510h6.5v11.2h-6.5z"/>
<path fill="#3CB371" d="M1553 1510h6.5v11.2h-6.5zM1639.4 1510h6.5v11.2h-6.5zM1647.3 1510h6.5v11.2h-6.5zM1655.2 1510h6.5v11.2h-6.5zM1663 1510h6.5v11.2h-6.5zM1670.9 1510h6.5v11.2h-6.5zM1678.7 1510h6.5v11.2h-6.5zM1285.8 1524.2h6.5v11.2h-6.5zM1332.9 1524.2h6.5v11.2h-6.5zM1380.1 1524.2h6.5v11.2h-6.5zM1403.7 1524.2h6.5v11.2h-6.5zM1545.1 1524.2h6.5v11.2h-6.5zM1560.8 1524.2h6.5v11.2h-6.5zM1670.9 1524.2h6.5v11.2h-6.5zM1702.3 1524.2h6.5v11.2h-6.5zM1851.6 1524.2h6.5v11.2h-6.5z"/>
<path fill="#AB82FF" d="M1608 1510h6.5v11.2h-6.5zM1694.5 1510h6.5v11.2h-6.5zM1702.3 1510h6.5v11.2h-6.5zM1780.9 1510h6.5v11.2h-6.5zM1788.8 1510h6.5v11.2h-6.5zM1804.5 1510h6.5v11.2h-6.5zM1812.3 1510h6.5v11.2h-6.5zM1828.1 1510h6.5v11.2h-6.5zM1835.9 1510h6.5v11.2h-6.5zM1843.8 1510h6.5v11.2h-6.5zM1851.6 1510h6.5v11.2h-6.5zM1364.4 1524.2h6.5v11.2h-6.5zM1395.8 1524.2h6.5v11.2h-6.5zM1458.7 1524.2h6.5v11.2h-6.5zM1725.9 1524.2h6.5v11.2h-6.5zM1733.7 1524.2h6.5v11.2h-6.5zM1741.6 1524.2h6.5v11.2h-6.5zM1749.5 1524.2h6.5v11.2h-6.5zM1757.3 1524.2h6.5v11.2h-6.5zM1765.2 1524.2h6.5v11.2h-6.5zM1773 1524.2h6.5v11.2h-6.5zM1788.8 1524.2h6.5v11.2h-6.5z"/>
<path fill="#6495ED" d="M1686.6 1510h6.5v11.2h-6.5zM1710.2 1510h6.5v11.2h-6.5zM1718 1510h6.5v11.2h-6.5zM1820.2 1510h6.5v11.2h-6.5zM1655.2 1524.2h6.5v11.2h-6.5z"/>
<path fill="#006400" d="M1277.9 1524.2h6.5v11.2h-6.5zM1450.8 1524.2h6.5v11.2h-6.5zM1608 1524.2h6.5v11.2h-6.5zM1820.2 1524.2h6.5v11.2h-6.5z"/>
<path fill="#FFD700" d="M1293.6 1524.2h6.5v11.2h-6.5zM1411.5 1524.2h6.5v11.2h-6.5zM1419.4 1524.2h6.5v11.2h-6.5zM1435.1 1524.2h6.5v11.2h-6.5zM1442.9 1524.2h6.5v11.2h-6.5zM1505.8 1524.2h6.5v11.2h-6.5zM1639.4 1524.2h6.5v11.2h-6.5zM1647.3 1524.2h6.5v11.2h-6.5zM1710.2 1524.2h6.5v11.2h-6.5zM1780.9 1524.2h6.5v11.2h-6.5zM1828.1 1524.2h6.5v11.2h-6.5z"/>
<path fill="#BFEFFF" d="M1301.5 1524.2h6.5v11.2h-6.5zM1568.7 1524.2h6.5v11.2h-6.5zM1576.6 1524.2h6.5v11.2h-6.5zM1592.3 1524.2h6.5v11.2h-6.5z"/>
<path fill="#FF4500" d="M1309.3 1524.2h6.5v11.2h-6.5zM1427.2 1524.2h6.5v11.2h-6.5zM1466.5 1524.2h6.5v11.2h-6.5zM1474.4 1524.2h6.5v11.2h-6.5zM1513.7 1524.2h6.5v11.2h-6.5zM1521.5 1524.2h6.5v11.2h-6.5zM1529.4 1524.2h6.5v11.2h-6.5zM1537.3 1524.2h6.5v11.2h-6.5zM1584.4 1524.2h6.5v11.2h-6.5zM1600.1 1524.2h6.5v11.2h-6.5zM1663 1524.2h6.5v11.2h-6.5zM1678.7 1524.2h6.5v11.2h-6.5zM1686.6 1524.2h6.5v11.2h-6.5zM1796.6 1524.2h6.5v11.2h-6.5zM1812.3 1524.2h6.5v11.2h-6.5zM1843.8 1524.2h6.5v11.2h-6.5z"/>
<path fill="#EEE685" d="M1317.2 1524.2h6.5v11.2h-6.5z"/>
<path fill="#8B8B83" d="M1325.1 1524.2h6.5v11.2h-6.5z"/>
<path fill="#00F" d="M1340.8 1524.2h6.5v11.2h-6.5zM1615.9 1524.2h6.5v11.2h-6.5zM1835.9 1524.2h6.5v11.2h-6.5z"/>
<path fill="#FF8C00" d="M1348.6 1524.2h6.5v11.2h-6.5zM1372.2 1524.2h6.5v11.2h-6.5zM1482.2 1524.2h6.5v11.2h-6.5zM1490.1 1524.2h6.5v11.2h-6.5zM1498 1524.2h6.5v11.2h-6.5zM1553 1524.2h6.5v11.2h-6.5zM1623.7 1524.2h6.5v11.2h-6.5zM1631.6 1524.2h6.5v11.2h-6.5zM1694.5 1524.2h6.5v11.2h-6.5z"/>
<path fill="#8B0000" d="M1387.9 1524.2h6.5v11.2h-6.5zM1718 1524.2h6.5v11.2h-6.5zM1804.5 1524.2h6.5v11.2h-6.5z"/>
<path fill="#DE7070" d="M1300.8 1539.2h7.9v27.3h-7.9zM1505.1 1566.5h7.9v27.9h-7.9zM1536.6 1566.5h7.9v27.9h-7.9z"/>
<path fill="#D95959" d="M1308.6 1539.2h7.9v27.3h-7.9zM1371.5 1539.2h7.9v27.3h-7.9zM1379.4 1539.2h7.9v27.3h-7.9z"/>
<path fill="#D85454" d="M1316.5 1539.2h7.9v27.3h-7.9z"/>
<path fill="#D85757" d="M1324.4 1539.2h7.9v27.3h-7.9zM1599.4 1539.2h7.9v27.3h-7.9z"/>
<path fill="#D75353" d="M1332.2 1539.2h7.9v27.3h-7.9zM1615.2 1539.2h7.9v27.3h-7.9zM1811.6 1539.2h7.9v27.3h-7.9z"/>
<path fill="#D75252" d="M1340.1 1539.2h7.9v27.3h-7.9z"/>
<path fill="#DA5C5C" d="M1347.9 1539.2h7.9v27.3h-7.9z"/>
<path fill="#DA5D5D" d="M1355.8 1539.2h7.9v27.3h-7.9z"/>
<path fill="#D64F4F" d="M1363.7 1539.2h7.9v27.3h-7.9zM1670.2 1539.2h7.9v27.3h-7.9z"/>
<path fill="#D64C4C" d="M1387.2 1539.2h7.9v27.3h-7.9zM1575.9 1539.2h7.9v27.3h-7.9zM1630.9 1539.2h7.9v27.3h-7.9zM1693.8 1539.2h7.9v27.3h-7.9zM1780.2 1539.2h7.9v27.3h-7.9zM1803.8 1539.2h7.9v27.3h-7.9zM1308.6 1566.5h7.9v27.9h-7.9zM1332.2 1566.5h7.9v27.9h-7.9zM1615.2 1566.5h7.9v27.9h-7.9z"/>
<path fill="#CE2C2C" d="M1395.1 1539.2h7.9v27.3h-7.9zM1410.8 1539.2h7.9v27.3h-7.9zM1520.8 1539.2h7.9v27.3h-7.9z"/>
<path fill="#CD2626" d="M1403 1539.2h7.9v27.3h-7.9zM1442.2 1539.2h7.9v27.3h-7.9zM1513 1539.2h7.9v27.3h-7.9zM1536.6 1539.2h7.9v27.3h-7.9zM1552.3 1539.2h7.9v27.3h-7.9z"/>
<path fill="#CE2929" d="M1418.7 1539.2h7.9v27.3h-7.9zM1434.4 1539.2h7.9v27.3h-7.9z"/>
<path fill="#D03232" d="M1426.5 1539.2h7.9v27.3h-7.9z"/>
<path fill="#CE2B2B" d="M1450.1 1539.2h7.9v27.3h-7.9z"/>
<path fill="#CD2727" d="M1458 1539.2h7.9v27.3h-7.9zM1481.5 1539.2h7.9v27.3h-7.9zM1528.7 1539.2h7.9v27.3h-7.9z"/>
<path fill="#CE2828" d="M1465.8 1539.2h7.9v27.3h-7.9z"/>
<path fill="#D03333" d="M1473.7 1539.2h7.9v27.3h-7.9zM1685.9 1539.2h7.9v27.3h-7.9z"/>
<path fill="#CE2A2A" d="M1489.4 1539.2h7.9v27.3h-7.9z"/>
<path fill="#CF2F2F" d="M1497.3 1539.2h7.9v27.3h-7.9zM1324.4 1566.5h7.9v27.9h-7.9z"/>
<path fill="#D03434" d="M1505.1 1539.2h7.9v27.3h-7.9z"/>
<path fill="#CD2828" d="M1544.4 1539.2h7.9v27.3h-7.9z"/>
<path fill="#CF2D2D" d="M1560.1 1539.2h7.9v27.3h-7.9z"/>
<path fill="#D34040" d="M1568 1539.2h7.9v27.3h-7.9z"/>
<path fill="#D23C3C" d="M1583.7 1539.2h7.9v27.3h-7.9z"/>
<path fill="#D23E3E" d="M1591.6 1539.2h7.9v27.3h-7.9z"/>
<path fill="#D85656" d="M1607.3 1539.2h7.9v27.3h-7.9zM1843.1 1539.2h7.9v27.3h-7.9zM1630.9 1566.5h7.9v27.9h-7.9z"/>
<path fill="#D23B3B" d="M1623 1539.2h7.9v27.3h-7.9z"/>
<path fill="#D44646" d="M1638.7 1539.2h7.9v27.3h-7.9z"/>
<path fill="#D75050" d="M1646.6 1539.2h7.9v27.3h-7.9z"/>
<path fill="#D54A4A" d="M1654.5 1539.2h7.9v27.3h-7.9z"/>
<path fill="#D64E4E" d="M1662.3 1539.2h7.9v27.3h-7.9z"/>
<path fill="#D54747" d="M1678 1539.2h7.9v27.3h-7.9z"/>
<path fill="#D44444" d="M1701.6 1539.2h7.9v27.3h-7.9zM1788.1 1539.2h7.9v27.3h-7.9zM1300.8 1566.5h7.9v27.9h-7.9zM1347.9 1566.5h7.9v27.9h-7.9zM1363.7 1566.5h7.9v27.9h-7.9zM1379.4 1566.5h7.9v27.9h-7.9z"/>
<path fill="#D34141" d="M1709.5 1539.2h7.9v27.3h-7.9zM1355.8 1566.5h7.9v27.9h-7.9zM1371.5 1566.5h7.9v27.9h-7.9zM1387.2 1566.5h7.9v27.9h-7.9z"/>
<path fill="#D23A3A" d="M1717.3 1539.2h7.9v27.3h-7.9z"/>
<path fill="#DD6D6D" d="M1725.2 1539.2h7.9v27.3h-7.9zM1410.8 1566.5h7.9v27.9h-7.9z"/>
<path fill="#DD6969" d="M1733 1539.2h7.9v27.3h-7.9z"/>
<path fill="#DD6C6C" d="M1740.9 1539.2h7.9v27.3h-7.9zM1772.3 1539.2h7.9v27.3h-7.9zM1489.4 1566.5h7.9v27.9h-7.9zM1646.6 1566.5h7.9v27.9h-7.9z"/>
<path fill="#DC6969" d="M1748.8 1539.2h7.9v27.3h-7.9z"/>
<path fill="#DD6A6A" d="M1756.6 1539.2h7.9v27.3h-7.9zM1575.9 1566.5h7.9v27.9h-7.9z"/>
<path fill="#DC6868" d="M1764.5 1539.2h7.9v27.3h-7.9z"/>
<path fill="#D54848" d="M1795.9 1539.2h7.9v27.3h-7.9zM1316.5 1566.5h7.9v27.9h-7.9zM1340.1 1566.5h7.9v27.9h-7.9z"/>
<path fill="#D95A5A" d="M1819.5 1539.2h7.9v27.3h-7.9zM1835.2 1539.2h7.9v27.3h-7.9zM1623 1566.5h7.9v27.9h-7.9z"/>
<path fill="#DA5E5E" d="M1827.4 1539.2h7.9v27.3h-7.9zM1850.9 1539.2h7.9v27.3h-7.9zM1638.7 1566.5h7.9v27.9h-7.9z"/>
<path fill="#E17B7B" d="M1395.1 1566.5h7.9v27.9h-7.9zM1520.8 1566.5h7.9v27.9h-7.9z"/>
<path fill="#DE6E6E" d="M1403 1566.5h7.9v27.9h-7.9zM1418.7 1566.5h7.9v27.9h-7.9zM1544.4 1566.5h7.9v27.9h-7.9zM1607.3 1566.5h7.9v27.9h-7.9z"/>
<path fill="#DF7474" d="M1426.5 1566.5h7.9v27.9h-7.9zM1458 1566.5h7.9v27.9h-7.9z"/>
<path fill="#DE7171" d="M1434.4 1566.5h7.9v27.9h-7.9zM1583.7 1566.5h7.9v27.9h-7.9zM1654.5 1566.5h7.9v27.9h-7.9z"/>
<path fill="#E07A7A" d="M1442.2 1566.5h7.9v27.9h-7.9z"/>
<path fill="#DE6F6F" d="M1450.1 1566.5h7.9v27.9h-7.9zM1481.5 1566.5h7.9v27.9h-7.9zM1678 1566.5h7.9v27.9h-7.9z"/>
<path fill="#E07979" d="M1465.8 1566.5h7.9v27.9h-7.9zM1528.7 1566.5h7.9v27.9h-7.9zM1756.6 1566.5h7.9v27.9h-7.9z"/>
<path fill="#E17D7D" d="M1473.7 1566.5h7.9v27.9h-7.9zM1552.3 1566.5h7.9v27.9h-7.9z"/>
<path fill="#E17C7C" d="M1497.3 1566.5h7.9v27.9h-7.9zM1733 1566.5h7.9v27.9h-7.9z"/>
<path fill="#E07777" d="M1513 1566.5h7.9v27.9h-7.9zM1772.3 1566.5h7.9v27.9h-7.9z"/>
<path fill="#DF7373" d="M1560.1 1566.5h7.9v27.9h-7.9z"/>
<path fill="#DF7676" d="M1568 1566.5h7.9v27.9h-7.9z"/>
<path fill="#DC6767" d="M1591.6 1566.5h7.9v27.9h-7.9z"/>
<path fill="#DC6565" d="M1599.4 1566.5h7.9v27.9h-7.9z"/>
<path fill="#DC6666" d="M1662.3 1566.5h7.9v27.9h-7.9z"/>
<path fill="#DF7272" d="M1670.2 1566.5h7.9v27.9h-7.9z"/>
<path fill="#EBA9A9" d="M1685.9 1566.5h7.9v27.9h-7.9z"/>
<path fill="#EDB0B0" d="M1693.8 1566.5h7.9v27.9h-7.9z"/>
<path fill="#EAA5A5" d="M1701.6 1566.5h7.9v27.9h-7.9zM1717.3 1566.5h7.9v27.9h-7.9z"/>
<path fill="#EAA2A2" d="M1709.5 1566.5h7.9v27.9h-7.9z"/>
<path fill="#E27F7F" d="M1725.2 1566.5h7.9v27.9h-7.9z"/>
<path fill="#E28383" d="M1740.9 1566.5h7.9v27.9h-7.9z"/>
<path fill="#E38484" d="M1748.8 1566.5h7.9v27.9h-7.9z"/>
<path fill="#E28181" d="M1764.5 1566.5h7.9v27.9h-7.9zM1811.6 1566.5h7.9v27.9h-7.9z"/>
<path fill="#E48989" d="M1780.2 1566.5h7.9v27.9h-7.9zM1803.8 1566.5h7.9v27.9h-7.9zM1827.4 1566.5h7.9v27.9h-7.9z"/>
<path fill="#E58C8C" d="M1788.1 1566.5h7.9v27.9h-7.9zM1843.1 1566.5h7.9v27.9h-7.9z"/>
<path fill="#E38585" d="M1795.9 1566.5h7.9v27.9h-7.9zM1819.5 1566.5h7.9v27.9h-7.9z"/>
<path fill="#E79797" d="M1835.2 1566.5h7.9v27.9h-7.9z"/>
<path fill="#E69393" d="M1850.9 1566.5h7.9v27.9h-7.9z"/>
<path d="M1277.2 1539.2V1594.4M1285.1 1539.2V1594.4M1292.9 1539.2V1594.4M1300.8 1539.2V1594.4M1308.6 1539.2V1594.4M1316.5 1539.2V1594.4M1324.4 1539.2V1594.4M1332.2 1539.2V1594.4M1340.1 1539.2V1594.4M1347.9 1539.2V1594.4M1355.8 1539.2V1594.4M1363.7 1539.2V1594.4M1371.5 1539.2V1594.4M1379.4 1539.2V1594.4M1387.2 1539.2V1594.4M1395.1 1539.2V1594.4M1403 1539.2V1594.4M1410.8 1539.2V1594.4M1418.7 1539.2V1594.4M1426.5 1539.2V1594.4M1434.4 1539.2V1594.4M1442.2 1539.2V1594.4M1450.1 1539.2V1594.4M1458 1539.2V1594.4M1465.8 1539.2V1594.4M1473.7 1539.2V1594.4M1481.5 1539.2V1594.4M1489.4 1539.2V1594.4M1497.3 1539.2V1594.4M1505.1 1539.2V1594.4M1513 1539.2V1594.4M1520.8 1539.2V1594.4M1528.7 1539.2V1594.4M1536.6 1539.2V1594.4M1544.4 1539.2V1594.4M1552.3 1539.2V1594.4M1560.1 1539.2V1594.4M1568 1539.2V1594.4M1575.9 1539.2V1594.4M1583.7 1539.2V1594.4M1591.6 1539.2V1594.4M1599.4 1539.2V1594.4M1607.3 1539.2V1594.4M1615.2 1539.2V1594.4M1623 1539.2V1594.4M1630.9 1539.2V1594.4M1638.7 1539.2V1594.4M1646.6 1539.2V1594.4M1654.5 1539.2V1594.4M1662.3 1539.2V1594.4M1670.2 1539.2V1594.4M1678 1539.2V1594.4M1685.9 1539.2V1594.4M1693.8 1539.2V1594.4M1701.6 1539.2V1594.4M1709.5 1539.2V1594.4M1717.3 1539.2V1594.4M1725.2 1539.2V1594.4M1733 1539.2V1594.4M1740.9 1539.2V1594.4M1748.8 1539.2V1594.4M1756.6 1539.2V1594.4M1764.5 1539.2V1594.4M1772.3 1539.2V1594.4M1780.2 1539.2V1594.4M1788.1 1539.2V1594.4M1795.9 1539.2V1594.4M1803.8 1539.2V1594.4M1811.6 1539.2V1594.4M1819.5 1539.2V1594.4M1827.4 1539.2V1594.4M1835.2 1539.2V1594.4M1843.1 1539.2V1594.4M1850.9 1539.2V1594.4M1858.8 1539.2V1594.4M1277.2 1539.2H1858.8M1277.2 1566.5H1858.8M1277.2 1594.4H1858.8" stroke="#BDBDBD" stroke-width="0.8" fill="none"/>
<text x="1865.5" y="1505.5" font-size="15.3" textLength="81.8" lengthAdjust="spacingAndGlyphs">Treatment</text>
<text x="1865.5" y="1519.7" font-size="15.3" textLength="55.4" lengthAdjust="spacingAndGlyphs">Patient</text>
<text x="1865.5" y="1533.9" font-size="15.3" textLength="49.1" lengthAdjust="spacingAndGlyphs">Organ</text>
<text x="1865.5" y="1557.3" font-size="15.3" textLength="50" lengthAdjust="spacingAndGlyphs">SBS7a</text>
<text x="1865.5" y="1584.8" font-size="15.3" textLength="50" lengthAdjust="spacingAndGlyphs">SBS7b</text>
<path d="M1277 1553.4H1199.3V1580.2H1277" stroke="#000" stroke-width="1.15" fill="none"/>
<text x="1197.7" y="1635.7" font-size="20" textLength="40.7" lengthAdjust="spacingAndGlyphs">Late</text>
<path d="M1289 1682.8V1667.53H1296.87V1682.8M1281.13 1682.8V1664.33H1292.94V1667.53M1304.74 1682.8V1665.75H1312.6V1682.8M1320.47 1682.8V1663.09H1328.34V1682.8M1308.67 1665.75V1660.42H1324.41V1663.09M1359.81 1682.8V1671.09H1367.68V1682.8M1351.94 1682.8V1666.64H1363.74V1671.09M1344.07 1682.8V1661.84H1357.84V1666.64M1336.21 1682.8V1653.31H1350.96V1661.84M1316.54 1660.42V1647.98H1343.58V1653.31M1287.03 1664.33V1646.74H1330.06V1647.98M1383.41 1682.8V1679.62H1391.28V1682.8M1375.54 1682.8V1671.62H1387.35V1679.62M1399.15 1682.8V1676.95H1407.01V1682.8M1414.88 1682.8V1676.95H1422.75V1682.8M1438.49 1682.8V1674.64H1446.35V1682.8M1430.62 1682.8V1671.62H1442.42V1674.64M1418.82 1676.95V1669.84H1436.52V1671.62M1403.08 1676.95V1665.4H1427.67V1669.84M1381.45 1671.62V1656.51H1415.37V1665.4M1454.22 1682.8V1669.84H1462.09V1682.8M1469.96 1682.8V1661.84H1477.82V1682.8M1485.69 1682.8V1669.84H1493.56V1682.8M1501.43 1682.8V1673.75H1509.29V1682.8M1525.03 1682.8V1675.53H1532.9V1682.8M1517.16 1682.8V1665.75H1528.96V1675.53M1505.36 1673.75V1662.73H1523.06V1665.75M1489.62 1669.84V1659.53H1514.21V1662.73M1473.89 1661.84V1657.4H1501.92V1659.53M1458.15 1669.84V1655.62H1487.9V1657.4M1548.63 1682.8V1669.84H1556.5V1682.8M1540.76 1682.8V1666.29H1552.56V1669.84M1564.37 1682.8V1671.09H1572.23V1682.8M1587.97 1682.8V1671.97H1595.84V1682.8M1580.1 1682.8V1667.53H1591.9V1671.97M1568.3 1671.09V1658.65H1586V1667.53M1546.66 1666.29V1652.43H1577.15V1658.65M1473.03 1655.62V1650.65H1561.91V1652.43M1398.41 1656.51V1641.41H1517.47V1650.65M1611.57 1682.8V1667.53H1619.44V1682.8M1603.7 1682.8V1661.84H1615.51V1667.53M1635.17 1682.8V1668.42H1643.04V1682.8M1627.31 1682.8V1659.53H1639.11V1668.42M1609.6 1661.84V1650.29H1633.21V1659.53M1650.91 1682.8V1667.18H1658.78V1682.8M1674.51 1682.8V1670.2H1682.38V1682.8M1666.64 1682.8V1668.42H1678.45V1670.2M1690.25 1682.8V1666.64H1698.11V1682.8M1713.85 1682.8V1667.18H1721.72V1682.8M1705.98 1682.8V1658.29H1717.78V1667.18M1694.18 1666.64V1656.87H1711.88V1658.29M1672.55 1668.42V1653.31H1703.03V1656.87M1654.84 1667.18V1652.43H1687.79V1653.31M1737.45 1682.8V1672.51H1745.32V1682.8M1761.06 1682.8V1672.51H1768.92V1682.8M1753.19 1682.8V1662.73H1764.99V1672.51M1741.39 1672.51V1660.42H1759.09V1662.73M1729.59 1682.8V1654.74H1750.24V1660.42M1776.79 1682.8V1671.62H1784.66V1682.8M1808.26 1682.8V1672.86H1816.13V1682.8M1800.39 1682.8V1668.06H1812.19V1672.86M1792.53 1682.8V1667.18H1806.29V1668.06M1780.72 1671.62V1661.84H1799.41V1667.18M1824 1682.8V1669.31H1831.86V1682.8M1847.6 1682.8V1672.51H1855.47V1682.8M1839.73 1682.8V1667.18H1851.53V1672.51M1827.93 1669.31V1658.29H1845.63V1667.18M1790.07 1661.84V1649.4H1836.78V1658.29M1739.91 1654.74V1638.39H1813.42V1649.4M1671.32 1652.43V1632.52H1776.67V1638.39M1621.41 1650.29V1627.19H1723.99V1632.52M1457.94 1641.41V1623.64H1672.7V1627.19M1308.55 1646.74V1620.44H1565.32V1623.64" stroke="#000" stroke-width="1.15" fill="none" stroke-linejoin="miter"/>
<path fill="#DCDCDC" d="M1276.9 1683h582.8v12h-582.8zM1276.9 1697.2h582.8v12.1h-582.8zM1276.9 1711.3h582.8v12.1h-582.8z"/>
<path fill="#483D8B" d="M1277.9 1683.6h6.5v10.8h-6.5zM1285.8 1683.6h6.5v10.8h-6.5zM1293.6 1683.6h6.5v10.8h-6.5zM1317.2 1683.6h6.5v10.8h-6.5zM1325.1 1683.6h6.5v10.8h-6.5zM1333 1683.6h6.5v10.8h-6.5zM1356.6 1683.6h6.5v10.8h-6.5zM1364.4 1683.6h6.5v10.8h-6.5zM1388 1683.6h6.5v10.8h-6.5zM1419.5 1683.6h6.5v10.8h-6.5zM1427.4 1683.6h6.5v10.8h-6.5zM1458.9 1683.6h6.5v10.8h-6.5zM1537.5 1683.6h6.5v10.8h-6.5zM1576.9 1683.6h6.5v10.8h-6.5zM1600.5 1683.6h6.5v10.8h-6.5zM1624.1 1683.6h6.5v10.8h-6.5zM1647.7 1683.6h6.5v10.8h-6.5zM1726.4 1683.6h6.5v10.8h-6.5zM1742.1 1683.6h6.5v10.8h-6.5zM1757.8 1683.6h6.5v10.8h-6.5zM1781.4 1683.6h6.5v10.8h-6.5zM1797.2 1683.6h6.5v10.8h-6.5zM1812.9 1683.6h6.5v10.8h-6.5zM1820.8 1683.6h6.5v10.8h-6.5zM1836.5 1683.6h6.5v10.8h-6.5zM1844.4 1683.6h6.5v10.8h-6.5zM1852.2 1683.6h6.5v10.8h-6.5z"/>
<path fill="#8FBC8F" d="M1301.5 1683.6h6.5v10.8h-6.5zM1309.4 1683.6h6.5v10.8h-6.5zM1340.8 1683.6h6.5v10.8h-6.5zM1380.2 1683.6h6.5v10.8h-6.5zM1395.9 1683.6h6.5v10.8h-6.5zM1403.8 1683.6h6.5v10.8h-6.5zM1435.3 1683.6h6.5v10.8h-6.5zM1498.2 1683.6h6.5v10.8h-6.5zM1608.3 1683.6h6.5v10.8h-6.5zM1616.2 1683.6h6.5v10.8h-6.5zM1734.2 1683.6h6.5v10.8h-6.5zM1750 1683.6h6.5v10.8h-6.5zM1773.6 1683.6h6.5v10.8h-6.5zM1805 1683.6h6.5v10.8h-6.5z"/>
<path fill="#E6E6FA" d="M1348.7 1683.6h6.5v10.8h-6.5zM1372.3 1683.6h6.5v10.8h-6.5zM1411.6 1683.6h6.5v10.8h-6.5zM1443.1 1683.6h6.5v10.8h-6.5zM1451 1683.6h6.5v10.8h-6.5zM1466.7 1683.6h6.5v10.8h-6.5zM1474.6 1683.6h6.5v10.8h-6.5zM1482.5 1683.6h6.5v10.8h-6.5zM1490.3 1683.6h6.5v10.8h-6.5zM1506.1 1683.6h6.5v10.8h-6.5zM1513.9 1683.6h6.5v10.8h-6.5zM1521.8 1683.6h6.5v10.8h-6.5zM1529.7 1683.6h6.5v10.8h-6.5zM1545.4 1683.6h6.5v10.8h-6.5zM1553.3 1683.6h6.5v10.8h-6.5zM1561.1 1683.6h6.5v10.8h-6.5zM1569 1683.6h6.5v10.8h-6.5zM1584.7 1683.6h6.5v10.8h-6.5zM1592.6 1683.6h6.5v10.8h-6.5zM1631.9 1683.6h6.5v10.8h-6.5zM1639.8 1683.6h6.5v10.8h-6.5zM1655.5 1683.6h6.5v10.8h-6.5zM1663.4 1683.6h6.5v10.8h-6.5zM1671.3 1683.6h6.5v10.8h-6.5zM1679.1 1683.6h6.5v10.8h-6.5zM1687 1683.6h6.5v10.8h-6.5zM1694.9 1683.6h6.5v10.8h-6.5zM1702.7 1683.6h6.5v10.8h-6.5zM1710.6 1683.6h6.5v10.8h-6.5zM1718.5 1683.6h6.5v10.8h-6.5zM1765.7 1683.6h6.5v10.8h-6.5zM1789.3 1683.6h6.5v10.8h-6.5zM1828.6 1683.6h6.5v10.8h-6.5z"/>
<path fill="#4169E1" d="M1277.9 1697.8h6.5v10.9h-6.5zM1285.8 1697.8h6.5v10.9h-6.5zM1333 1697.8h6.5v10.9h-6.5zM1356.6 1697.8h6.5v10.9h-6.5zM1364.4 1697.8h6.5v10.9h-6.5zM1647.7 1697.8h6.5v10.9h-6.5zM1726.4 1697.8h6.5v10.9h-6.5zM1797.2 1697.8h6.5v10.9h-6.5z"/>
<path fill="#FFA54F" d="M1293.6 1697.8h6.5v10.9h-6.5zM1388 1697.8h6.5v10.9h-6.5zM1419.5 1697.8h6.5v10.9h-6.5zM1427.4 1697.8h6.5v10.9h-6.5zM1458.9 1697.8h6.5v10.9h-6.5zM1537.5 1697.8h6.5v10.9h-6.5zM1576.9 1697.8h6.5v10.9h-6.5zM1624.1 1697.8h6.5v10.9h-6.5z"/>
<path fill="#F00" d="M1301.5 1697.8h6.5v10.9h-6.5zM1309.4 1697.8h6.5v10.9h-6.5zM1340.8 1697.8h6.5v10.9h-6.5zM1608.3 1697.8h6.5v10.9h-6.5zM1616.2 1697.8h6.5v10.9h-6.5zM1750 1697.8h6.5v10.9h-6.5zM1773.6 1697.8h6.5v10.9h-6.5zM1805 1697.8h6.5v10.9h-6.5zM1789.3 1711.9h6.5v10.9h-6.5z"/>
<path fill="#AB82FF" d="M1317.2 1697.8h6.5v10.9h-6.5zM1325.1 1697.8h6.5v10.9h-6.5zM1600.5 1697.8h6.5v10.9h-6.5zM1742.1 1697.8h6.5v10.9h-6.5zM1757.8 1697.8h6.5v10.9h-6.5zM1781.4 1697.8h6.5v10.9h-6.5zM1812.9 1697.8h6.5v10.9h-6.5zM1820.8 1697.8h6.5v10.9h-6.5zM1836.5 1697.8h6.5v10.9h-6.5zM1844.4 1697.8h6.5v10.9h-6.5zM1852.2 1697.8h6.5v10.9h-6.5zM1293.6 1711.9h6.5v10.9h-6.5zM1301.5 1711.9h6.5v10.9h-6.5zM1309.4 1711.9h6.5v10.9h-6.5zM1340.8 1711.9h6.5v10.9h-6.5zM1498.2 1711.9h6.5v10.9h-6.5zM1608.3 1711.9h6.5v10.9h-6.5zM1647.7 1711.9h6.5v10.9h-6.5zM1750 1711.9h6.5v10.9h-6.5zM1773.6 1711.9h6.5v10.9h-6.5zM1805 1711.9h6.5v10.9h-6.5zM1812.9 1711.9h6.5v10.9h-6.5z"/>
<path fill="#87CEEB" d="M1348.7 1697.8h6.5v10.9h-6.5zM1372.3 1697.8h6.5v10.9h-6.5zM1474.6 1697.8h6.5v10.9h-6.5zM1553.3 1697.8h6.5v10.9h-6.5zM1569 1697.8h6.5v10.9h-6.5zM1631.9 1697.8h6.5v10.9h-6.5zM1639.8 1697.8h6.5v10.9h-6.5zM1655.5 1697.8h6.5v10.9h-6.5zM1663.4 1697.8h6.5v10.9h-6.5zM1718.5 1697.8h6.5v10.9h-6.5zM1789.3 1697.8h6.5v10.9h-6.5z"/>
<path fill="#CDC673" d="M1380.2 1697.8h6.5v10.9h-6.5zM1395.9 1697.8h6.5v10.9h-6.5zM1498.2 1697.8h6.5v10.9h-6.5zM1734.2 1697.8h6.5v10.9h-6.5z"/>
<path fill="#0F0" d="M1403.8 1697.8h6.5v10.9h-6.5zM1435.3 1697.8h6.5v10.9h-6.5z"/>
<path fill="#F08080" d="M1411.6 1697.8h6.5v10.9h-6.5zM1443.1 1697.8h6.5v10.9h-6.5zM1482.5 1697.8h6.5v10.9h-6.5zM1490.3 1697.8h6.5v10.9h-6.5zM1529.7 1697.8h6.5v10.9h-6.5zM1561.1 1697.8h6.5v10.9h-6.5zM1584.7 1697.8h6.5v10.9h-6.5zM1592.6 1697.8h6.5v10.9h-6.5zM1679.1 1697.8h6.5v10.9h-6.5zM1765.7 1697.8h6.5v10.9h-6.5zM1828.6 1697.8h6.5v10.9h-6.5z"/>
<path fill="#3CB371" d="M1451 1697.8h6.5v10.9h-6.5zM1506.1 1697.8h6.5v10.9h-6.5zM1513.9 1697.8h6.5v10.9h-6.5zM1521.8 1697.8h6.5v10.9h-6.5zM1671.3 1697.8h6.5v10.9h-6.5zM1694.9 1697.8h6.5v10.9h-6.5zM1710.6 1697.8h6.5v10.9h-6.5zM1317.2 1711.9h6.5v10.9h-6.5zM1419.5 1711.9h6.5v10.9h-6.5zM1427.4 1711.9h6.5v10.9h-6.5zM1458.9 1711.9h6.5v10.9h-6.5zM1616.2 1711.9h6.5v10.9h-6.5zM1631.9 1711.9h6.5v10.9h-6.5zM1655.5 1711.9h6.5v10.9h-6.5zM1694.9 1711.9h6.5v10.9h-6.5zM1844.4 1711.9h6.5v10.9h-6.5z"/>
<path fill="#6495ED" d="M1466.7 1697.8h6.5v10.9h-6.5zM1545.4 1697.8h6.5v10.9h-6.5zM1687 1697.8h6.5v10.9h-6.5zM1702.7 1697.8h6.5v10.9h-6.5zM1513.9 1711.9h6.5v10.9h-6.5z"/>
<path fill="#BFEFFF" d="M1277.9 1711.9h6.5v10.9h-6.5zM1356.6 1711.9h6.5v10.9h-6.5zM1726.4 1711.9h6.5v10.9h-6.5zM1797.2 1711.9h6.5v10.9h-6.5z"/>
<path fill="#FF4500" d="M1285.8 1711.9h6.5v10.9h-6.5zM1325.1 1711.9h6.5v10.9h-6.5zM1333 1711.9h6.5v10.9h-6.5zM1411.6 1711.9h6.5v10.9h-6.5zM1443.1 1711.9h6.5v10.9h-6.5zM1451 1711.9h6.5v10.9h-6.5zM1521.8 1711.9h6.5v10.9h-6.5zM1529.7 1711.9h6.5v10.9h-6.5zM1561.1 1711.9h6.5v10.9h-6.5zM1584.7 1711.9h6.5v10.9h-6.5zM1592.6 1711.9h6.5v10.9h-6.5zM1679.1 1711.9h6.5v10.9h-6.5zM1702.7 1711.9h6.5v10.9h-6.5zM1734.2 1711.9h6.5v10.9h-6.5zM1742.1 1711.9h6.5v10.9h-6.5zM1828.6 1711.9h6.5v10.9h-6.5z"/>
<path fill="#FF8C00" d="M1348.7 1711.9h6.5v10.9h-6.5zM1372.3 1711.9h6.5v10.9h-6.5zM1482.5 1711.9h6.5v10.9h-6.5zM1490.3 1711.9h6.5v10.9h-6.5zM1569 1711.9h6.5v10.9h-6.5zM1663.4 1711.9h6.5v10.9h-6.5zM1671.3 1711.9h6.5v10.9h-6.5zM1757.8 1711.9h6.5v10.9h-6.5zM1765.7 1711.9h6.5v10.9h-6.5z"/>
<path fill="#EEE685" d="M1364.4 1711.9h6.5v10.9h-6.5z"/>
<path fill="#006400" d="M1380.2 1711.9h6.5v10.9h-6.5zM1435.3 1711.9h6.5v10.9h-6.5zM1687 1711.9h6.5v10.9h-6.5zM1836.5 1711.9h6.5v10.9h-6.5z"/>
<path fill="#FFD700" d="M1388 1711.9h6.5v10.9h-6.5zM1395.9 1711.9h6.5v10.9h-6.5zM1403.8 1711.9h6.5v10.9h-6.5zM1466.7 1711.9h6.5v10.9h-6.5zM1506.1 1711.9h6.5v10.9h-6.5zM1537.5 1711.9h6.5v10.9h-6.5zM1576.9 1711.9h6.5v10.9h-6.5zM1624.1 1711.9h6.5v10.9h-6.5zM1710.6 1711.9h6.5v10.9h-6.5zM1781.4 1711.9h6.5v10.9h-6.5zM1820.8 1711.9h6.5v10.9h-6.5z"/>
<path fill="#00F" d="M1474.6 1711.9h6.5v10.9h-6.5zM1553.3 1711.9h6.5v10.9h-6.5zM1852.2 1711.9h6.5v10.9h-6.5z"/>
<path fill="#8B0000" d="M1545.4 1711.9h6.5v10.9h-6.5zM1600.5 1711.9h6.5v10.9h-6.5zM1718.5 1711.9h6.5v10.9h-6.5z"/>
<path fill="#8B8B83" d="M1639.8 1711.9h6.5v10.9h-6.5z"/>
<path fill="#EFB9B9" d="M1277.2 1726.3h7.9v24.1h-7.9zM1513.2 1726.3h7.9v24.1h-7.9zM1285.1 1750.4h7.9v24.1h-7.9zM1324.4 1750.4h7.9v24.1h-7.9zM1332.3 1750.4h7.9v24.1h-7.9zM1348 1750.4h7.9v24.1h-7.9zM1355.9 1750.4h7.9v24.1h-7.9zM1466 1750.4h7.9v24.1h-7.9zM1536.8 1750.4h7.9v24.1h-7.9zM1544.7 1750.4h7.9v24.1h-7.9zM1631.2 1750.4h7.9v24.1h-7.9zM1647 1750.4h7.9v24.1h-7.9zM1450.3 1774.5h7.9v24.1h-7.9zM1458.2 1774.5h7.9v24.1h-7.9zM1647 1774.5h7.9v24.1h-7.9zM1749.3 1774.5h7.9v24.1h-7.9zM1796.5 1774.5h7.9v24.1h-7.9zM1851.5 1774.5h7.9v24.1h-7.9zM1324.4 1798.6h7.9v24.1h-7.9zM1765 1798.6h7.9v24.1h-7.9zM1827.9 1798.6h7.9v24.1h-7.9zM1497.5 1822.7h7.9v24.1h-7.9zM1505.4 1822.7h7.9v24.1h-7.9zM1584 1822.7h7.9v24.1h-7.9zM1765 1822.7h7.9v24.1h-7.9zM1725.7 1846.8h7.9v24.1h-7.9zM1662.7 1870.8h7.9v24.1h-7.9zM1717.8 1870.8h7.9v24.1h-7.9zM1277.2 1894.9h7.9v24.1h-7.9zM1717.8 1894.9h7.9v24.1h-7.9zM1772.9 1894.9h7.9v24.1h-7.9zM1285.1 1919h7.9v24.1h-7.9zM1292.9 1919h7.9v24.1h-7.9zM1725.7 1919h7.9v24.1h-7.9zM1812.2 1919h7.9v24.1h-7.9zM1308.7 1943.1h7.9v24.1h-7.9zM1481.8 1943.1h7.9v24.1h-7.9zM1505.4 1943.1h7.9v24.1h-7.9zM1529 1943.1h7.9v24.1h-7.9zM1599.8 1943.1h7.9v24.1h-7.9zM1709.9 1943.1h7.9v24.1h-7.9zM1733.5 1943.1h7.9v24.1h-7.9zM1741.4 1943.1h7.9v24.1h-7.9zM1788.6 1943.1h7.9v24.1h-7.9zM1796.5 1943.1h7.9v24.1h-7.9z"/>
<path fill="#E48A8A" d="M1285.1 1726.3h7.9v24.1h-7.9zM1292.9 1750.4h7.9v24.1h-7.9zM1820.1 1798.6h7.9v24.1h-7.9zM1843.7 1798.6h7.9v24.1h-7.9zM1733.5 1822.7h7.9v24.1h-7.9zM1458.2 1919h7.9v24.1h-7.9zM1473.9 1919h7.9v24.1h-7.9zM1489.6 1919h7.9v24.1h-7.9zM1497.5 1919h7.9v24.1h-7.9zM1505.4 1919h7.9v24.1h-7.9zM1552.6 1919h7.9v24.1h-7.9zM1395.2 1943.1h7.9v24.1h-7.9zM1410.9 1943.1h7.9v24.1h-7.9zM1418.8 1943.1h7.9v24.1h-7.9zM1426.7 1943.1h7.9v24.1h-7.9zM1442.4 1943.1h7.9v24.1h-7.9zM1702 1943.1h7.9v24.1h-7.9z"/>
<path fill="#EAA2A2" d="M1292.9 1726.3h7.9v24.1h-7.9zM1300.8 1726.3h7.9v24.1h-7.9zM1308.7 1726.3h7.9v24.1h-7.9zM1316.5 1726.3h7.9v24.1h-7.9zM1324.4 1726.3h7.9v24.1h-7.9zM1631.2 1726.3h7.9v24.1h-7.9zM1277.2 1750.4h7.9v24.1h-7.9zM1552.6 1750.4h7.9v24.1h-7.9zM1623.4 1750.4h7.9v24.1h-7.9zM1639.1 1750.4h7.9v24.1h-7.9zM1702 1750.4h7.9v24.1h-7.9zM1332.3 1774.5h7.9v24.1h-7.9zM1631.2 1774.5h7.9v24.1h-7.9zM1639.1 1774.5h7.9v24.1h-7.9zM1654.8 1774.5h7.9v24.1h-7.9zM1772.9 1774.5h7.9v24.1h-7.9zM1788.6 1774.5h7.9v24.1h-7.9zM1804.3 1774.5h7.9v24.1h-7.9zM1835.8 1774.5h7.9v24.1h-7.9zM1843.7 1774.5h7.9v24.1h-7.9zM1316.5 1798.6h7.9v24.1h-7.9zM1835.8 1798.6h7.9v24.1h-7.9zM1576.2 1822.7h7.9v24.1h-7.9zM1741.4 1822.7h7.9v24.1h-7.9zM1749.3 1822.7h7.9v24.1h-7.9zM1757.1 1822.7h7.9v24.1h-7.9zM1371.6 1919h7.9v24.1h-7.9zM1450.3 1919h7.9v24.1h-7.9zM1466 1919h7.9v24.1h-7.9zM1481.8 1919h7.9v24.1h-7.9zM1403.1 1943.1h7.9v24.1h-7.9zM1434.6 1943.1h7.9v24.1h-7.9zM1497.5 1943.1h7.9v24.1h-7.9zM1513.2 1943.1h7.9v24.1h-7.9zM1536.8 1943.1h7.9v24.1h-7.9zM1647 1943.1h7.9v24.1h-7.9zM1686.3 1943.1h7.9v24.1h-7.9zM1694.2 1943.1h7.9v24.1h-7.9zM1717.8 1943.1h7.9v24.1h-7.9z"/>
<path fill="#DF7373" d="M1332.3 1726.3h7.9v24.1h-7.9zM1607.6 1774.5h7.9v24.1h-7.9zM1615.5 1774.5h7.9v24.1h-7.9zM1725.7 1822.7h7.9v24.1h-7.9zM1379.5 1919h7.9v24.1h-7.9zM1387.3 1919h7.9v24.1h-7.9zM1395.2 1919h7.9v24.1h-7.9zM1403.1 1919h7.9v24.1h-7.9zM1513.2 1919h7.9v24.1h-7.9zM1521.1 1919h7.9v24.1h-7.9zM1544.7 1919h7.9v24.1h-7.9zM1387.3 1943.1h7.9v24.1h-7.9zM1654.8 1943.1h7.9v24.1h-7.9zM1678.4 1943.1h7.9v24.1h-7.9z"/>
<path fill="#CF2D2D" d="M1340.1 1726.3h7.9v24.1h-7.9zM1348 1726.3h7.9v24.1h-7.9zM1560.4 1919h7.9v24.1h-7.9zM1591.9 1919h7.9v24.1h-7.9zM1670.6 1943.1h7.9v24.1h-7.9z"/>
<path fill="#D95C5C" d="M1355.9 1726.3h7.9v24.1h-7.9zM1363.7 1726.3h7.9v24.1h-7.9zM1426.7 1919h7.9v24.1h-7.9zM1529 1919h7.9v24.1h-7.9zM1536.8 1919h7.9v24.1h-7.9zM1576.2 1919h7.9v24.1h-7.9zM1584 1919h7.9v24.1h-7.9zM1371.6 1943.1h7.9v24.1h-7.9zM1379.5 1943.1h7.9v24.1h-7.9z"/>
<path fill="#FAE8E8" d="M1466 1726.3h7.9v24.1h-7.9zM1497.5 1726.3h7.9v24.1h-7.9zM1560.4 1726.3h7.9v24.1h-7.9zM1717.8 1750.4h7.9v24.1h-7.9zM1780.7 1774.5h7.9v24.1h-7.9zM1308.7 1798.6h7.9v24.1h-7.9zM1741.4 1798.6h7.9v24.1h-7.9zM1812.2 1798.6h7.9v24.1h-7.9zM1607.6 1822.7h7.9v24.1h-7.9zM1851.5 1822.7h7.9v24.1h-7.9zM1363.7 1846.8h7.9v24.1h-7.9zM1410.9 1846.8h7.9v24.1h-7.9zM1521.1 1846.8h7.9v24.1h-7.9zM1529 1846.8h7.9v24.1h-7.9zM1639.1 1846.8h7.9v24.1h-7.9zM1654.8 1846.8h7.9v24.1h-7.9zM1796.5 1846.8h7.9v24.1h-7.9zM1292.9 1870.8h7.9v24.1h-7.9zM1466 1870.8h7.9v24.1h-7.9zM1505.4 1870.8h7.9v24.1h-7.9zM1560.4 1870.8h7.9v24.1h-7.9zM1568.3 1870.8h7.9v24.1h-7.9zM1827.9 1870.8h7.9v24.1h-7.9zM1481.8 1894.9h7.9v24.1h-7.9zM1489.6 1894.9h7.9v24.1h-7.9zM1576.2 1894.9h7.9v24.1h-7.9zM1702 1894.9h7.9v24.1h-7.9zM1709.9 1894.9h7.9v24.1h-7.9zM1820.1 1894.9h7.9v24.1h-7.9zM1843.7 1894.9h7.9v24.1h-7.9zM1702 1919h7.9v24.1h-7.9zM1285.1 1943.1h7.9v24.1h-7.9zM1521.1 1943.1h7.9v24.1h-7.9zM1576.2 1943.1h7.9v24.1h-7.9zM1639.1 1943.1h7.9v24.1h-7.9zM1804.3 1943.1h7.9v24.1h-7.9z"/>
<path fill="#F4D0D0" d="M1473.9 1726.3h7.9v24.1h-7.9zM1544.7 1726.3h7.9v24.1h-7.9zM1623.4 1726.3h7.9v24.1h-7.9zM1639.1 1726.3h7.9v24.1h-7.9zM1749.3 1726.3h7.9v24.1h-7.9zM1363.7 1750.4h7.9v24.1h-7.9zM1654.8 1750.4h7.9v24.1h-7.9zM1300.8 1774.5h7.9v24.1h-7.9zM1355.9 1774.5h7.9v24.1h-7.9zM1812.2 1774.5h7.9v24.1h-7.9zM1489.6 1798.6h7.9v24.1h-7.9zM1615.5 1798.6h7.9v24.1h-7.9zM1686.3 1798.6h7.9v24.1h-7.9zM1450.3 1822.7h7.9v24.1h-7.9zM1591.9 1822.7h7.9v24.1h-7.9zM1835.8 1822.7h7.9v24.1h-7.9zM1418.8 1846.8h7.9v24.1h-7.9zM1466 1846.8h7.9v24.1h-7.9zM1568.3 1846.8h7.9v24.1h-7.9zM1647 1846.8h7.9v24.1h-7.9zM1678.4 1846.8h7.9v24.1h-7.9zM1686.3 1846.8h7.9v24.1h-7.9zM1694.2 1846.8h7.9v24.1h-7.9zM1395.2 1870.8h7.9v24.1h-7.9zM1403.1 1870.8h7.9v24.1h-7.9zM1473.9 1870.8h7.9v24.1h-7.9zM1497.5 1870.8h7.9v24.1h-7.9zM1552.6 1870.8h7.9v24.1h-7.9zM1670.6 1870.8h7.9v24.1h-7.9zM1678.4 1870.8h7.9v24.1h-7.9zM1709.9 1870.8h7.9v24.1h-7.9zM1316.5 1894.9h7.9v24.1h-7.9zM1355.9 1894.9h7.9v24.1h-7.9zM1426.7 1894.9h7.9v24.1h-7.9zM1473.9 1894.9h7.9v24.1h-7.9zM1615.5 1894.9h7.9v24.1h-7.9zM1725.7 1894.9h7.9v24.1h-7.9zM1780.7 1894.9h7.9v24.1h-7.9zM1788.6 1894.9h7.9v24.1h-7.9zM1277.2 1919h7.9v24.1h-7.9zM1340.1 1919h7.9v24.1h-7.9zM1631.2 1919h7.9v24.1h-7.9zM1647 1919h7.9v24.1h-7.9zM1662.7 1919h7.9v24.1h-7.9zM1694.2 1919h7.9v24.1h-7.9zM1717.8 1919h7.9v24.1h-7.9zM1765 1919h7.9v24.1h-7.9zM1788.6 1919h7.9v24.1h-7.9zM1804.3 1919h7.9v24.1h-7.9zM1348 1943.1h7.9v24.1h-7.9zM1458.2 1943.1h7.9v24.1h-7.9zM1544.7 1943.1h7.9v24.1h-7.9zM1552.6 1943.1h7.9v24.1h-7.9zM1584 1943.1h7.9v24.1h-7.9zM1631.2 1943.1h7.9v24.1h-7.9zM1812.2 1943.1h7.9v24.1h-7.9zM1835.8 1943.1h7.9v24.1h-7.9z"/>
<path fill="#D44444" d="M1599.8 1774.5h7.9v24.1h-7.9zM1623.4 1774.5h7.9v24.1h-7.9zM1410.9 1919h7.9v24.1h-7.9zM1418.8 1919h7.9v24.1h-7.9zM1434.6 1919h7.9v24.1h-7.9zM1442.4 1919h7.9v24.1h-7.9zM1568.3 1919h7.9v24.1h-7.9zM1662.7 1943.1h7.9v24.1h-7.9z"/>
<path fill="#F7DCDC" d="M1481.8 1798.6h7.9v24.1h-7.9zM1599.8 1798.6h7.9v24.1h-7.9zM1749.3 1798.6h7.9v24.1h-7.9z"/>
<path fill="#F2C5C5" d="M1757.1 1798.6h7.9v24.1h-7.9z"/>
<path fill="#E17F7F" d="M1851.5 1798.6h7.9v24.1h-7.9z"/>
<path d="M1277.2 1726.3V1967.2M1285.1 1726.3V1967.2M1292.9 1726.3V1967.2M1300.8 1726.3V1967.2M1308.7 1726.3V1967.2M1316.5 1726.3V1967.2M1324.4 1726.3V1967.2M1332.3 1726.3V1967.2M1340.1 1726.3V1967.2M1348 1726.3V1967.2M1355.9 1726.3V1967.2M1363.7 1726.3V1967.2M1371.6 1726.3V1967.2M1379.5 1726.3V1967.2M1387.3 1726.3V1967.2M1395.2 1726.3V1967.2M1403.1 1726.3V1967.2M1410.9 1726.3V1967.2M1418.8 1726.3V1967.2M1426.7 1726.3V1967.2M1434.6 1726.3V1967.2M1442.4 1726.3V1967.2M1450.3 1726.3V1967.2M1458.2 1726.3V1967.2M1466 1726.3V1967.2M1473.9 1726.3V1967.2M1481.8 1726.3V1967.2M1489.6 1726.3V1967.2M1497.5 1726.3V1967.2M1505.4 1726.3V1967.2M1513.2 1726.3V1967.2M1521.1 1726.3V1967.2M1529 1726.3V1967.2M1536.8 1726.3V1967.2M1544.7 1726.3V1967.2M1552.6 1726.3V1967.2M1560.4 1726.3V1967.2M1568.3 1726.3V1967.2M1576.2 1726.3V1967.2M1584 1726.3V1967.2M1591.9 1726.3V1967.2M1599.8 1726.3V1967.2M1607.6 1726.3V1967.2M1615.5 1726.3V1967.2M1623.4 1726.3V1967.2M1631.2 1726.3V1967.2M1639.1 1726.3V1967.2M1647 1726.3V1967.2M1654.8 1726.3V1967.2M1662.7 1726.3V1967.2M1670.6 1726.3V1967.2M1678.4 1726.3V1967.2M1686.3 1726.3V1967.2M1694.2 1726.3V1967.2M1702 1726.3V1967.2M1709.9 1726.3V1967.2M1717.8 1726.3V1967.2M1725.7 1726.3V1967.2M1733.5 1726.3V1967.2M1741.4 1726.3V1967.2M1749.3 1726.3V1967.2M1757.1 1726.3V1967.2M1765 1726.3V1967.2M1772.9 1726.3V1967.2M1780.7 1726.3V1967.2M1788.6 1726.3V1967.2M1796.5 1726.3V1967.2M1804.3 1726.3V1967.2M1812.2 1726.3V1967.2M1820.1 1726.3V1967.2M1827.9 1726.3V1967.2M1835.8 1726.3V1967.2M1843.7 1726.3V1967.2M1851.5 1726.3V1967.2M1859.4 1726.3V1967.2M1277.2 1726.3H1859.4M1277.2 1750.4H1859.4M1277.2 1774.5H1859.4M1277.2 1798.6H1859.4M1277.2 1822.7H1859.4M1277.2 1846.8H1859.4M1277.2 1870.8H1859.4M1277.2 1894.9H1859.4M1277.2 1919H1859.4M1277.2 1943.1H1859.4M1277.2 1967.2H1859.4" stroke="#BDBDBD" stroke-width="0.8" fill="none"/>
<text x="1866.2" y="1693.3" font-size="15.3" textLength="81.8" lengthAdjust="spacingAndGlyphs">Treatment</text>
<text x="1866.2" y="1707.6" font-size="15.3" textLength="55.4" lengthAdjust="spacingAndGlyphs">Patient</text>
<text x="1866.2" y="1721.8" font-size="15.3" textLength="49.1" lengthAdjust="spacingAndGlyphs">Organ</text>
<text x="1866.2" y="1743.3" font-size="15.3" textLength="41.8" lengthAdjust="spacingAndGlyphs">SBS3</text>
<text x="1866.2" y="1767.39" font-size="15.3" textLength="43.5" lengthAdjust="spacingAndGlyphs">SBS9</text>
<text x="1866.2" y="1791.48" font-size="15.3" textLength="41.8" lengthAdjust="spacingAndGlyphs">SBS5</text>
<text x="1866.2" y="1815.57" font-size="15.3" textLength="53" lengthAdjust="spacingAndGlyphs">SBS26</text>
<text x="1866.2" y="1839.66" font-size="15.3" textLength="49.5" lengthAdjust="spacingAndGlyphs">SBS31</text>
<text x="1866.2" y="1863.75" font-size="15.3" textLength="47.5" lengthAdjust="spacingAndGlyphs">SBS11</text>
<text x="1866.2" y="1887.84" font-size="15.3" textLength="53" lengthAdjust="spacingAndGlyphs">SBS30</text>
<text x="1866.2" y="1911.93" font-size="15.3" textLength="49.9" lengthAdjust="spacingAndGlyphs">SBS87</text>
<text x="1866.2" y="1936.02" font-size="15.3" textLength="50" lengthAdjust="spacingAndGlyphs">SBS7a</text>
<text x="1866.2" y="1960.11" font-size="15.3" textLength="50" lengthAdjust="spacingAndGlyphs">SBS7b</text>
<path d="M1277 1738.35H1239.3V1762.43H1277M1277 1882.88H1259.3V1906.97H1277M1277 1858.8H1258.4V1894.93H1259.3M1277 1834.7H1250.4V1876.86H1258.4M1277 1810.62H1246.4V1855.78H1250.4M1277 1786.52H1234.7V1833.2H1246.4M1239.3 1750.39H1222.7V1809.86H1234.7M1277 1931.07H1219.3V1955.15H1277M1222.7 1780.13H1199.3V1943.11H1219.3" stroke="#000" stroke-width="1.15" fill="none"/>
<defs><linearGradient id="hg" x1="0" y1="0" x2="0" y2="1"><stop offset="0" stop-color="#CD2626"/><stop offset="1" stop-color="#FFFFFF"/></linearGradient></defs>
<text x="1967.7" y="1257" font-size="15" textLength="90.1" lengthAdjust="spacingAndGlyphs">Proportions</text>
<path fill="url(#hg)" d="M1967.7 1268.7h12.3v123.9h-12.3z"/>
<text x="1982.8" y="1282.5" font-size="15" textLength="26.5" lengthAdjust="spacingAndGlyphs">0.6</text>
<text x="1982.8" y="1323.2" font-size="15" textLength="24.8" lengthAdjust="spacingAndGlyphs">0.4</text>
<text x="1982.8" y="1363.6" font-size="15" textLength="24.8" lengthAdjust="spacingAndGlyphs">0.2</text>
<text x="1982.8" y="1403.6" font-size="15" textLength="11" lengthAdjust="spacingAndGlyphs">0</text>
<text x="1965.9" y="1440" font-size="15" textLength="48.1" lengthAdjust="spacingAndGlyphs">Organ</text>
<path fill="#00F" d="M1965.9 1448h16v17.3h-16z"/>
<text x="1988" y="1461.4" font-size="15" textLength="60.3" lengthAdjust="spacingAndGlyphs">Adrenal</text>
<path fill="#AB82FF" d="M1965.9 1465.3h16v17.3h-16z"/>
<text x="1988" y="1478.7" font-size="15" textLength="40.4" lengthAdjust="spacingAndGlyphs">Brain</text>
<path fill="#8B0000" d="M1965.9 1482.6h16v17.3h-16z"/>
<text x="1988" y="1496" font-size="15" textLength="51.2" lengthAdjust="spacingAndGlyphs">Cardio</text>
<path fill="#8B8B83" d="M1965.9 1499.9h16v17.3h-16z"/>
<text x="1988" y="1513.3" font-size="15" textLength="89.9" lengthAdjust="spacingAndGlyphs">Gallbladder</text>
<path fill="#FF4500" d="M1965.9 1517.2h16v17.3h-16z"/>
<text x="1988" y="1530.6" font-size="15" textLength="37.6" lengthAdjust="spacingAndGlyphs">Liver</text>
<path fill="#3CB371" d="M1965.9 1534.5h16v17.3h-16z"/>
<text x="1988" y="1547.9" font-size="15" textLength="96.8" lengthAdjust="spacingAndGlyphs">Lymph node</text>
<path fill="#FFD700" d="M1965.9 1551.8h16v17.3h-16z"/>
<text x="1988" y="1565.2" font-size="15" textLength="38.6" lengthAdjust="spacingAndGlyphs">Lung</text>
<path fill="#BFEFFF" d="M1965.9 1569.1h16v17.3h-16z"/>
<text x="1988" y="1582.5" font-size="15" textLength="76.9" lengthAdjust="spacingAndGlyphs">Omentum</text>
<path fill="#EEE685" d="M1965.9 1586.4h16v17.3h-16z"/>
<text x="1988" y="1599.8" font-size="15" textLength="90.1" lengthAdjust="spacingAndGlyphs">Peritoneum</text>
<path fill="#6495ED" d="M1965.9 1603.7h16v17.3h-16z"/>
<text x="1988" y="1617.1" font-size="15" textLength="50.3" lengthAdjust="spacingAndGlyphs">Pleura</text>
<path fill="#FF8C00" d="M1965.9 1621h16v17.3h-16z"/>
<text x="1988" y="1634.4" font-size="15" textLength="81.6" lengthAdjust="spacingAndGlyphs">Soft tissue</text>
<path fill="#006400" d="M1965.9 1638.3h16v17.3h-16z"/>
<text x="1988" y="1651.7" font-size="15" textLength="54.3" lengthAdjust="spacingAndGlyphs">Spleen</text>
<path fill="#F00" d="M1965.9 1655.6h16v17.3h-16z"/>
<text x="1988" y="1669" font-size="15" textLength="58.4" lengthAdjust="spacingAndGlyphs">Thyroid</text>
<text x="1965.9" y="1698.6" font-size="15" textLength="54.3" lengthAdjust="spacingAndGlyphs">Patient</text>
<path fill="#F00" d="M1965.9 1706.9h16v17.3h-16z"/>
<text x="1988" y="1720.3" font-size="15" textLength="74.9" lengthAdjust="spacingAndGlyphs">RAM12.01</text>
<path fill="#CDC673" d="M1965.9 1724.2h16v17.3h-16z"/>
<text x="1988" y="1737.6" font-size="15" textLength="83.4" lengthAdjust="spacingAndGlyphs">RAM13003</text>
<path fill="#6495ED" d="M1965.9 1741.5h16v17.3h-16z"/>
<text x="1988" y="1754.9" font-size="15" textLength="83.4" lengthAdjust="spacingAndGlyphs">RAM13004</text>
<path fill="#0F0" d="M1965.9 1758.8h16v17.3h-16z"/>
<text x="1988" y="1772.2" font-size="15" textLength="81.5" lengthAdjust="spacingAndGlyphs">RAM14001</text>
<path fill="#AB82FF" d="M1965.9 1776.1h16v17.3h-16z"/>
<text x="1988" y="1789.5" font-size="15" textLength="85" lengthAdjust="spacingAndGlyphs">RAM14006</text>
<path fill="#3CB371" d="M1965.9 1793.4h16v17.3h-16z"/>
<text x="1988" y="1806.8" font-size="15" textLength="83.2" lengthAdjust="spacingAndGlyphs">RAM19001</text>
<path fill="#F08080" d="M1965.9 1810.7h16v17.3h-16z"/>
<text x="1988" y="1824.1" font-size="15" textLength="85" lengthAdjust="spacingAndGlyphs">RAM19002</text>
<path fill="#4169E1" d="M1965.9 1828h16v17.3h-16z"/>
<text x="1988" y="1841.4" font-size="15" textLength="85" lengthAdjust="spacingAndGlyphs">RAM19003</text>
<path fill="#87CEEB" d="M1965.9 1845.3h16v17.3h-16z"/>
<text x="1988" y="1858.7" font-size="15" textLength="85" lengthAdjust="spacingAndGlyphs">RAM19005</text>
<path fill="#FFA54F" d="M1965.9 1862.6h16v17.3h-16z"/>
<text x="1988" y="1876" font-size="15" textLength="86.7" lengthAdjust="spacingAndGlyphs">RAM19006</text>
<text x="1965.9" y="1907.5" font-size="15" textLength="80.2" lengthAdjust="spacingAndGlyphs">Treatment</text>
<path fill="#E6E6FA" d="M1965.9 1914.9h16v17.3h-16z"/>
<text x="1988" y="1928.3" font-size="15" textLength="26.3" lengthAdjust="spacingAndGlyphs">ICB</text>
<path fill="#8FBC8F" d="M1965.9 1932.2h16v17.3h-16z"/>
<text x="1988" y="1945.6" font-size="15" textLength="48.8" lengthAdjust="spacingAndGlyphs">MAPKi</text>
<path fill="#483D8B" d="M1965.9 1949.5h16v17.3h-16z"/>
<text x="1988" y="1962.9" font-size="15" textLength="93.4" lengthAdjust="spacingAndGlyphs">MAPKi + ICB</text>
</g>
<g id="panel-d">
<text x="-1.2" y="2024.5" font-size="39.5" font-weight="bold" stroke="#000" stroke-width="0.8" textLength="25.8" lengthAdjust="spacingAndGlyphs">d</text>
<text transform="translate(17.5 2155.5) rotate(-90)" font-size="21" text-anchor="middle" textLength="238.5" lengthAdjust="spacingAndGlyphs">Proportion of mutational</text>
<text transform="translate(43.5 2155.5) rotate(-90)" font-size="21" text-anchor="middle" textLength="101.5" lengthAdjust="spacingAndGlyphs">signatures</text>
<rect x="119.2" y="2030.8" width="856.3" height="250.2" fill="#fff" stroke="#333" stroke-width="1.1"/>
<path fill="#FB8072" d="M120.9 2178.1h9.1v91.5h-9.1zM130.6 2171h9.1v98.6h-9.1zM140.3 2137.8h9.1v108.4h-9.1zM150 2138.7h9.1v113.2h-9.1zM159.7 2147.8h9.1v121.8h-9.1zM169.3 2172.1h9.1v97.5h-9.1zM179 2151.7h9.1v117.9h-9.1zM188.7 2152.1h9.1v117.5h-9.1zM198.4 2161.2h9.1v87.7h-9.1zM208.1 2158.9h9.1v110.7h-9.1zM217.8 2158.9h9.1v110.7h-9.1zM227.5 2163.3h9.1v106.3h-9.1zM237.2 2148.9h9.1v120.7h-9.1zM246.9 2176.2h9.1v93.4h-9.1zM256.6 2149.4h9.1v103.6h-9.1zM266.2 2158.9h9.1v110.7h-9.1zM275.9 2174.6h9.1v95h-9.1zM285.6 2143.2h9.1v95h-9.1zM295.3 2161.2h9.1v108.4h-9.1zM305 2171h9.1v83.6h-9.1zM314.7 2134.3h9.1v102.9h-9.1zM324.4 2160.5h9.1v109.1h-9.1zM334.1 2157.1h9.1v112.5h-9.1zM343.8 2156.2h9.1v113.4h-9.1zM353.5 2214.5h9.1v55.1h-9.1zM363.1 2174h9.1v95.6h-9.1zM372.8 2105h9.1v135.9h-9.1zM382.5 2152.1h9.1v99h-9.1zM392.2 2156.2h9.1v113.4h-9.1zM401.9 2208.6h9.1v18.4h-9.1zM411.6 2172.1h9.1v97.5h-9.1zM421.3 2041.9h9.1v105.9h-9.1zM431 2146.6h9.1v57.4h-9.1zM440.7 2087.4h9.1v97.7h-9.1zM450.4 2144.8h9.1v68.3h-9.1zM460 2143.2h9.1v53.3h-9.1zM469.7 2226.1h9.1v43.5h-9.1zM479.4 2199.2h9.1v46.2h-9.1zM489.1 2207.7h9.1v61.9h-9.1zM498.8 2081.3h9.1v100.4h-9.1zM508.5 2117h9.1v76.7h-9.1zM518.2 2041.9h9.1v88.3h-9.1zM527.9 2189.9h9.1v32.8h-9.1zM537.6 2173.5h9.1v96.1h-9.1zM547.3 2179.9h9.1v27.1h-9.1zM556.9 2144.8h9.1v59.2h-9.1zM566.6 2158.5h9.1v60.6h-9.1zM576.3 2166h9.1v41h-9.1zM586 2116.1h9.1v49.9h-9.1zM595.7 2105h9.1v108.8h-9.1zM605.4 2210.4h9.1v22.8h-9.1zM615.1 2163.9h9.1v49.2h-9.1zM624.8 2126.8h9.1v24.1h-9.1zM634.5 2079.5h9.1v122.7h-9.1zM644.2 2217.2h9.1v52.4h-9.1zM653.8 2091.3h9.1v79.5h-9.1zM663.5 2193.5h9.1v76.1h-9.1zM673.2 2154.4h9.1v72.4h-9.1zM682.9 2159.8h9.1v76.5h-9.1zM692.6 2135h9.1v93.8h-9.1zM702.3 2153.5h9.1v62.6h-9.1zM712 2139.8h9.1v56.2h-9.1zM731.4 2207.7h9.1v28.5h-9.1zM741.1 2203.6h9.1v66h-9.1zM750.8 2228.8h9.1v40.8h-9.1zM760.4 2133.7h9.1v135.9h-9.1zM779.8 2165.1h9.1v49.9h-9.1zM828.3 2201.5h9.1v68.1h-9.1zM838 2200.8h9.1v68.8h-9.1zM847.6 2200.8h9.1v68.8h-9.1zM857.3 2148.9h9.1v120.7h-9.1zM867 2194.7h9.1v74.9h-9.1zM876.7 2124.1h9.1v52.1h-9.1zM886.4 2169.2h9.1v100.4h-9.1zM896.1 2242.3h9.1v27.3h-9.1zM905.8 2183.1h9.1v17.3h-9.1zM915.5 2164.6h9.1v34.2h-9.1zM925.2 2237.3h9.1v32.3h-9.1zM944.5 2097.9h9.1v62.6h-9.1zM954.2 2098.8h9.1v57.2h-9.1zM963.9 2088.4h9.1v110.4h-9.1z"/>
<path fill="#BEBADA" d="M120.9 2041.9h9.1v136.2h-9.1zM130.6 2041.9h9.1v129.1h-9.1zM140.3 2041.9h9.1v95.9h-9.1zM150 2041.9h9.1v96.8h-9.1zM159.7 2041.9h9.1v105.9h-9.1zM169.3 2041.9h9.1v130.2h-9.1zM179 2041.9h9.1v109.8h-9.1zM188.7 2041.9h9.1v110.2h-9.1zM198.4 2041.9h9.1v119.3h-9.1zM208.1 2041.9h9.1v117h-9.1zM217.8 2041.9h9.1v117h-9.1zM227.5 2041.9h9.1v121.4h-9.1zM237.2 2041.9h9.1v107h-9.1zM246.9 2041.9h9.1v134.3h-9.1zM256.6 2041.9h9.1v107.5h-9.1zM266.2 2041.9h9.1v117h-9.1zM275.9 2041.9h9.1v132.7h-9.1zM285.6 2041.9h9.1v101.3h-9.1zM295.3 2041.9h9.1v119.3h-9.1zM305 2041.9h9.1v129.1h-9.1zM314.7 2041.9h9.1v92.4h-9.1zM324.4 2041.9h9.1v118.6h-9.1zM334.1 2041.9h9.1v115.2h-9.1zM343.8 2041.9h9.1v114.3h-9.1zM353.5 2041.9h9.1v172.6h-9.1zM363.1 2041.9h9.1v132.1h-9.1zM372.8 2041.9h9.1v63.1h-9.1zM382.5 2041.9h9.1v110.2h-9.1zM392.2 2041.9h9.1v114.3h-9.1zM401.9 2120.7h9.1v87.9h-9.1zM411.6 2064.4h9.1v107.7h-9.1zM431 2086.5h9.1v60.1h-9.1zM440.7 2063.8h9.1v23.7h-9.1zM450.4 2041.9h9.1v102.9h-9.1zM460 2041.9h9.1v101.3h-9.1zM469.7 2192h9.1v34.2h-9.1zM479.4 2153.7h9.1v45.5h-9.1zM489.1 2115h9.1v92.7h-9.1zM498.8 2041.9h9.1v39.4h-9.1zM508.5 2041.9h9.1v75.1h-9.1zM527.9 2124.8h9.1v65.1h-9.1zM537.6 2120.2h9.1v53.3h-9.1zM547.3 2144.1h9.1v35.7h-9.1zM556.9 2041.9h9.1v102.9h-9.1zM566.6 2074h9.1v84.5h-9.1zM576.3 2108.8h9.1v57.2h-9.1zM586 2041.9h9.1v74.2h-9.1zM595.7 2041.9h9.1v63.1h-9.1zM605.4 2041.9h9.1v168.5h-9.1zM615.1 2147.8h9.1v16.2h-9.1zM624.8 2099.5h9.1v27.3h-9.1zM644.2 2105.4h9.1v111.8h-9.1zM653.8 2041.9h9.1v49.4h-9.1zM663.5 2179.9h9.1v13.7h-9.1zM673.2 2081.3h9.1v73.1h-9.1zM692.6 2090.6h9.1v44.4h-9.1zM702.3 2041.9h9.1v111.6h-9.1zM712 2041.9h9.1v97.9h-9.1zM721.7 2095h9.1v66.3h-9.1zM731.4 2131.8h9.1v75.8h-9.1zM741.1 2102.7h9.1v100.9h-9.1zM750.8 2116.1h9.1v112.7h-9.1zM760.4 2105.9h9.1v27.8h-9.1zM770.1 2129.1h9.1v48.3h-9.1zM828.3 2129.8h9.1v71.7h-9.1zM838 2119.3h9.1v81.5h-9.1zM847.6 2134.3h9.1v66.5h-9.1zM857.3 2095h9.1v54h-9.1zM867 2103.6h9.1v91.1h-9.1zM876.7 2041.9h9.1v82.2h-9.1zM886.4 2102h9.1v67.2h-9.1zM896.1 2146h9.1v96.3h-9.1zM905.8 2041.9h9.1v141.2h-9.1zM915.5 2041.9h9.1v122.7h-9.1zM925.2 2157.1h9.1v80.2h-9.1zM934.9 2041.9h9.1v60.8h-9.1zM944.5 2041.9h9.1v56h-9.1zM954.2 2041.9h9.1v56.9h-9.1zM963.9 2041.9h9.1v46.5h-9.1z"/>
<path fill="#666" d="M140.3 2246.1h9.1v23.5h-9.1zM150 2251.8h9.1v17.8h-9.1zM198.4 2248.9h9.1v20.7h-9.1zM256.6 2253h9.1v16.6h-9.1zM305 2254.6h9.1v15h-9.1zM372.8 2240.9h9.1v28.7h-9.1zM382.5 2251.2h9.1v18.4h-9.1zM421.3 2228.4h9.1v41.2h-9.1zM431 2204h9.1v65.6h-9.1zM547.3 2225.4h9.1v44.2h-9.1zM566.6 2239.3h9.1v30.3h-9.1zM615.1 2238.9h9.1v30.7h-9.1zM624.8 2240h9.1v29.6h-9.1zM731.4 2236.1h9.1v33.5h-9.1zM789.5 2221.6h9.1v48h-9.1z"/>
<path fill="#66C2A5" d="M285.6 2238.2h9.1v31.4h-9.1zM547.3 2207h9.1v18.4h-9.1zM586 2166h9.1v48.5h-9.1zM615.1 2213.1h9.1v25.7h-9.1zM624.8 2151h9.1v21.9h-9.1zM721.7 2161.2h9.1v20.5h-9.1zM944.5 2160.5h9.1v25.3h-9.1z"/>
<path fill="#984EA3" d="M314.7 2237.3h9.1v32.3h-9.1zM401.9 2227h9.1v42.6h-9.1zM450.4 2213.1h9.1v56.5h-9.1zM721.7 2181.7h9.1v87.9h-9.1zM770.1 2220h9.1v49.6h-9.1zM789.5 2131.8h9.1v89.7h-9.1zM799.2 2155.1h9.1v114.5h-9.1zM808.9 2147.6h9.1v122h-9.1zM818.6 2159.8h9.1v109.8h-9.1zM934.9 2124.8h9.1v144.8h-9.1zM944.5 2185.8h9.1v83.8h-9.1zM954.2 2245.5h9.1v24.1h-9.1zM963.9 2198.8h9.1v70.8h-9.1z"/>
<path fill="#FFFFB3" d="M401.9 2041.9h9.1v78.8h-9.1zM431 2041.9h9.1v44.6h-9.1zM469.7 2041.9h9.1v49.4h-9.1zM479.4 2041.9h9.1v50.5h-9.1zM576.3 2041.9h9.1v66.9h-9.1zM615.1 2041.9h9.1v105.9h-9.1zM624.8 2041.9h9.1v19.8h-9.1zM644.2 2041.9h9.1v63.5h-9.1zM731.4 2041.9h9.1v89.9h-9.1zM760.4 2041.9h9.1v64h-9.1zM770.1 2041.9h9.1v87.2h-9.1zM808.9 2041.9h9.1v22.5h-9.1zM828.3 2041.9h9.1v53.3h-9.1zM838 2041.9h9.1v29.4h-9.1zM847.6 2041.9h9.1v59.9h-9.1zM857.3 2041.9h9.1v53.1h-9.1zM867 2041.9h9.1v61.7h-9.1zM896.1 2041.9h9.1v104.1h-9.1z"/>
<path fill="#1B9E77" d="M411.6 2041.9h9.1v22.5h-9.1zM440.7 2041.9h9.1v21.9h-9.1zM469.7 2091.3h9.1v100.6h-9.1zM479.4 2092.4h9.1v61.3h-9.1zM489.1 2041.9h9.1v73.1h-9.1zM527.9 2041.9h9.1v82.9h-9.1zM537.6 2041.9h9.1v78.3h-9.1zM547.3 2041.9h9.1v102.2h-9.1zM566.6 2041.9h9.1v32.1h-9.1zM624.8 2061.7h9.1v37.8h-9.1zM634.5 2041.9h9.1v37.6h-9.1zM663.5 2041.9h9.1v138h-9.1zM673.2 2041.9h9.1v39.4h-9.1zM692.6 2041.9h9.1v48.7h-9.1zM721.7 2041.9h9.1v53.1h-9.1zM741.1 2041.9h9.1v60.8h-9.1zM750.8 2041.9h9.1v74.2h-9.1zM779.8 2041.9h9.1v123.2h-9.1zM828.3 2095.2h9.1v34.6h-9.1zM838 2071.3h9.1v48h-9.1zM847.6 2101.8h9.1v32.6h-9.1zM886.4 2041.9h9.1v60.1h-9.1zM925.2 2041.9h9.1v57.6h-9.1z"/>
<path fill="#A6D854" d="M421.3 2147.8h9.1v80.6h-9.1zM440.7 2185.1h9.1v84.5h-9.1zM479.4 2245.5h9.1v24.1h-9.1zM518.2 2212.9h9.1v56.7h-9.1zM556.9 2204h9.1v65.6h-9.1zM566.6 2219.1h9.1v20.3h-9.1zM624.8 2172.8h9.1v67.2h-9.1zM634.5 2202.2h9.1v67.4h-9.1zM653.8 2170.8h9.1v98.8h-9.1zM673.2 2226.8h9.1v42.8h-9.1zM702.3 2216.1h9.1v53.5h-9.1zM712 2196.1h9.1v73.5h-9.1zM770.1 2177.4h9.1v42.6h-9.1zM789.5 2097h9.1v34.8h-9.1zM799.2 2108.8h9.1v46.2h-9.1zM808.9 2092.7h9.1v54.9h-9.1zM818.6 2041.9h9.1v117.9h-9.1zM876.7 2176.2h9.1v93.4h-9.1zM915.5 2198.8h9.1v70.8h-9.1zM954.2 2207.7h9.1v37.8h-9.1z"/>
<path fill="#E41A1C" d="M460 2196.5h9.1v73.1h-9.1zM518.2 2130.2h9.1v82.7h-9.1zM527.9 2222.7h9.1v46.9h-9.1zM576.3 2207h9.1v34.6h-9.1zM595.7 2213.8h9.1v55.8h-9.1zM682.9 2236.4h9.1v33.2h-9.1zM692.6 2228.8h9.1v40.8h-9.1zM799.2 2041.9h9.1v66.9h-9.1zM808.9 2064.4h9.1v28.2h-9.1zM905.8 2200.4h9.1v69.2h-9.1zM934.9 2102.7h9.1v22.1h-9.1zM954.2 2156h9.1v51.7h-9.1z"/>
<path fill="#FF3" d="M498.8 2181.7h9.1v87.9h-9.1zM508.5 2193.8h9.1v75.8h-9.1zM576.3 2241.6h9.1v28h-9.1zM586 2214.5h9.1v55.1h-9.1zM605.4 2233.2h9.1v36.4h-9.1zM779.8 2215h9.1v54.6h-9.1z"/>
<path fill="#D95F02" d="M682.9 2041.9h9.1v117.9h-9.1zM789.5 2041.9h9.1v55.1h-9.1zM925.2 2099.5h9.1v57.6h-9.1z"/>
<line x1="109.2" y1="2041.9" x2="119.2" y2="2041.9" stroke="#333" stroke-width="1.1"/>
<text x="100.3" y="2047.06" font-size="15.4" text-anchor="end" textLength="34.9" lengthAdjust="spacingAndGlyphs">1.00</text>
<line x1="109.2" y1="2098.82" x2="119.2" y2="2098.82" stroke="#333" stroke-width="1.1"/>
<text x="100.3" y="2103.98" font-size="15.4" text-anchor="end" textLength="33.2" lengthAdjust="spacingAndGlyphs">0.75</text>
<line x1="109.2" y1="2155.75" x2="119.2" y2="2155.75" stroke="#333" stroke-width="1.1"/>
<text x="100.3" y="2160.91" font-size="15.4" text-anchor="end" textLength="36.8" lengthAdjust="spacingAndGlyphs">0.50</text>
<line x1="109.2" y1="2212.68" x2="119.2" y2="2212.68" stroke="#333" stroke-width="1.1"/>
<text x="100.3" y="2217.83" font-size="15.4" text-anchor="end" textLength="35.1" lengthAdjust="spacingAndGlyphs">0.25</text>
<line x1="109.2" y1="2269.6" x2="119.2" y2="2269.6" stroke="#333" stroke-width="1.1"/>
<text x="100.3" y="2274.76" font-size="15.4" text-anchor="end" textLength="11.3" lengthAdjust="spacingAndGlyphs">0</text>
<path fill="#D9D9D9" d="M120.1 2285h853.7v24h-853.7zM120.1 2312.1h853.7v24h-853.7z"/>
<path fill="#AB82FF" d="M120.9 2285.8h9.1v22.4h-9.1zM401.9 2285.8h9.1v22.4h-9.1z"/>
<path fill="#FF69B4" d="M130.6 2285.8h9.1v22.4h-9.1zM411.6 2285.8h9.1v22.4h-9.1zM421.3 2285.8h9.1v22.4h-9.1z"/>
<path fill="#006400" d="M140.3 2285.8h9.1v22.4h-9.1zM431 2285.8h9.1v22.4h-9.1zM440.7 2285.8h9.1v22.4h-9.1zM450.4 2285.8h9.1v22.4h-9.1z"/>
<path fill="#68228B" d="M150 2285.8h9.1v22.4h-9.1zM460 2285.8h9.1v22.4h-9.1z"/>
<path fill="#8B0000" d="M159.7 2285.8h9.1v22.4h-9.1zM469.7 2285.8h9.1v22.4h-9.1zM479.4 2285.8h9.1v22.4h-9.1zM489.1 2285.8h9.1v22.4h-9.1z"/>
<path fill="#FF8C00" d="M169.3 2285.8h9.1v22.4h-9.1zM498.8 2285.8h9.1v22.4h-9.1zM508.5 2285.8h9.1v22.4h-9.1z"/>
<path fill="#00F" d="M179 2285.8h9.1v22.4h-9.1zM518.2 2285.8h9.1v22.4h-9.1z"/>
<path fill="#6495ED" d="M188.7 2285.8h9.1v22.4h-9.1zM527.9 2285.8h9.1v22.4h-9.1zM537.6 2285.8h9.1v22.4h-9.1zM547.3 2285.8h9.1v22.4h-9.1z"/>
<path fill="#BFEFFF" d="M198.4 2285.8h9.1v22.4h-9.1zM556.9 2285.8h9.1v22.4h-9.1zM566.6 2285.8h9.1v22.4h-9.1z"/>
<path fill="#EEE685" d="M208.1 2285.8h9.1v22.4h-9.1zM217.8 2285.8h9.1v22.4h-9.1zM576.3 2285.8h9.1v22.4h-9.1zM586 2285.8h9.1v22.4h-9.1zM595.7 2285.8h9.1v22.4h-9.1zM605.4 2285.8h9.1v22.4h-9.1zM615.1 2285.8h9.1v22.4h-9.1zM624.8 2285.8h9.1v22.4h-9.1zM634.5 2285.8h9.1v22.4h-9.1zM644.2 2285.8h9.1v22.4h-9.1zM653.8 2285.8h9.1v22.4h-9.1z"/>
<path fill="#F00" d="M227.5 2285.8h9.1v22.4h-9.1zM663.5 2285.8h9.1v22.4h-9.1z"/>
<path fill="#8B8B83" d="M237.2 2285.8h9.1v22.4h-9.1zM673.2 2285.8h9.1v22.4h-9.1z"/>
<path fill="#698B69" d="M246.9 2285.8h9.1v22.4h-9.1zM682.9 2285.8h9.1v22.4h-9.1z"/>
<path fill="#FFA07A" d="M256.6 2285.8h9.1v22.4h-9.1zM692.6 2285.8h9.1v22.4h-9.1z"/>
<path fill="#EEDFCC" d="M266.2 2285.8h9.1v22.4h-9.1zM702.3 2285.8h9.1v22.4h-9.1zM712 2285.8h9.1v22.4h-9.1z"/>
<path fill="#C71585" d="M275.9 2285.8h9.1v22.4h-9.1zM721.7 2285.8h9.1v22.4h-9.1z"/>
<path fill="#0FF" d="M285.6 2285.8h9.1v22.4h-9.1zM731.4 2285.8h9.1v22.4h-9.1zM741.1 2285.8h9.1v22.4h-9.1z"/>
<path fill="#228B22" d="M295.3 2285.8h9.1v22.4h-9.1zM750.8 2285.8h9.1v22.4h-9.1z"/>
<path fill="#C1FFC1" d="M305 2285.8h9.1v22.4h-9.1zM760.4 2285.8h9.1v22.4h-9.1zM770.1 2285.8h9.1v22.4h-9.1z"/>
<path fill="#8B4789" d="M314.7 2285.8h9.1v22.4h-9.1zM779.8 2285.8h9.1v22.4h-9.1z"/>
<path fill="#FBF" d="M324.4 2285.8h9.1v22.4h-9.1zM789.5 2285.8h9.1v22.4h-9.1zM799.2 2285.8h9.1v22.4h-9.1zM808.9 2285.8h9.1v22.4h-9.1zM818.6 2285.8h9.1v22.4h-9.1z"/>
<path fill="#9ACD32" d="M334.1 2285.8h9.1v22.4h-9.1zM828.3 2285.8h9.1v22.4h-9.1zM838 2285.8h9.1v22.4h-9.1zM847.6 2285.8h9.1v22.4h-9.1z"/>
<path fill="#FFB6C1" d="M343.8 2285.8h9.1v22.4h-9.1zM857.3 2285.8h9.1v22.4h-9.1zM867 2285.8h9.1v22.4h-9.1zM876.7 2285.8h9.1v22.4h-9.1zM886.4 2285.8h9.1v22.4h-9.1zM896.1 2285.8h9.1v22.4h-9.1zM905.8 2285.8h9.1v22.4h-9.1z"/>
<path fill="#E6E6FA" d="M353.5 2285.8h9.1v22.4h-9.1zM915.5 2285.8h9.1v22.4h-9.1z"/>
<path fill="#0F0" d="M363.1 2285.8h9.1v22.4h-9.1zM925.2 2285.8h9.1v22.4h-9.1z"/>
<path fill="#F0F" d="M372.8 2285.8h9.1v22.4h-9.1zM934.9 2285.8h9.1v22.4h-9.1zM944.5 2285.8h9.1v22.4h-9.1z"/>
<path fill="#FFD700" d="M382.5 2285.8h9.1v22.4h-9.1zM954.2 2285.8h9.1v22.4h-9.1z"/>
<path fill="#000" d="M392.2 2285.8h9.1v22.4h-9.1zM963.9 2285.8h9.1v22.4h-9.1z"/>
<path fill="#FF6347" d="M120.9 2312.9h9.1v22.4h-9.1zM130.6 2312.9h9.1v22.4h-9.1zM140.3 2312.9h9.1v22.4h-9.1zM150 2312.9h9.1v22.4h-9.1zM159.7 2312.9h9.1v22.4h-9.1zM169.3 2312.9h9.1v22.4h-9.1zM179 2312.9h9.1v22.4h-9.1zM188.7 2312.9h9.1v22.4h-9.1zM198.4 2312.9h9.1v22.4h-9.1zM208.1 2312.9h9.1v22.4h-9.1zM217.8 2312.9h9.1v22.4h-9.1zM227.5 2312.9h9.1v22.4h-9.1zM237.2 2312.9h9.1v22.4h-9.1zM246.9 2312.9h9.1v22.4h-9.1zM256.6 2312.9h9.1v22.4h-9.1zM266.2 2312.9h9.1v22.4h-9.1zM275.9 2312.9h9.1v22.4h-9.1zM285.6 2312.9h9.1v22.4h-9.1zM295.3 2312.9h9.1v22.4h-9.1zM305 2312.9h9.1v22.4h-9.1zM314.7 2312.9h9.1v22.4h-9.1zM324.4 2312.9h9.1v22.4h-9.1zM334.1 2312.9h9.1v22.4h-9.1zM343.8 2312.9h9.1v22.4h-9.1zM353.5 2312.9h9.1v22.4h-9.1zM363.1 2312.9h9.1v22.4h-9.1zM372.8 2312.9h9.1v22.4h-9.1zM382.5 2312.9h9.1v22.4h-9.1zM392.2 2312.9h9.1v22.4h-9.1z"/>
<path fill="#000080" d="M401.9 2312.9h9.1v22.4h-9.1zM411.6 2312.9h9.1v22.4h-9.1zM421.3 2312.9h9.1v22.4h-9.1zM431 2312.9h9.1v22.4h-9.1zM440.7 2312.9h9.1v22.4h-9.1zM450.4 2312.9h9.1v22.4h-9.1zM460 2312.9h9.1v22.4h-9.1zM469.7 2312.9h9.1v22.4h-9.1zM479.4 2312.9h9.1v22.4h-9.1zM489.1 2312.9h9.1v22.4h-9.1zM498.8 2312.9h9.1v22.4h-9.1zM508.5 2312.9h9.1v22.4h-9.1zM518.2 2312.9h9.1v22.4h-9.1zM527.9 2312.9h9.1v22.4h-9.1zM537.6 2312.9h9.1v22.4h-9.1zM547.3 2312.9h9.1v22.4h-9.1zM556.9 2312.9h9.1v22.4h-9.1zM566.6 2312.9h9.1v22.4h-9.1zM576.3 2312.9h9.1v22.4h-9.1zM586 2312.9h9.1v22.4h-9.1zM595.7 2312.9h9.1v22.4h-9.1zM605.4 2312.9h9.1v22.4h-9.1zM615.1 2312.9h9.1v22.4h-9.1zM624.8 2312.9h9.1v22.4h-9.1zM634.5 2312.9h9.1v22.4h-9.1zM644.2 2312.9h9.1v22.4h-9.1zM653.8 2312.9h9.1v22.4h-9.1zM663.5 2312.9h9.1v22.4h-9.1zM673.2 2312.9h9.1v22.4h-9.1zM682.9 2312.9h9.1v22.4h-9.1zM692.6 2312.9h9.1v22.4h-9.1zM702.3 2312.9h9.1v22.4h-9.1zM712 2312.9h9.1v22.4h-9.1zM721.7 2312.9h9.1v22.4h-9.1zM731.4 2312.9h9.1v22.4h-9.1zM741.1 2312.9h9.1v22.4h-9.1zM750.8 2312.9h9.1v22.4h-9.1zM760.4 2312.9h9.1v22.4h-9.1zM770.1 2312.9h9.1v22.4h-9.1zM779.8 2312.9h9.1v22.4h-9.1zM789.5 2312.9h9.1v22.4h-9.1zM799.2 2312.9h9.1v22.4h-9.1zM808.9 2312.9h9.1v22.4h-9.1zM818.6 2312.9h9.1v22.4h-9.1zM828.3 2312.9h9.1v22.4h-9.1zM838 2312.9h9.1v22.4h-9.1zM847.6 2312.9h9.1v22.4h-9.1zM857.3 2312.9h9.1v22.4h-9.1zM867 2312.9h9.1v22.4h-9.1zM876.7 2312.9h9.1v22.4h-9.1zM886.4 2312.9h9.1v22.4h-9.1zM896.1 2312.9h9.1v22.4h-9.1zM905.8 2312.9h9.1v22.4h-9.1zM915.5 2312.9h9.1v22.4h-9.1zM925.2 2312.9h9.1v22.4h-9.1zM934.9 2312.9h9.1v22.4h-9.1zM944.5 2312.9h9.1v22.4h-9.1zM954.2 2312.9h9.1v22.4h-9.1zM963.9 2312.9h9.1v22.4h-9.1z"/>
<text x="983.3" y="2303.3" font-size="21.1" textLength="18.1" lengthAdjust="spacingAndGlyphs">ID</text>
<text x="983.3" y="2330.4" font-size="21.1" textLength="46.2" lengthAdjust="spacingAndGlyphs">Type</text>
<text x="999.8" y="2029.8" font-size="15" textLength="84.1" lengthAdjust="spacingAndGlyphs">Signatures</text>
<path fill="#FFFFB3" d="M999.8 2038.1h16.4v16.2h-16.4z"/>
<text x="1021.1" y="2051.5" font-size="15" textLength="41" lengthAdjust="spacingAndGlyphs">SBS3</text>
<path fill="#1B9E77" d="M999.8 2054.3h16.4v16.2h-16.4z"/>
<text x="1021.1" y="2067.66" font-size="15" textLength="41" lengthAdjust="spacingAndGlyphs">SBS5</text>
<path fill="#D95F02" d="M999.8 2070.4h16.4v16.2h-16.4z"/>
<text x="1021.1" y="2083.82" font-size="15" textLength="42.6" lengthAdjust="spacingAndGlyphs">SBS6</text>
<path fill="#BEBADA" d="M999.8 2086.6h16.4v16.2h-16.4z"/>
<text x="1021.1" y="2099.98" font-size="15" textLength="49.1" lengthAdjust="spacingAndGlyphs">SBS7a</text>
<path fill="#FB8072" d="M999.8 2102.7h16.4v16.2h-16.4z"/>
<text x="1021.1" y="2116.14" font-size="15" textLength="49.1" lengthAdjust="spacingAndGlyphs">SBS7b</text>
<path fill="#66C2A5" d="M999.8 2118.9h16.4v16.2h-16.4z"/>
<text x="1021.1" y="2132.3" font-size="15" textLength="46.6" lengthAdjust="spacingAndGlyphs">SBS11</text>
<path fill="#E41A1C" d="M999.8 2135.1h16.4v16.2h-16.4z"/>
<text x="1021.1" y="2148.46" font-size="15" textLength="48.5" lengthAdjust="spacingAndGlyphs">SBS15</text>
<path fill="#FF3" d="M999.8 2151.2h16.4v16.2h-16.4z"/>
<text x="1021.1" y="2164.62" font-size="15" textLength="52" lengthAdjust="spacingAndGlyphs">SBS20</text>
<path fill="#A6D854" d="M999.8 2167.4h16.4v16.2h-16.4z"/>
<text x="1021.1" y="2180.78" font-size="15" textLength="52" lengthAdjust="spacingAndGlyphs">SBS26</text>
<path fill="#984EA3" d="M999.8 2183.5h16.4v16.2h-16.4z"/>
<text x="1021.1" y="2196.94" font-size="15" textLength="48.5" lengthAdjust="spacingAndGlyphs">SBS31</text>
<path fill="#666" d="M999.8 2199.7h16.4v16.2h-16.4z"/>
<text x="1021.1" y="2213.1" font-size="15" textLength="48.9" lengthAdjust="spacingAndGlyphs">SBS87</text>
<text x="1000.2" y="2243" font-size="15" textLength="38.5" lengthAdjust="spacingAndGlyphs">Type</text>
<path fill="#FF6347" d="M1000.2 2253h16.4v16h-16.4z"/>
<text x="1021.1" y="2266.2" font-size="15" textLength="67.2" lengthAdjust="spacingAndGlyphs">Baseline</text>
<path fill="#000080" d="M1000.2 2269h16.4v16h-16.4z"/>
<text x="1021.1" y="2282.2" font-size="15" textLength="22" lengthAdjust="spacingAndGlyphs">DP</text>
<text x="1114.7" y="2042.8" font-size="15" textLength="15.8" lengthAdjust="spacingAndGlyphs">ID</text>
<path fill="#AB82FF" d="M1114.7 2052.3h16.6v16h-16.6z"/>
<text x="1139.4" y="2065.9" font-size="15" textLength="23" lengthAdjust="spacingAndGlyphs">Pt1</text>
<path fill="#FF69B4" d="M1114.7 2068.3h16.6v16h-16.6z"/>
<text x="1139.4" y="2081.9" font-size="15" textLength="24.9" lengthAdjust="spacingAndGlyphs">Pt2</text>
<path fill="#006400" d="M1114.7 2084.3h16.6v16h-16.6z"/>
<text x="1139.4" y="2097.9" font-size="15" textLength="24.9" lengthAdjust="spacingAndGlyphs">Pt3</text>
<path fill="#68228B" d="M1114.7 2100.3h16.6v16h-16.6z"/>
<text x="1139.4" y="2113.9" font-size="15" textLength="24.9" lengthAdjust="spacingAndGlyphs">Pt4</text>
<path fill="#8B0000" d="M1114.7 2116.3h16.6v16h-16.6z"/>
<text x="1139.4" y="2129.9" font-size="15" textLength="24.9" lengthAdjust="spacingAndGlyphs">Pt5</text>
<path fill="#FF8C00" d="M1114.7 2132.3h16.6v16h-16.6z"/>
<text x="1139.4" y="2145.9" font-size="15" textLength="26.5" lengthAdjust="spacingAndGlyphs">Pt6</text>
<path fill="#00F" d="M1114.7 2148.3h16.6v16h-16.6z"/>
<text x="1139.4" y="2161.9" font-size="15" textLength="23" lengthAdjust="spacingAndGlyphs">Pt7</text>
<path fill="#6495ED" d="M1114.7 2164.3h16.6v16h-16.6z"/>
<text x="1139.4" y="2177.9" font-size="15" textLength="25.3" lengthAdjust="spacingAndGlyphs">Pt8</text>
<path fill="#BFEFFF" d="M1114.7 2180.3h16.6v16h-16.6z"/>
<text x="1139.4" y="2193.9" font-size="15" textLength="26.5" lengthAdjust="spacingAndGlyphs">Pt9</text>
<path fill="#EEE685" d="M1114.7 2196.3h16.6v16h-16.6z"/>
<text x="1139.4" y="2209.9" font-size="15" textLength="34" lengthAdjust="spacingAndGlyphs">Pt10</text>
<path fill="#F00" d="M1114.7 2212.3h16.6v16h-16.6z"/>
<text x="1139.4" y="2225.9" font-size="15" textLength="30.5" lengthAdjust="spacingAndGlyphs">Pt11</text>
<path fill="#8B8B83" d="M1114.7 2228.3h16.6v16h-16.6z"/>
<text x="1139.4" y="2241.9" font-size="15" textLength="32.4" lengthAdjust="spacingAndGlyphs">Pt12</text>
<path fill="#698B69" d="M1114.7 2244.3h16.6v16h-16.6z"/>
<text x="1139.4" y="2257.9" font-size="15" textLength="32.4" lengthAdjust="spacingAndGlyphs">Pt13</text>
<path fill="#FFA07A" d="M1114.7 2260.3h16.6v16h-16.6z"/>
<text x="1139.4" y="2273.9" font-size="15" textLength="32.4" lengthAdjust="spacingAndGlyphs">Pt14</text>
<path fill="#EEDFCC" d="M1186.5 2052.3h16.6v16h-16.6z"/>
<text x="1211.9" y="2065.9" font-size="15" textLength="32.4" lengthAdjust="spacingAndGlyphs">Pt15</text>
<path fill="#C71585" d="M1186.5 2068.3h16.6v16h-16.6z"/>
<text x="1211.9" y="2081.9" font-size="15" textLength="34" lengthAdjust="spacingAndGlyphs">Pt16</text>
<path fill="#0FF" d="M1186.5 2084.3h16.6v16h-16.6z"/>
<text x="1211.9" y="2097.9" font-size="15" textLength="30.5" lengthAdjust="spacingAndGlyphs">Pt17</text>
<path fill="#228B22" d="M1186.5 2100.3h16.6v16h-16.6z"/>
<text x="1211.9" y="2113.9" font-size="15" textLength="32.8" lengthAdjust="spacingAndGlyphs">Pt18</text>
<path fill="#C1FFC1" d="M1186.5 2116.3h16.6v16h-16.6z"/>
<text x="1211.9" y="2129.9" font-size="15" textLength="34" lengthAdjust="spacingAndGlyphs">Pt19</text>
<path fill="#8B4789" d="M1186.5 2132.3h16.6v16h-16.6z"/>
<text x="1211.9" y="2145.9" font-size="15" textLength="35.9" lengthAdjust="spacingAndGlyphs">Pt20</text>
<path fill="#FBF" d="M1186.5 2148.3h16.6v16h-16.6z"/>
<text x="1211.9" y="2161.9" font-size="15" textLength="32.4" lengthAdjust="spacingAndGlyphs">Pt21</text>
<path fill="#9ACD32" d="M1186.5 2164.3h16.6v16h-16.6z"/>
<text x="1211.9" y="2177.9" font-size="15" textLength="34.2" lengthAdjust="spacingAndGlyphs">Pt22</text>
<path fill="#FFB6C1" d="M1186.5 2180.3h16.6v16h-16.6z"/>
<text x="1211.9" y="2193.9" font-size="15" textLength="34.2" lengthAdjust="spacingAndGlyphs">Pt23</text>
<path fill="#E6E6FA" d="M1186.5 2196.3h16.6v16h-16.6z"/>
<text x="1211.9" y="2209.9" font-size="15" textLength="34.2" lengthAdjust="spacingAndGlyphs">Pt24</text>
<path fill="#0F0" d="M1186.5 2212.3h16.6v16h-16.6z"/>
<text x="1211.9" y="2225.9" font-size="15" textLength="34.2" lengthAdjust="spacingAndGlyphs">Pt25</text>
<path fill="#F0F" d="M1186.5 2228.3h16.6v16h-16.6z"/>
<text x="1211.9" y="2241.9" font-size="15" textLength="35.9" lengthAdjust="spacingAndGlyphs">Pt26</text>
<path fill="#FFD700" d="M1186.5 2244.3h16.6v16h-16.6z"/>
<text x="1211.9" y="2257.9" font-size="15" textLength="32.4" lengthAdjust="spacingAndGlyphs">Pt27</text>
<path fill="#000" d="M1186.5 2260.3h16.6v16h-16.6z"/>
<text x="1211.9" y="2273.9" font-size="15" textLength="35.9" lengthAdjust="spacingAndGlyphs">Pt29</text>
</g><g id="panel-e">
<text x="1344.2" y="2023.6" font-size="37.5" font-weight="bold" stroke="#000" stroke-width="0.8" textLength="22.3" lengthAdjust="spacingAndGlyphs">e</text>
<text transform="translate(1362.5 2161.5) rotate(-90)" font-size="21" text-anchor="middle" textLength="238.5" lengthAdjust="spacingAndGlyphs">Proportion of mutational</text>
<text transform="translate(1388.5 2161.5) rotate(-90)" font-size="21" text-anchor="middle" textLength="101.5" lengthAdjust="spacingAndGlyphs">signatures</text>
<rect x="1458.4" y="2039.1" width="306.2" height="245.2" fill="#fff" stroke="#222" stroke-width="1.2"/>
<path fill="#FB8072" d="M1460.6 2165.8h9.3v107.4h-9.3zM1471 2155.7h9.3v117.5h-9.3zM1491.9 2119.8h9.3v63.5h-9.3zM1502.3 2155.7h9.3v117.5h-9.3zM1658.8 2127.9h9.3v41.7h-9.3z"/>
<path fill="#BEBADA" d="M1460.6 2050.3h9.3v115.5h-9.3zM1471 2050.3h9.3v105.4h-9.3zM1491.9 2050.3h9.3v69.5h-9.3zM1502.3 2050.3h9.3v105.4h-9.3zM1512.8 2126.1h9.3v24.3h-9.3zM1585.8 2071.9h9.3v22.1h-9.3zM1617 2071.9h9.3v22.1h-9.3z"/>
<path fill="#984EA3" d="M1481.5 2247.8h9.3v25.4h-9.3zM1491.9 2205.9h9.3v51.5h-9.3zM1637.9 2219.7h9.3v20.3h-9.3zM1648.3 2213.2h9.3v60h-9.3zM1658.8 2212.1h9.3v26.7h-9.3zM1669.2 2234.4h9.3v38.8h-9.3zM1710.9 2217.9h9.3v20.1h-9.3z"/>
<path fill="#FF3" d="M1481.5 2225.3h9.3v22.5h-9.3zM1544 2050.3h9.3v222.9h-9.3zM1554.5 2165.8h9.3v107.4h-9.3zM1564.9 2140.8h9.3v132.4h-9.3zM1575.3 2135.2h9.3v138h-9.3zM1585.8 2145.7h9.3v46.4h-9.3zM1596.2 2166.9h9.3v70.4h-9.3zM1617 2145.7h9.3v46.4h-9.3zM1627.5 2223.3h9.3v49.9h-9.3zM1690.1 2178.9h9.3v46.4h-9.3zM1700.5 2224.2h9.3v49h-9.3zM1731.8 2202.1h9.3v28.5h-9.3zM1752.6 2225.3h9.3v47.9h-9.3z"/>
<path fill="#E41A1C" d="M1481.5 2202.1h9.3v23.2h-9.3zM1512.8 2210.6h9.3v26.7h-9.3zM1533.6 2218.8h9.3v28.8h-9.3zM1585.8 2094h9.3v51.7h-9.3zM1606.6 2187.2h9.3v26.1h-9.3zM1617 2094h9.3v51.7h-9.3zM1679.6 2213.7h9.3v59.5h-9.3zM1690.1 2124.1h9.3v28.1h-9.3zM1700.5 2143h9.3v59.1h-9.3zM1721.3 2176.9h9.3v51.9h-9.3zM1731.8 2169.6h9.3v32.5h-9.3zM1742.2 2134.6h9.3v64h-9.3zM1752.6 2131h9.3v67.5h-9.3z"/>
<path fill="#E78AC3" d="M1481.5 2174.2h9.3v27.9h-9.3zM1512.8 2150.4h9.3v60.2h-9.3zM1533.6 2201.2h9.3v17.6h-9.3zM1627.5 2050.3h9.3v84.3h-9.3zM1637.9 2145.7h9.3v23h-9.3zM1679.6 2192.1h9.3v21.6h-9.3zM1710.9 2157.7h9.3v18.5h-9.3z"/>
<path fill="#1B9E77" d="M1481.5 2141.9h9.3v32.3h-9.3zM1512.8 2050.3h9.3v75.8h-9.3zM1523.2 2075.9h9.3v149.3h-9.3zM1533.6 2126.1h9.3v75.1h-9.3zM1606.6 2121.4h9.3v65.8h-9.3zM1637.9 2050.3h9.3v95.4h-9.3zM1648.3 2139.2h9.3v55.9h-9.3zM1669.2 2141.9h9.3v35h-9.3zM1679.6 2151.1h9.3v41h-9.3zM1710.9 2050.3h9.3v107.4h-9.3zM1731.8 2127.9h9.3v41.7h-9.3zM1742.2 2078.8h9.3v55.7h-9.3z"/>
<path fill="#FFFFB3" d="M1481.5 2076.8h9.3v65.1h-9.3zM1533.6 2050.3h9.3v75.8h-9.3zM1585.8 2050.3h9.3v21.6h-9.3zM1596.2 2083.5h9.3v83.4h-9.3zM1606.6 2050.3h9.3v71.1h-9.3zM1617 2050.3h9.3v21.6h-9.3zM1648.3 2071.9h9.3v67.3h-9.3zM1658.8 2050.3h9.3v77.6h-9.3zM1669.2 2050.3h9.3v91.6h-9.3zM1679.6 2050.3h9.3v100.8h-9.3zM1690.1 2050.3h9.3v73.8h-9.3zM1700.5 2050.3h9.3v92.7h-9.3zM1721.3 2050.3h9.3v24.7h-9.3zM1731.8 2050.3h9.3v77.6h-9.3zM1742.2 2050.3h9.3v28.5h-9.3zM1752.6 2050.3h9.3v80.7h-9.3z"/>
<path fill="#8DD3C7" d="M1481.5 2050.3h9.3v26.5h-9.3zM1523.2 2050.3h9.3v25.6h-9.3zM1596.2 2050.3h9.3v33.2h-9.3zM1648.3 2050.3h9.3v21.6h-9.3z"/>
<path fill="#666" d="M1491.9 2257.4h9.3v15.8h-9.3zM1512.8 2237.3h9.3v35.9h-9.3zM1523.2 2253.1h9.3v20.1h-9.3zM1533.6 2247.6h9.3v25.6h-9.3zM1585.8 2235.5h9.3v37.7h-9.3zM1596.2 2237.3h9.3v35.9h-9.3zM1617 2235.5h9.3v37.7h-9.3zM1637.9 2240h9.3v33.2h-9.3zM1658.8 2238.9h9.3v34.3h-9.3zM1690.1 2247.6h9.3v25.6h-9.3zM1710.9 2238h9.3v35.2h-9.3zM1731.8 2254.7h9.3v18.5h-9.3z"/>
<path fill="#A6D854" d="M1491.9 2183.4h9.3v22.5h-9.3zM1523.2 2225.3h9.3v27.9h-9.3zM1585.8 2192.1h9.3v43.5h-9.3zM1606.6 2213.2h9.3v60h-9.3zM1617 2192.1h9.3v43.5h-9.3zM1637.9 2168.7h9.3v51h-9.3zM1658.8 2169.6h9.3v42.6h-9.3zM1690.1 2225.3h9.3v22.3h-9.3zM1710.9 2176.2h9.3v41.7h-9.3zM1721.3 2228.8h9.3v44.4h-9.3zM1731.8 2230.6h9.3v24.1h-9.3zM1742.2 2232.4h9.3v40.8h-9.3z"/>
<path fill="#377EB8" d="M1554.5 2050.3h9.3v115.5h-9.3zM1564.9 2050.3h9.3v90.5h-9.3zM1575.3 2050.3h9.3v84.9h-9.3zM1627.5 2134.6h9.3v88.7h-9.3zM1669.2 2215.7h9.3v18.7h-9.3zM1690.1 2152.2h9.3v26.7h-9.3zM1700.5 2202.1h9.3v22.1h-9.3zM1742.2 2198.5h9.3v33.9h-9.3zM1752.6 2198.5h9.3v26.7h-9.3z"/>
<path fill="#D95F02" d="M1648.3 2195.2h9.3v18.1h-9.3zM1669.2 2176.9h9.3v38.8h-9.3zM1721.3 2075h9.3v101.9h-9.3z"/>
<line x1="1448.4" y1="2050.3" x2="1458.4" y2="2050.3" stroke="#333" stroke-width="1.1"/>
<text x="1441.7" y="2055.46" font-size="15.4" text-anchor="end" textLength="34.9" lengthAdjust="spacingAndGlyphs">1.00</text>
<line x1="1448.4" y1="2106.03" x2="1458.4" y2="2106.03" stroke="#333" stroke-width="1.1"/>
<text x="1441.7" y="2111.18" font-size="15.4" text-anchor="end" textLength="33.2" lengthAdjust="spacingAndGlyphs">0.75</text>
<line x1="1448.4" y1="2161.75" x2="1458.4" y2="2161.75" stroke="#333" stroke-width="1.1"/>
<text x="1441.7" y="2166.91" font-size="15.4" text-anchor="end" textLength="36.8" lengthAdjust="spacingAndGlyphs">0.50</text>
<line x1="1448.4" y1="2217.47" x2="1458.4" y2="2217.47" stroke="#333" stroke-width="1.1"/>
<text x="1441.7" y="2222.63" font-size="15.4" text-anchor="end" textLength="35.1" lengthAdjust="spacingAndGlyphs">0.25</text>
<line x1="1448.4" y1="2273.2" x2="1458.4" y2="2273.2" stroke="#333" stroke-width="1.1"/>
<text x="1441.7" y="2278.36" font-size="15.4" text-anchor="end" textLength="11.3" lengthAdjust="spacingAndGlyphs">0</text>
<path fill="#D9D9D9" d="M1459.4 2287.6h303.7v21.4h-303.7zM1459.4 2311h303.7v21.7h-303.7z"/>
<path fill="#AB82FF" d="M1460.2 2288.4h10.1v19.8h-10.1zM1543.6 2288.4h10.1v19.8h-10.1zM1554.1 2288.4h10.1v19.8h-10.1zM1564.5 2288.4h10.1v19.8h-10.1zM1574.9 2288.4h10.1v19.8h-10.1z"/>
<path fill="#FF69B4" d="M1470.6 2288.4h10.1v19.8h-10.1zM1585.4 2288.4h10.1v19.8h-10.1zM1595.8 2288.4h10.1v19.8h-10.1zM1606.2 2288.4h10.1v19.8h-10.1zM1616.6 2288.4h10.1v19.8h-10.1z"/>
<path fill="#FFD700" d="M1481.1 2288.4h10.1v19.8h-10.1zM1627.1 2288.4h10.1v19.8h-10.1zM1637.5 2288.4h10.1v19.8h-10.1z"/>
<path fill="#006400" d="M1491.5 2288.4h10.1v19.8h-10.1zM1647.9 2288.4h10.1v19.8h-10.1zM1658.4 2288.4h10.1v19.8h-10.1zM1668.8 2288.4h10.1v19.8h-10.1z"/>
<path fill="#8B0000" d="M1501.9 2288.4h10.1v19.8h-10.1zM1679.2 2288.4h10.1v19.8h-10.1z"/>
<path fill="#FF8C00" d="M1512.3 2288.4h10.1v19.8h-10.1zM1689.7 2288.4h10.1v19.8h-10.1zM1700.1 2288.4h10.1v19.8h-10.1zM1710.5 2288.4h10.1v19.8h-10.1z"/>
<path fill="#00F" d="M1522.8 2288.4h10.1v19.8h-10.1zM1720.9 2288.4h10.1v19.8h-10.1z"/>
<path fill="#6495ED" d="M1533.2 2288.4h10.1v19.8h-10.1zM1731.4 2288.4h10.1v19.8h-10.1zM1741.8 2288.4h10.1v19.8h-10.1zM1752.2 2288.4h10.1v19.8h-10.1z"/>
<path fill="#FF6347" d="M1460.2 2311.8h10.1v20.1h-10.1zM1470.6 2311.8h10.1v20.1h-10.1zM1481.1 2311.8h10.1v20.1h-10.1zM1491.5 2311.8h10.1v20.1h-10.1zM1501.9 2311.8h10.1v20.1h-10.1zM1512.3 2311.8h10.1v20.1h-10.1zM1522.8 2311.8h10.1v20.1h-10.1zM1533.2 2311.8h10.1v20.1h-10.1z"/>
<path fill="#000080" d="M1543.6 2311.8h10.1v20.1h-10.1zM1554.1 2311.8h10.1v20.1h-10.1zM1564.5 2311.8h10.1v20.1h-10.1zM1574.9 2311.8h10.1v20.1h-10.1zM1585.4 2311.8h10.1v20.1h-10.1zM1595.8 2311.8h10.1v20.1h-10.1zM1606.2 2311.8h10.1v20.1h-10.1zM1616.6 2311.8h10.1v20.1h-10.1zM1627.1 2311.8h10.1v20.1h-10.1zM1637.5 2311.8h10.1v20.1h-10.1zM1647.9 2311.8h10.1v20.1h-10.1zM1658.4 2311.8h10.1v20.1h-10.1zM1668.8 2311.8h10.1v20.1h-10.1zM1679.2 2311.8h10.1v20.1h-10.1zM1689.7 2311.8h10.1v20.1h-10.1zM1700.1 2311.8h10.1v20.1h-10.1zM1710.5 2311.8h10.1v20.1h-10.1zM1720.9 2311.8h10.1v20.1h-10.1zM1731.4 2311.8h10.1v20.1h-10.1zM1741.8 2311.8h10.1v20.1h-10.1zM1752.2 2311.8h10.1v20.1h-10.1z"/>
<text x="1771.2" y="2304.2" font-size="21.1" textLength="18.1" lengthAdjust="spacingAndGlyphs">ID</text>
<text x="1771.2" y="2327.2" font-size="21.1" textLength="46.2" lengthAdjust="spacingAndGlyphs">Type</text>
<text x="1791.8" y="2055.3" font-size="15" textLength="84.1" lengthAdjust="spacingAndGlyphs">Signatures</text>
<path fill="#8DD3C7" d="M1791.8 2066.2h16.3v16.2h-16.3z"/>
<text x="1814.7" y="2077.8" font-size="15" textLength="39.1" lengthAdjust="spacingAndGlyphs">SBS1</text>
<path fill="#FFFFB3" d="M1791.8 2082.4h16.3v16.2h-16.3z"/>
<text x="1814.7" y="2093.99" font-size="15" textLength="41" lengthAdjust="spacingAndGlyphs">SBS3</text>
<path fill="#1B9E77" d="M1791.8 2098.6h16.3v16.2h-16.3z"/>
<text x="1814.7" y="2110.18" font-size="15" textLength="41" lengthAdjust="spacingAndGlyphs">SBS5</text>
<path fill="#D95F02" d="M1791.8 2114.8h16.3v16.2h-16.3z"/>
<text x="1814.7" y="2126.37" font-size="15" textLength="42.6" lengthAdjust="spacingAndGlyphs">SBS6</text>
<path fill="#BEBADA" d="M1791.8 2131h16.3v16.2h-16.3z"/>
<text x="1814.7" y="2142.56" font-size="15" textLength="49.1" lengthAdjust="spacingAndGlyphs">SBS7a</text>
<path fill="#FB8072" d="M1791.8 2147.1h16.3v16.2h-16.3z"/>
<text x="1814.7" y="2158.75" font-size="15" textLength="49.1" lengthAdjust="spacingAndGlyphs">SBS7b</text>
<path fill="#E78AC3" d="M1791.8 2163.3h16.3v16.2h-16.3z"/>
<text x="1814.7" y="2174.94" font-size="15" textLength="42.6" lengthAdjust="spacingAndGlyphs">SBS9</text>
<path fill="#E41A1C" d="M1791.8 2179.5h16.3v16.2h-16.3z"/>
<text x="1814.7" y="2191.13" font-size="15" textLength="48.5" lengthAdjust="spacingAndGlyphs">SBS15</text>
<path fill="#377EB8" d="M1791.8 2195.7h16.3v16.2h-16.3z"/>
<text x="1814.7" y="2207.32" font-size="15" textLength="48.9" lengthAdjust="spacingAndGlyphs">SBS18</text>
<path fill="#FF3" d="M1791.8 2211.9h16.3v16.2h-16.3z"/>
<text x="1814.7" y="2223.51" font-size="15" textLength="52" lengthAdjust="spacingAndGlyphs">SBS20</text>
<path fill="#A6D854" d="M1791.8 2228.1h16.3v16.2h-16.3z"/>
<text x="1814.7" y="2239.7" font-size="15" textLength="52" lengthAdjust="spacingAndGlyphs">SBS26</text>
<path fill="#984EA3" d="M1791.8 2244.3h16.3v16.2h-16.3z"/>
<text x="1814.7" y="2255.89" font-size="15" textLength="48.5" lengthAdjust="spacingAndGlyphs">SBS31</text>
<path fill="#666" d="M1791.8 2260.5h16.3v16.2h-16.3z"/>
<text x="1814.7" y="2272.08" font-size="15" textLength="48.9" lengthAdjust="spacingAndGlyphs">SBS87</text>
<text x="1903" y="2070.6" font-size="15" textLength="15.8" lengthAdjust="spacingAndGlyphs">ID</text>
<path fill="#AB82FF" d="M1903 2077.2h15.7v16.1h-15.7z"/>
<text x="1926.6" y="2089.1" font-size="15" textLength="40" lengthAdjust="spacingAndGlyphs">PDX1</text>
<path fill="#FF69B4" d="M1903 2093.3h15.7v16.1h-15.7z"/>
<text x="1926.6" y="2105.2" font-size="15" textLength="41.9" lengthAdjust="spacingAndGlyphs">PDX2</text>
<path fill="#FFD700" d="M1903 2109.4h15.7v16.1h-15.7z"/>
<text x="1926.6" y="2121.3" font-size="15" textLength="43.5" lengthAdjust="spacingAndGlyphs">PDX6</text>
<path fill="#006400" d="M1903 2125.5h15.7v16.1h-15.7z"/>
<text x="1926.6" y="2137.4" font-size="15" textLength="49.4" lengthAdjust="spacingAndGlyphs">PDX13</text>
<path fill="#8B0000" d="M1903 2141.6h15.7v16.1h-15.7z"/>
<text x="1926.6" y="2153.5" font-size="15" textLength="51" lengthAdjust="spacingAndGlyphs">PDX19</text>
<path fill="#FF8C00" d="M1903 2157.7h15.7v16.1h-15.7z"/>
<text x="1926.6" y="2169.6" font-size="15" textLength="51.2" lengthAdjust="spacingAndGlyphs">PDX25</text>
<path fill="#00F" d="M1903 2173.8h15.7v16.1h-15.7z"/>
<text x="1926.6" y="2185.7" font-size="15" textLength="52.9" lengthAdjust="spacingAndGlyphs">PDX26</text>
<path fill="#6495ED" d="M1903 2189.9h15.7v16.1h-15.7z"/>
<text x="1926.6" y="2201.8" font-size="15" textLength="49.4" lengthAdjust="spacingAndGlyphs">PDX27</text>
<text x="1904" y="2232.7" font-size="15" textLength="38.5" lengthAdjust="spacingAndGlyphs">Type</text>
<path fill="#FF6347" d="M1904 2243h15.4v15.8h-15.4z"/>
<text x="1926.6" y="2254.7" font-size="15" textLength="57.3" lengthAdjust="spacingAndGlyphs">Vehicle</text>
<path fill="#000080" d="M1904 2258.8h15.4v15.8h-15.4z"/>
<text x="1926.6" y="2270.5" font-size="15" textLength="141.3" lengthAdjust="spacingAndGlyphs">Acquired resistant</text>
</g><g id="panel-f">
<text x="-0.8" y="2397" font-size="39.5" font-weight="bold" stroke="#000" stroke-width="0.8" textLength="14.1" lengthAdjust="spacingAndGlyphs">f</text>
<text transform="translate(28.5 2528.5) rotate(-90)" font-size="21" text-anchor="middle" textLength="238.5" lengthAdjust="spacingAndGlyphs">Proportion of mutational</text>
<text transform="translate(54.5 2528.5) rotate(-90)" font-size="21" text-anchor="middle" textLength="101.5" lengthAdjust="spacingAndGlyphs">signatures</text>
<rect x="129.7" y="2405.7" width="289.8" height="246.2" fill="#fff" stroke="#333" stroke-width="1.1"/>
<path fill="#E41A1C" d="M132.4 2571.3h19.3v69.6h-19.3zM193.2 2528.3h19.3v81.7h-19.3zM335.2 2514.5h19.3v126.4h-19.3zM355.5 2445.7h19.3v24.6h-19.3z"/>
<path fill="#FB8072" d="M132.4 2511.8h19.3v59.5h-19.3zM152.7 2520.9h19.3v98.7h-19.3zM173 2511.8h19.3v129.1h-19.3zM213.5 2522.1h19.3v118.8h-19.3zM233.8 2526.8h19.3v114.1h-19.3zM254.1 2519.2h19.3v105.2h-19.3zM294.6 2538.8h19.3v86.2h-19.3zM314.9 2520.9h19.3v120h-19.3zM375.8 2539.7h19.3v101.2h-19.3zM396 2555.4h19.3v63.1h-19.3z"/>
<path fill="#8DD3C7" d="M132.4 2417.1h19.3v94.7h-19.3z"/>
<path fill="#E6AB02" d="M152.7 2619.6h19.3v21.3h-19.3zM294.6 2625h19.3v15.9h-19.3zM335.2 2417.1h19.3v97.4h-19.3z"/>
<path fill="#BEBADA" d="M152.7 2439.9h19.3v81h-19.3zM173 2417.1h19.3v94.7h-19.3zM213.5 2417.1h19.3v105h-19.3zM233.8 2417.1h19.3v109.7h-19.3zM254.1 2417.1h19.3v102.1h-19.3zM274.4 2480.4h19.3v43.4h-19.3zM294.6 2417.1h19.3v121.7h-19.3zM314.9 2417.1h19.3v103.8h-19.3zM375.8 2417.1h19.3v122.6h-19.3zM396 2475.5h19.3v79.9h-19.3z"/>
<path fill="#D95F02" d="M152.7 2417.1h19.3v22.8h-19.3zM274.4 2444.9h19.3v35.6h-19.3zM355.5 2417.1h19.3v28.6h-19.3z"/>
<path fill="#A6D854" d="M193.2 2610h19.3v30.9h-19.3zM274.4 2579.4h19.3v61.5h-19.3zM355.5 2470.4h19.3v103.4h-19.3z"/>
<path fill="#1B9E77" d="M193.2 2417.1h19.3v111.2h-19.3zM274.4 2417.1h19.3v27.8h-19.3z"/>
<path fill="#666" d="M254.1 2624.3h19.3v16.6h-19.3zM355.5 2573.8h19.3v67.1h-19.3zM396 2618.5h19.3v22.4h-19.3z"/>
<path fill="#E78AC3" d="M274.4 2523.9h19.3v55.5h-19.3z"/>
<path fill="#FFFFB3" d="M396 2417.1h19.3v58.4h-19.3z"/>
<line x1="119.7" y1="2417.1" x2="129.7" y2="2417.1" stroke="#333" stroke-width="1.1"/>
<text x="111.3" y="2422.26" font-size="15.4" text-anchor="end" textLength="34.9" lengthAdjust="spacingAndGlyphs">1.00</text>
<line x1="119.7" y1="2473.05" x2="129.7" y2="2473.05" stroke="#333" stroke-width="1.1"/>
<text x="111.3" y="2478.21" font-size="15.4" text-anchor="end" textLength="33.2" lengthAdjust="spacingAndGlyphs">0.75</text>
<line x1="119.7" y1="2529" x2="129.7" y2="2529" stroke="#333" stroke-width="1.1"/>
<text x="111.3" y="2534.16" font-size="15.4" text-anchor="end" textLength="36.8" lengthAdjust="spacingAndGlyphs">0.50</text>
<line x1="119.7" y1="2584.95" x2="129.7" y2="2584.95" stroke="#333" stroke-width="1.1"/>
<text x="111.3" y="2590.11" font-size="15.4" text-anchor="end" textLength="35.1" lengthAdjust="spacingAndGlyphs">0.25</text>
<line x1="119.7" y1="2640.9" x2="129.7" y2="2640.9" stroke="#333" stroke-width="1.1"/>
<text x="111.3" y="2646.06" font-size="15.4" text-anchor="end" textLength="11.3" lengthAdjust="spacingAndGlyphs">0</text>
<path fill="#D9D9D9" d="M132 2658.2h284.1v21.2h-284.1zM132 2682.2h284.1v21h-284.1z"/>
<path fill="#AB82FF" d="M132.8 2659h18.9v19.6h-18.9zM274.8 2659h18.9v19.6h-18.9z"/>
<path fill="#FF69B4" d="M153.1 2659h18.9v19.6h-18.9zM295 2659h18.9v19.6h-18.9z"/>
<path fill="#FFD700" d="M173.4 2659h18.9v19.6h-18.9zM315.3 2659h18.9v19.6h-18.9z"/>
<path fill="#8B0000" d="M193.6 2659h18.9v19.6h-18.9zM335.6 2659h18.9v19.6h-18.9z"/>
<path fill="#000" d="M213.9 2659h18.9v19.6h-18.9zM355.9 2659h18.9v19.6h-18.9z"/>
<path fill="#006400" d="M234.2 2659h18.9v19.6h-18.9zM376.2 2659h18.9v19.6h-18.9z"/>
<path fill="#68228B" d="M254.5 2659h18.9v19.6h-18.9zM396.4 2659h18.9v19.6h-18.9z"/>
<path fill="#FF6347" d="M132.8 2683h18.9v19.4h-18.9zM153.1 2683h18.9v19.4h-18.9zM173.4 2683h18.9v19.4h-18.9zM193.6 2683h18.9v19.4h-18.9zM213.9 2683h18.9v19.4h-18.9zM234.2 2683h18.9v19.4h-18.9zM254.5 2683h18.9v19.4h-18.9z"/>
<path fill="#000080" d="M274.8 2683h18.9v19.4h-18.9zM295 2683h18.9v19.4h-18.9zM315.3 2683h18.9v19.4h-18.9zM335.6 2683h18.9v19.4h-18.9zM355.9 2683h18.9v19.4h-18.9zM376.2 2683h18.9v19.4h-18.9zM396.4 2683h18.9v19.4h-18.9z"/>
<text x="428" y="2673.8" font-size="21.1" textLength="18.1" lengthAdjust="spacingAndGlyphs">ID</text>
<text x="428" y="2698" font-size="21.1" textLength="46.2" lengthAdjust="spacingAndGlyphs">Type</text>
<text x="450.8" y="2435.5" font-size="15" textLength="84.1" lengthAdjust="spacingAndGlyphs">Signatures</text>
<path fill="#8DD3C7" d="M450.8 2445.4h15.7v16.1h-15.7z"/>
<text x="472.9" y="2456.9" font-size="15" textLength="39.1" lengthAdjust="spacingAndGlyphs">SBS1</text>
<path fill="#FFFFB3" d="M450.8 2461.5h15.7v16.1h-15.7z"/>
<text x="472.9" y="2473.02" font-size="15" textLength="41" lengthAdjust="spacingAndGlyphs">SBS3</text>
<path fill="#1B9E77" d="M450.8 2477.6h15.7v16.1h-15.7z"/>
<text x="472.9" y="2489.14" font-size="15" textLength="41" lengthAdjust="spacingAndGlyphs">SBS5</text>
<path fill="#D95F02" d="M450.8 2493.8h15.7v16.1h-15.7z"/>
<text x="472.9" y="2505.26" font-size="15" textLength="42.6" lengthAdjust="spacingAndGlyphs">SBS6</text>
<path fill="#BEBADA" d="M450.8 2509.9h15.7v16.1h-15.7z"/>
<text x="472.9" y="2521.38" font-size="15" textLength="49.1" lengthAdjust="spacingAndGlyphs">SBS7a</text>
<path fill="#FB8072" d="M450.8 2526h15.7v16.1h-15.7z"/>
<text x="472.9" y="2537.5" font-size="15" textLength="49.1" lengthAdjust="spacingAndGlyphs">SBS7b</text>
<path fill="#E78AC3" d="M450.8 2542.1h15.7v16.1h-15.7z"/>
<text x="472.9" y="2553.62" font-size="15" textLength="42.6" lengthAdjust="spacingAndGlyphs">SBS9</text>
<path fill="#E6AB02" d="M450.8 2558.2h15.7v16.1h-15.7z"/>
<text x="472.9" y="2569.74" font-size="15" textLength="60.1" lengthAdjust="spacingAndGlyphs">SBS10b</text>
<path fill="#E41A1C" d="M450.8 2574.4h15.7v16.1h-15.7z"/>
<text x="472.9" y="2585.86" font-size="15" textLength="48.5" lengthAdjust="spacingAndGlyphs">SBS15</text>
<path fill="#A6D854" d="M450.8 2590.5h15.7v16.1h-15.7z"/>
<text x="472.9" y="2601.98" font-size="15" textLength="52" lengthAdjust="spacingAndGlyphs">SBS26</text>
<path fill="#666" d="M450.8 2606.6h15.7v16.1h-15.7z"/>
<text x="472.9" y="2618.1" font-size="15" textLength="48.9" lengthAdjust="spacingAndGlyphs">SBS87</text>
<text x="569.6" y="2423.8" font-size="15" textLength="15.8" lengthAdjust="spacingAndGlyphs">ID</text>
<path fill="#AB82FF" d="M569.6 2431.1h14.8v16h-14.8z"/>
<text x="592.6" y="2442.9" font-size="15" textLength="29.1" lengthAdjust="spacingAndGlyphs">V07</text>
<path fill="#FF69B4" d="M569.6 2447.1h14.8v16h-14.8z"/>
<text x="592.6" y="2458.9" font-size="15" textLength="29.3" lengthAdjust="spacingAndGlyphs">V32</text>
<path fill="#FFD700" d="M569.6 2463.1h14.8v16h-14.8z"/>
<text x="592.6" y="2474.9" font-size="15" textLength="30.9" lengthAdjust="spacingAndGlyphs">V50</text>
<path fill="#8B0000" d="M569.6 2479.1h14.8v16h-14.8z"/>
<text x="592.6" y="2490.9" font-size="15" textLength="27.4" lengthAdjust="spacingAndGlyphs">V51</text>
<path fill="#000" d="M569.6 2495.1h14.8v16h-14.8z"/>
<text x="592.6" y="2506.9" font-size="15" textLength="29.3" lengthAdjust="spacingAndGlyphs">V52</text>
<path fill="#006400" d="M569.6 2511.1h14.8v16h-14.8z"/>
<text x="592.6" y="2522.9" font-size="15" textLength="30.9" lengthAdjust="spacingAndGlyphs">V56</text>
<path fill="#68228B" d="M569.6 2527.1h14.8v16h-14.8z"/>
<text x="592.6" y="2538.9" font-size="15" textLength="30.9" lengthAdjust="spacingAndGlyphs">V59</text>
<text x="569.4" y="2585.7" font-size="15" textLength="38.5" lengthAdjust="spacingAndGlyphs">Type</text>
<path fill="#FF6347" d="M569.4 2595.3h14.8v16h-14.8z"/>
<text x="592.6" y="2607.2" font-size="15" textLength="67.2" lengthAdjust="spacingAndGlyphs">Baseline</text>
<path fill="#000080" d="M569.4 2611.3h14.8v16h-14.8z"/>
<text x="592.6" y="2623.2" font-size="15" textLength="22" lengthAdjust="spacingAndGlyphs">DP</text>
</g>
</svg>
</body></html>
